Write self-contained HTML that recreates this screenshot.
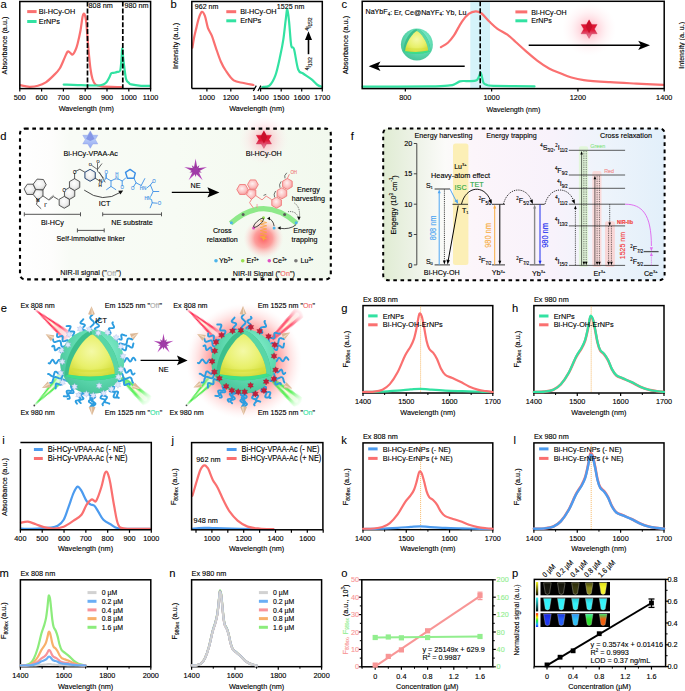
<!DOCTYPE html>
<html><head><meta charset="utf-8"><style>
html,body{margin:0;padding:0;background:#fff;}
svg{display:block;font-family:"Liberation Sans", sans-serif;}
</style></head><body>
<svg width="685" height="691" viewBox="0 0 685 691">
<rect width="685" height="691" fill="#fff"/>
<path d="M20.50 85.20 C21.25 85.37 23.43 85.93 25.00 86.20 C26.57 86.47 27.75 86.87 29.90 86.80 C32.05 86.73 35.25 86.53 37.90 85.80 C40.55 85.07 43.17 84.13 45.80 82.40 C48.43 80.67 51.38 77.72 53.70 75.40 C56.02 73.08 57.87 71.47 59.70 68.50 C61.53 65.53 63.38 60.42 64.70 57.60 C66.02 54.78 66.72 52.43 67.60 51.60 C68.48 50.77 69.17 52.10 70.00 52.60 C70.83 53.10 71.68 55.03 72.60 54.60 C73.52 54.17 74.67 51.82 75.50 50.00 C76.33 48.18 76.77 46.95 77.60 43.70 C78.43 40.45 79.68 34.95 80.50 30.50 C81.32 26.05 81.97 19.82 82.50 17.00 C83.03 14.18 83.28 13.85 83.70 13.60 C84.12 13.35 84.57 13.93 85.00 15.50 C85.43 17.07 85.72 17.32 86.30 23.00 C86.88 28.68 87.80 41.93 88.50 49.60 C89.20 57.27 89.83 64.10 90.50 69.00 C91.17 73.90 91.68 76.43 92.50 79.00 C93.32 81.57 93.92 83.17 95.40 84.40 C96.88 85.63 97.10 85.93 101.40 86.40 C105.70 86.87 117.90 87.07 121.20 87.20" fill="none" stroke="#FA7070" stroke-width="2.2" stroke-linejoin="round" stroke-linecap="round"/>
<path d="M63.70 84.60 C66.02 84.68 71.98 84.95 77.60 85.10 C83.22 85.25 93.17 85.58 97.40 85.50 C101.63 85.42 101.48 85.15 103.00 84.60 C104.52 84.05 105.45 83.37 106.50 82.20 C107.55 81.03 108.50 79.08 109.30 77.60 C110.10 76.12 110.47 74.10 111.30 73.30 C112.13 72.50 113.30 73.03 114.30 72.80 C115.30 72.57 116.32 72.28 117.30 71.90 C118.28 71.52 119.52 72.48 120.20 70.50 C120.88 68.52 121.07 63.65 121.40 60.00 C121.73 56.35 121.90 48.93 122.20 48.60 C122.50 48.27 122.83 54.77 123.20 58.00 C123.57 61.23 123.90 64.43 124.40 68.00 C124.90 71.57 125.43 76.90 126.20 79.40 C126.97 81.90 128.17 82.17 129.00 83.00 C129.83 83.83 129.18 83.93 131.20 84.40 C133.22 84.87 137.97 85.55 141.10 85.80 C144.23 86.05 148.52 85.88 150.00 85.90" fill="none" stroke="#32E2A2" stroke-width="2.2" stroke-linejoin="round" stroke-linecap="round"/>
<line x1="87.50" y1="1.50" x2="87.50" y2="88.60" stroke="#000" stroke-width="1.7" stroke-dasharray="5 1.9"/>
<line x1="122.80" y1="1.50" x2="122.80" y2="88.60" stroke="#000" stroke-width="1.7" stroke-dasharray="5 1.9"/>
<text x="88.60" y="5.80" font-size="7.25" stroke="#000" stroke-width="0.12" transform="translate(88.60 5.80) scale(1 1.1) translate(-88.60 -5.80)" dominant-baseline="central">808 nm</text>
<text x="124.50" y="5.80" font-size="7.25" stroke="#000" stroke-width="0.12" transform="translate(124.50 5.80) scale(1 1.1) translate(-124.50 -5.80)" dominant-baseline="central">980 nm</text>
<rect x="19.80" y="1.50" width="130.80" height="87.10" fill="none" stroke="#000" stroke-width="1.5"/>
<line x1="19.80" y1="88.60" x2="19.80" y2="91.60" stroke="#000" stroke-width="1.2"/>
<line x1="41.60" y1="88.60" x2="41.60" y2="91.60" stroke="#000" stroke-width="1.2"/>
<line x1="63.40" y1="88.60" x2="63.40" y2="91.60" stroke="#000" stroke-width="1.2"/>
<line x1="85.20" y1="88.60" x2="85.20" y2="91.60" stroke="#000" stroke-width="1.2"/>
<line x1="107.00" y1="88.60" x2="107.00" y2="91.60" stroke="#000" stroke-width="1.2"/>
<line x1="128.80" y1="88.60" x2="128.80" y2="91.60" stroke="#000" stroke-width="1.2"/>
<line x1="150.60" y1="88.60" x2="150.60" y2="91.60" stroke="#000" stroke-width="1.2"/>
<text x="19.80" y="97.40" font-size="7.3" text-anchor="middle" stroke="#000" stroke-width="0.12" transform="translate(19.80 97.40) scale(1 1.1) translate(-19.80 -97.40)" dominant-baseline="central">500</text>
<text x="41.60" y="97.40" font-size="7.3" text-anchor="middle" stroke="#000" stroke-width="0.12" transform="translate(41.60 97.40) scale(1 1.1) translate(-41.60 -97.40)" dominant-baseline="central">600</text>
<text x="63.40" y="97.40" font-size="7.3" text-anchor="middle" stroke="#000" stroke-width="0.12" transform="translate(63.40 97.40) scale(1 1.1) translate(-63.40 -97.40)" dominant-baseline="central">700</text>
<text x="85.20" y="97.40" font-size="7.3" text-anchor="middle" stroke="#000" stroke-width="0.12" transform="translate(85.20 97.40) scale(1 1.1) translate(-85.20 -97.40)" dominant-baseline="central">800</text>
<text x="107.00" y="97.40" font-size="7.3" text-anchor="middle" stroke="#000" stroke-width="0.12" transform="translate(107.00 97.40) scale(1 1.1) translate(-107.00 -97.40)" dominant-baseline="central">900</text>
<text x="128.80" y="97.40" font-size="7.3" text-anchor="middle" stroke="#000" stroke-width="0.12" transform="translate(128.80 97.40) scale(1 1.1) translate(-128.80 -97.40)" dominant-baseline="central">1000</text>
<text x="150.60" y="97.40" font-size="7.3" text-anchor="middle" stroke="#000" stroke-width="0.12" transform="translate(150.60 97.40) scale(1 1.1) translate(-150.60 -97.40)" dominant-baseline="central">1100</text>
<text x="86.30" y="108.40" font-size="7.3" text-anchor="middle" stroke="#000" stroke-width="0.12" transform="translate(86.30 108.40) scale(1 1.1) translate(-86.30 -108.40)" dominant-baseline="central">Wavelength (nm)</text>
<text x="4.60" y="45.50" font-size="7.3" text-anchor="middle" stroke="#000" stroke-width="0.12" transform="rotate(-90 4.60 45.50) translate(4.60 45.50) scale(1 1.1) translate(-4.60 -45.50)" dominant-baseline="central">Absorbance (a.u.)</text>
<line x1="27.20" y1="11.60" x2="36.60" y2="11.60" stroke="#FA7070" stroke-width="3"/>
<text x="38.80" y="11.60" font-size="7.3" stroke="#000" stroke-width="0.12" transform="translate(38.80 11.60) scale(1 1.1) translate(-38.80 -11.60)" dominant-baseline="central">Bi-HCy-OH</text>
<line x1="27.20" y1="21.50" x2="36.60" y2="21.50" stroke="#32E2A2" stroke-width="3"/>
<text x="38.80" y="21.50" font-size="7.3" stroke="#000" stroke-width="0.12" transform="translate(38.80 21.50) scale(1 1.1) translate(-38.80 -21.50)" dominant-baseline="central">ErNPs</text>
<path d="M192.40 47.60 C192.67 46.00 193.42 40.97 194.00 38.00 C194.58 35.03 195.08 33.15 195.90 29.80 C196.72 26.45 197.90 20.88 198.90 17.90 C199.90 14.92 200.90 12.23 201.90 11.90 C202.90 11.57 203.90 13.25 204.90 15.90 C205.90 18.55 206.75 24.50 207.90 27.80 C209.05 31.10 210.48 32.40 211.80 35.70 C213.12 39.00 214.30 43.30 215.80 47.60 C217.30 51.90 219.15 57.68 220.80 61.50 C222.45 65.32 223.55 67.35 225.70 70.50 C227.85 73.65 230.72 78.32 233.70 80.40 C236.68 82.48 240.30 82.23 243.60 83.00 C246.90 83.77 251.85 84.67 253.50 85.00" fill="none" stroke="#FA7070" stroke-width="2.2" stroke-linejoin="round" stroke-linecap="round"/>
<path d="M262.40 87.00 C263.57 86.77 267.23 87.53 269.40 85.60 C271.57 83.67 273.58 80.40 275.40 75.40 C277.22 70.40 278.98 61.55 280.30 55.60 C281.62 49.65 282.40 45.65 283.30 39.70 C284.20 33.75 285.03 24.98 285.70 19.90 C286.37 14.82 286.73 8.88 287.30 9.20 C287.87 9.52 288.45 15.80 289.10 21.80 C289.75 27.80 290.38 40.67 291.20 45.20 C292.02 49.73 292.83 44.95 294.00 49.00 C295.17 53.05 296.68 65.42 298.20 69.50 C299.72 73.58 300.87 71.85 303.10 73.50 C305.33 75.15 309.18 77.48 311.60 79.40 C314.02 81.32 315.87 83.77 317.60 85.00 C319.33 86.23 321.27 86.50 322.00 86.80" fill="none" stroke="#32E2A2" stroke-width="2.2" stroke-linejoin="round" stroke-linecap="round"/>
<path d="M191.8 88.6 L191.8 1.5 L322.3 1.5 L322.3 88.6 L259.6 88.6 M255.0 88.6 L191.8 88.6" fill="none" stroke="#000" stroke-width="1.5"/>
<line x1="253.30" y1="91.00" x2="256.30" y2="85.60" stroke="#000" stroke-width="1.2"/>
<line x1="257.90" y1="91.00" x2="260.90" y2="85.60" stroke="#000" stroke-width="1.2"/>
<line x1="204.00" y1="88.60" x2="204.00" y2="88.60" stroke="#000" stroke-width="1.2"/>
<line x1="206.90" y1="88.60" x2="206.90" y2="91.60" stroke="#000" stroke-width="1.2"/>
<text x="206.90" y="97.40" font-size="7.3" text-anchor="middle" stroke="#000" stroke-width="0.12" transform="translate(206.90 97.40) scale(1 1.1) translate(-206.90 -97.40)" dominant-baseline="central">1000</text>
<line x1="230.80" y1="88.60" x2="230.80" y2="91.60" stroke="#000" stroke-width="1.2"/>
<text x="230.80" y="97.40" font-size="7.3" text-anchor="middle" stroke="#000" stroke-width="0.12" transform="translate(230.80 97.40) scale(1 1.1) translate(-230.80 -97.40)" dominant-baseline="central">1200</text>
<line x1="260.60" y1="88.60" x2="260.60" y2="91.60" stroke="#000" stroke-width="1.2"/>
<text x="260.60" y="97.40" font-size="7.3" text-anchor="middle" stroke="#000" stroke-width="0.12" transform="translate(260.60 97.40) scale(1 1.1) translate(-260.60 -97.40)" dominant-baseline="central">1400</text>
<line x1="281.20" y1="88.60" x2="281.20" y2="91.60" stroke="#000" stroke-width="1.2"/>
<text x="281.20" y="97.40" font-size="7.3" text-anchor="middle" stroke="#000" stroke-width="0.12" transform="translate(281.20 97.40) scale(1 1.1) translate(-281.20 -97.40)" dominant-baseline="central">1500</text>
<line x1="301.70" y1="88.60" x2="301.70" y2="91.60" stroke="#000" stroke-width="1.2"/>
<text x="301.70" y="97.40" font-size="7.3" text-anchor="middle" stroke="#000" stroke-width="0.12" transform="translate(301.70 97.40) scale(1 1.1) translate(-301.70 -97.40)" dominant-baseline="central">1600</text>
<line x1="322.30" y1="88.60" x2="322.30" y2="91.60" stroke="#000" stroke-width="1.2"/>
<text x="322.30" y="97.40" font-size="7.3" text-anchor="middle" stroke="#000" stroke-width="0.12" transform="translate(322.30 97.40) scale(1 1.1) translate(-322.30 -97.40)" dominant-baseline="central">1700</text>
<text x="256.80" y="108.00" font-size="7.3" text-anchor="middle" stroke="#000" stroke-width="0.12" transform="translate(256.80 108.00) scale(1 1.1) translate(-256.80 -108.00)" dominant-baseline="central">Wavelength (nm)</text>
<text x="175.20" y="46.00" font-size="7.3" text-anchor="middle" stroke="#000" stroke-width="0.12" transform="rotate(-90 175.20 46.00) translate(175.20 46.00) scale(1 1.1) translate(-175.20 -46.00)" dominant-baseline="central">Intensity (a.u.)</text>
<text x="194.80" y="6.30" font-size="7.1" stroke="#000" stroke-width="0.12" transform="translate(194.80 6.30) scale(1 1.1) translate(-194.80 -6.30)" dominant-baseline="central">962 nm</text>
<text x="276.80" y="6.30" font-size="7.1" stroke="#000" stroke-width="0.12" transform="translate(276.80 6.30) scale(1 1.1) translate(-276.80 -6.30)" dominant-baseline="central">1525 nm</text>
<line x1="226.30" y1="11.70" x2="236.20" y2="11.70" stroke="#FA7070" stroke-width="3"/>
<text x="240.20" y="11.70" font-size="7.3" stroke="#000" stroke-width="0.12" transform="translate(240.20 11.70) scale(1 1.1) translate(-240.20 -11.70)" dominant-baseline="central">Bi-HCy-OH</text>
<line x1="226.30" y1="20.80" x2="236.20" y2="20.80" stroke="#32E2A2" stroke-width="3"/>
<text x="240.20" y="20.80" font-size="7.3" stroke="#000" stroke-width="0.12" transform="translate(240.20 20.80) scale(1 1.1) translate(-240.20 -20.80)" dominant-baseline="central">ErNPs</text>
<line x1="308.50" y1="54.20" x2="308.50" y2="38.00" stroke="#000" stroke-width="1.6"/>
<path d="M308.5 31.2 L312 40 L305 40 Z" fill="#000"/>
<text x="308.30" y="24.00" font-size="6" text-anchor="middle" stroke="#000" stroke-width="0.12" transform="rotate(-90 308.30 24.00) translate(308.30 24.00) scale(1 1.1) translate(-308.30 -24.00)" dominant-baseline="central"><tspan font-size="4.5" dy="-1.5">4</tspan><tspan dy="1.5">I</tspan><tspan font-size="4.5" dy="1.8">15/2</tspan></text>
<text x="308.30" y="63.80" font-size="6" text-anchor="middle" stroke="#000" stroke-width="0.12" transform="rotate(-90 308.30 63.80) translate(308.30 63.80) scale(1 1.1) translate(-308.30 -63.80)" dominant-baseline="central"><tspan font-size="4.5" dy="-1.5">4</tspan><tspan dy="1.5">I</tspan><tspan font-size="4.5" dy="1.8">13/2</tspan></text>
<rect x="470.3" y="1.3" width="19.7" height="87.3" fill="#D5F3FA"/>
<circle cx="416.9" cy="44.5" r="16.0" fill="url(#shell)"/>
<path d="M416.65 29.00 C410.90 30.00 403.15 40.50 403.40 51.75 Q416.90 56.00 430.40 51.50 C430.65 40.50 422.90 30.00 416.65 29.00 Z" fill="#3cbf8c"/>
<path d="M416.65 29.00 C422.90 30.00 430.65 40.50 430.40 51.50 L428.15 50.50 C427.90 42.00 420.15 32.00 416.90 31.00 Z" fill="#58d6a6"/>
<path d="M403.40 51.75 Q416.90 56.00 430.40 51.50 L428.15 50.50 Q416.90 53.10 405.15 50.90 Z" fill="#3de08a"/>
<path d="M416.90 31.00 C413.65 32.00 405.65 42.00 405.15 50.90 Q416.90 53.10 428.15 50.50 C427.90 42.00 420.15 32.00 416.90 31.00 Z" fill="url(#core)"/>
<path d="M406.90 48.25 Q416.90 50.25 426.65 48.00" fill="none" stroke="#d6de3a" stroke-width="1.20" opacity="0.6"/>
<circle cx="589.1" cy="29.1" r="27" fill="url(#glowStar)"/>
<path d="M589.10 19.80 L586.42 24.45 L581.05 24.45 L583.73 29.10 L581.05 33.75 L586.42 33.75 L589.10 38.40 L591.78 33.75 L597.15 33.75 L594.47 29.10 L597.15 24.45 L591.78 24.45 Z" fill="url(#starR)" stroke="#c01030" stroke-width="0.3" stroke-linejoin="round"/>
<path d="M589.10 20.30 L592.60 26.60 L589.10 33.20 L585.60 26.60 Z" fill="#c8102a" stroke="none" stroke-width="0" stroke-linejoin="round"/>
<path d="M440.90 47.20 C442.07 46.45 445.75 44.62 447.90 42.70 C450.05 40.78 451.48 39.18 453.80 35.70 C456.12 32.22 459.32 25.43 461.80 21.80 C464.28 18.17 466.38 15.65 468.70 13.90 C471.02 12.15 473.55 11.37 475.70 11.30 C477.85 11.23 479.28 11.75 481.60 13.50 C483.92 15.25 486.95 19.25 489.60 21.80 C492.25 24.35 494.53 26.65 497.50 28.80 C500.47 30.95 504.42 32.55 507.40 34.70 C510.38 36.85 512.42 39.05 515.40 41.70 C518.38 44.35 521.67 47.45 525.30 50.60 C528.93 53.75 533.23 57.62 537.20 60.60 C541.17 63.58 545.13 66.35 549.10 68.50 C553.07 70.65 557.40 72.03 561.00 73.50 C564.60 74.97 566.90 76.20 570.70 77.30 C574.50 78.40 577.23 79.28 583.80 80.10 C590.37 80.92 601.33 81.62 610.10 82.20 C618.87 82.78 627.50 83.15 636.40 83.60 C645.30 84.05 658.98 84.68 663.50 84.90" fill="none" stroke="#FA7070" stroke-width="2.2" stroke-linejoin="round" stroke-linecap="round"/>
<path d="M362.50 86.60 C373.75 86.57 415.43 86.60 430.00 86.40 C444.57 86.20 445.73 85.80 449.90 85.40 C454.07 85.00 453.35 84.67 455.00 84.00 C456.65 83.33 458.30 81.90 459.80 81.40 C461.30 80.90 462.35 81.03 464.00 81.00 C465.65 80.97 467.58 81.33 469.70 81.20 C471.82 81.07 475.12 81.07 476.70 80.20 C478.28 79.33 478.55 77.28 479.20 76.00 C479.85 74.72 480.13 72.33 480.60 72.50 C481.07 72.67 481.50 75.25 482.00 77.00 C482.50 78.75 482.77 81.67 483.60 83.00 C484.43 84.33 485.35 84.53 487.00 85.00 C488.65 85.47 485.58 85.57 493.50 85.80 C501.42 86.03 527.67 86.30 534.50 86.40" fill="none" stroke="#32E2A2" stroke-width="2.2" stroke-linejoin="round" stroke-linecap="round"/>
<line x1="480.20" y1="1.30" x2="480.20" y2="88.60" stroke="#000" stroke-width="1.6" stroke-dasharray="4.9 2.1"/>
<rect x="362.20" y="1.30" width="302.00" height="87.30" fill="none" stroke="#000" stroke-width="1.5"/>
<line x1="405.34" y1="88.60" x2="405.34" y2="91.60" stroke="#000" stroke-width="1.2"/>
<text x="405.34" y="97.00" font-size="7.3" text-anchor="middle" stroke="#000" stroke-width="0.12" transform="translate(405.34 97.00) scale(1 1.1) translate(-405.34 -97.00)" dominant-baseline="central">800</text>
<line x1="491.63" y1="88.60" x2="491.63" y2="91.60" stroke="#000" stroke-width="1.2"/>
<text x="491.63" y="97.00" font-size="7.3" text-anchor="middle" stroke="#000" stroke-width="0.12" transform="translate(491.63 97.00) scale(1 1.1) translate(-491.63 -97.00)" dominant-baseline="central">1000</text>
<line x1="577.91" y1="88.60" x2="577.91" y2="91.60" stroke="#000" stroke-width="1.2"/>
<text x="577.91" y="97.00" font-size="7.3" text-anchor="middle" stroke="#000" stroke-width="0.12" transform="translate(577.91 97.00) scale(1 1.1) translate(-577.91 -97.00)" dominant-baseline="central">1200</text>
<line x1="664.20" y1="88.60" x2="664.20" y2="91.60" stroke="#000" stroke-width="1.2"/>
<text x="664.20" y="97.00" font-size="7.3" text-anchor="middle" stroke="#000" stroke-width="0.12" transform="translate(664.20 97.00) scale(1 1.1) translate(-664.20 -97.00)" dominant-baseline="central">1400</text>
<text x="513.40" y="109.00" font-size="7.1" text-anchor="middle" stroke="#000" stroke-width="0.12" transform="translate(513.40 109.00) scale(1 1.1) translate(-513.40 -109.00)" dominant-baseline="central">Wavelength (nm)</text>
<text x="345.60" y="45.00" font-size="7.35" text-anchor="middle" stroke="#000" stroke-width="0.12" transform="rotate(-90 345.60 45.00) translate(345.60 45.00) scale(1 1.1) translate(-345.60 -45.00)" dominant-baseline="central">Absorbance (a.u.)</text>
<text x="681.00" y="45.30" font-size="7.1" text-anchor="middle" stroke="#000" stroke-width="0.12" transform="rotate(-90 681.00 45.30) translate(681.00 45.30) scale(1 1.1) translate(-681.00 -45.30)" dominant-baseline="central">Intensity (a. u.)</text>
<text x="365.50" y="11.80" font-size="7.15" stroke="#000" stroke-width="0.12" transform="translate(365.50 11.80) scale(1 1.1) translate(-365.50 -11.80)" dominant-baseline="central">NaYbF<tspan font-size="4.4" dy="1.6">4</tspan><tspan dy="-1.6">: Er, Ce@NaYF</tspan><tspan font-size="4.4" dy="1.6">4</tspan><tspan dy="-1.6">: Yb, Lu</tspan></text>
<line x1="515.40" y1="11.90" x2="527.30" y2="11.90" stroke="#FA7070" stroke-width="3"/>
<text x="531.20" y="11.90" font-size="7.1" stroke="#000" stroke-width="0.12" transform="translate(531.20 11.90) scale(1 1.1) translate(-531.20 -11.90)" dominant-baseline="central">Bi-HCy-OH</text>
<line x1="515.40" y1="20.80" x2="527.30" y2="20.80" stroke="#32E2A2" stroke-width="3"/>
<text x="531.20" y="20.80" font-size="7.1" stroke="#000" stroke-width="0.12" transform="translate(531.20 20.80) scale(1 1.1) translate(-531.20 -20.80)" dominant-baseline="central">ErNPs</text>
<line x1="376.00" y1="66.30" x2="464.70" y2="66.30" stroke="#000" stroke-width="1.4"/>
<path d="M368.7 66.3 L380.5 61.5 L377.8 66.3 L380.5 71.1 Z" fill="#000"/>
<line x1="528.70" y1="45.30" x2="642.00" y2="45.30" stroke="#000" stroke-width="1.4"/>
<path d="M650.0 45.3 L638.2 40.7 L640.9 45.3 L638.2 49.9 Z" fill="#000"/>
<rect x="363.00" y="305.60" width="129.80" height="87.40" fill="none" stroke="#000" stroke-width="1.5"/>
<line x1="420.60" y1="306.60" x2="420.60" y2="392.00" stroke="#F4A640" stroke-width="0.8" stroke-dasharray="1 1"/>
<path d="M363.00 392.00 C365.88 391.94 374.54 391.86 380.31 391.62 C386.08 391.38 392.57 390.92 397.61 390.56 C402.66 390.20 406.84 389.73 410.59 389.44 C414.34 389.15 416.87 388.77 420.11 388.80 C423.36 388.83 425.88 389.31 430.06 389.60 C434.25 389.89 439.80 390.29 445.21 390.56 C450.62 390.83 456.74 391.00 462.51 391.20 C468.28 391.40 474.77 391.61 479.82 391.74 C484.87 391.88 490.64 391.96 492.80 392.00" fill="none" stroke="#32E2A2" stroke-width="2.2" stroke-linejoin="round" stroke-linecap="round"/>
<path d="M363.00 392.00 C364.80 391.93 370.57 392.00 373.82 391.61 C377.06 391.21 379.80 390.89 382.47 389.64 C385.14 388.40 387.30 387.02 389.83 384.14 C392.35 381.26 395.09 377.07 397.61 372.35 C400.14 367.63 402.81 360.17 404.97 355.84 C407.13 351.52 409.08 349.29 410.59 346.41 C412.11 343.53 413.05 341.70 414.05 338.55 C415.06 335.41 415.86 331.35 416.65 327.55 C417.44 323.75 418.24 318.12 418.81 315.76 C419.39 313.40 419.61 313.27 420.11 313.40 C420.62 313.53 421.19 314.32 421.84 316.54 C422.49 318.77 423.21 322.70 424.01 326.76 C424.80 330.82 425.74 337.24 426.60 340.91 C427.47 344.58 428.12 346.81 429.20 348.77 C430.28 350.73 431.79 351.00 433.09 352.70 C434.39 354.40 435.69 356.37 436.99 358.99 C438.28 361.61 439.51 365.80 440.88 368.42 C442.25 371.04 443.40 373.14 445.21 374.71 C447.01 376.28 449.17 376.67 451.70 377.85 C454.22 379.03 457.47 380.34 460.35 381.78 C463.23 383.22 466.12 385.19 469.00 386.50 C471.89 387.81 474.77 388.86 477.66 389.64 C480.54 390.43 483.79 390.82 486.31 391.21 C488.83 391.61 491.72 391.87 492.80 392.00" fill="none" stroke="#FA7070" stroke-width="2.2" stroke-linejoin="round" stroke-linecap="round"/>
<line x1="363.00" y1="393.00" x2="363.00" y2="396.00" stroke="#000" stroke-width="1.2"/>
<text x="363.00" y="401.00" font-size="7.3" text-anchor="middle" stroke="#000" stroke-width="0.12" transform="translate(363.00 401.00) scale(1 1.1) translate(-363.00 -401.00)" dominant-baseline="central">1400</text>
<line x1="406.27" y1="393.00" x2="406.27" y2="396.00" stroke="#000" stroke-width="1.2"/>
<text x="406.27" y="401.00" font-size="7.3" text-anchor="middle" stroke="#000" stroke-width="0.12" transform="translate(406.27 401.00) scale(1 1.1) translate(-406.27 -401.00)" dominant-baseline="central">1500</text>
<line x1="449.53" y1="393.00" x2="449.53" y2="396.00" stroke="#000" stroke-width="1.2"/>
<text x="449.53" y="401.00" font-size="7.3" text-anchor="middle" stroke="#000" stroke-width="0.12" transform="translate(449.53 401.00) scale(1 1.1) translate(-449.53 -401.00)" dominant-baseline="central">1600</text>
<line x1="492.80" y1="393.00" x2="492.80" y2="396.00" stroke="#000" stroke-width="1.2"/>
<text x="492.80" y="401.00" font-size="7.3" text-anchor="middle" stroke="#000" stroke-width="0.12" transform="translate(492.80 401.00) scale(1 1.1) translate(-492.80 -401.00)" dominant-baseline="central">1700</text>
<line x1="384.63" y1="393.00" x2="384.63" y2="395.00" stroke="#000" stroke-width="1.0"/>
<line x1="427.90" y1="393.00" x2="427.90" y2="395.00" stroke="#000" stroke-width="1.0"/>
<line x1="471.17" y1="393.00" x2="471.17" y2="395.00" stroke="#000" stroke-width="1.0"/>
<text x="427.90" y="412.40" font-size="7.3" text-anchor="middle" stroke="#000" stroke-width="0.12" transform="translate(427.90 412.40) scale(1 1.1) translate(-427.90 -412.40)" dominant-baseline="central">Wavelength (nm)</text>
<text x="363.00" y="299.30" font-size="7.3" stroke="#000" stroke-width="0.12" transform="translate(363.00 299.30) scale(1 1.1) translate(-363.00 -299.30)" dominant-baseline="central">Ex 808 nm</text>
<text x="341.30" y="312.00" font-size="11.2" stroke="#000" stroke-width="0.08">g</text>
<line x1="368.20" y1="315.90" x2="377.60" y2="315.90" stroke="#32E2A2" stroke-width="3"/>
<text x="382.80" y="315.90" font-size="7.3" stroke="#000" stroke-width="0.12" transform="translate(382.80 315.90) scale(1 1.1) translate(-382.80 -315.90)" dominant-baseline="central">ErNPs</text>
<line x1="368.20" y1="324.80" x2="377.60" y2="324.80" stroke="#FA7070" stroke-width="3"/>
<text x="382.80" y="324.80" font-size="7.3" stroke="#000" stroke-width="0.12" transform="translate(382.80 324.80) scale(1 1.1) translate(-382.80 -324.80)" dominant-baseline="central">Bi-HCy-OH-ErNPs</text>
<text x="345.50" y="349.20" font-size="7.3" text-anchor="middle" stroke="#000" stroke-width="0.12" transform="rotate(-90 345.50 349.20) translate(345.50 349.20) scale(1 1.1) translate(-345.50 -349.20)" dominant-baseline="central">F<tspan font-size="4.9" dy="2.2">808ex</tspan><tspan dy="-2.2"> (a.u.)</tspan></text>
<rect x="533.90" y="305.60" width="130.10" height="87.40" fill="none" stroke="#000" stroke-width="1.5"/>
<line x1="591.20" y1="306.60" x2="591.20" y2="392.00" stroke="#F4A640" stroke-width="0.8" stroke-dasharray="1 1"/>
<path d="M533.90 392.00 C535.71 391.94 541.49 392.00 544.74 391.62 C547.99 391.25 550.74 390.93 553.41 389.74 C556.09 388.55 558.26 387.23 560.79 384.47 C563.32 381.71 566.06 377.69 568.59 373.18 C571.12 368.66 573.80 361.50 575.97 357.36 C578.13 353.22 580.09 351.09 581.60 348.33 C583.12 345.56 584.06 343.81 585.07 340.80 C586.08 337.78 586.88 333.89 587.67 330.25 C588.47 326.61 589.26 321.22 589.84 318.96 C590.42 316.70 590.64 316.57 591.14 316.70 C591.65 316.83 592.23 317.58 592.88 319.71 C593.53 321.85 594.25 325.61 595.05 329.50 C595.84 333.39 596.78 339.54 597.65 343.06 C598.52 346.57 599.17 348.70 600.25 350.58 C601.34 352.47 602.85 352.72 604.15 354.35 C605.46 355.98 606.76 357.86 608.06 360.37 C609.36 362.88 610.59 366.90 611.96 369.41 C613.33 371.92 614.49 373.93 616.30 375.43 C618.10 376.94 620.27 377.32 622.80 378.45 C625.33 379.58 628.58 380.83 631.48 382.21 C634.37 383.59 637.26 385.47 640.15 386.73 C643.04 387.98 645.93 388.99 648.82 389.74 C651.71 390.49 654.97 390.87 657.50 391.25 C660.02 391.62 662.92 391.87 664.00 392.00" fill="none" stroke="#FA7070" stroke-width="2.6" stroke-linejoin="round" stroke-linecap="round"/>
<path d="M533.90 392.00 C535.71 391.94 541.49 392.00 544.74 391.62 C547.99 391.24 550.74 390.92 553.41 389.71 C556.09 388.50 558.26 387.17 560.79 384.37 C563.32 381.57 566.06 377.50 568.59 372.93 C571.12 368.35 573.80 361.10 575.97 356.90 C578.13 352.71 580.09 350.54 581.60 347.75 C583.12 344.95 584.06 343.17 585.07 340.12 C586.08 337.06 586.88 333.12 587.67 329.43 C588.47 325.75 589.26 320.28 589.84 317.99 C590.42 315.70 590.64 315.57 591.14 315.70 C591.65 315.83 592.23 316.59 592.88 318.75 C593.53 320.91 594.25 324.73 595.05 328.67 C595.84 332.61 596.78 338.84 597.65 342.40 C598.52 345.97 599.17 348.13 600.25 350.03 C601.34 351.94 602.85 352.20 604.15 353.85 C605.46 355.50 606.76 357.41 608.06 359.95 C609.36 362.50 610.59 366.57 611.96 369.11 C613.33 371.65 614.49 373.69 616.30 375.21 C618.10 376.74 620.27 377.12 622.80 378.27 C625.33 379.41 628.58 380.68 631.48 382.08 C634.37 383.48 637.26 385.39 640.15 386.66 C643.04 387.93 645.93 388.95 648.82 389.71 C651.71 390.47 654.97 390.86 657.50 391.24 C660.02 391.62 662.92 391.87 664.00 392.00" fill="none" stroke="#32E2A2" stroke-width="2.2" stroke-linejoin="round" stroke-linecap="round"/>
<line x1="533.90" y1="393.00" x2="533.90" y2="396.00" stroke="#000" stroke-width="1.2"/>
<text x="533.90" y="401.00" font-size="7.3" text-anchor="middle" stroke="#000" stroke-width="0.12" transform="translate(533.90 401.00) scale(1 1.1) translate(-533.90 -401.00)" dominant-baseline="central">1400</text>
<line x1="577.27" y1="393.00" x2="577.27" y2="396.00" stroke="#000" stroke-width="1.2"/>
<text x="577.27" y="401.00" font-size="7.3" text-anchor="middle" stroke="#000" stroke-width="0.12" transform="translate(577.27 401.00) scale(1 1.1) translate(-577.27 -401.00)" dominant-baseline="central">1500</text>
<line x1="620.63" y1="393.00" x2="620.63" y2="396.00" stroke="#000" stroke-width="1.2"/>
<text x="620.63" y="401.00" font-size="7.3" text-anchor="middle" stroke="#000" stroke-width="0.12" transform="translate(620.63 401.00) scale(1 1.1) translate(-620.63 -401.00)" dominant-baseline="central">1600</text>
<line x1="664.00" y1="393.00" x2="664.00" y2="396.00" stroke="#000" stroke-width="1.2"/>
<text x="664.00" y="401.00" font-size="7.3" text-anchor="middle" stroke="#000" stroke-width="0.12" transform="translate(664.00 401.00) scale(1 1.1) translate(-664.00 -401.00)" dominant-baseline="central">1700</text>
<line x1="555.58" y1="393.00" x2="555.58" y2="395.00" stroke="#000" stroke-width="1.0"/>
<line x1="598.95" y1="393.00" x2="598.95" y2="395.00" stroke="#000" stroke-width="1.0"/>
<line x1="642.32" y1="393.00" x2="642.32" y2="395.00" stroke="#000" stroke-width="1.0"/>
<text x="598.95" y="412.40" font-size="7.3" text-anchor="middle" stroke="#000" stroke-width="0.12" transform="translate(598.95 412.40) scale(1 1.1) translate(-598.95 -412.40)" dominant-baseline="central">Wavelength (nm)</text>
<text x="533.90" y="299.30" font-size="7.3" stroke="#000" stroke-width="0.12" transform="translate(533.90 299.30) scale(1 1.1) translate(-533.90 -299.30)" dominant-baseline="central">Ex 980 nm</text>
<text x="511.90" y="312.00" font-size="11.2" stroke="#000" stroke-width="0.08">h</text>
<line x1="539.10" y1="316.00" x2="548.50" y2="316.00" stroke="#32E2A2" stroke-width="3"/>
<text x="553.70" y="316.00" font-size="7.3" stroke="#000" stroke-width="0.12" transform="translate(553.70 316.00) scale(1 1.1) translate(-553.70 -316.00)" dominant-baseline="central">ErNPs</text>
<line x1="539.10" y1="324.80" x2="548.50" y2="324.80" stroke="#FA7070" stroke-width="3"/>
<text x="553.70" y="324.80" font-size="7.3" stroke="#000" stroke-width="0.12" transform="translate(553.70 324.80) scale(1 1.1) translate(-553.70 -324.80)" dominant-baseline="central">Bi-HCy-OH-ErNPs</text>
<text x="516.40" y="349.20" font-size="7.3" text-anchor="middle" stroke="#000" stroke-width="0.12" transform="rotate(-90 516.40 349.20) translate(516.40 349.20) scale(1 1.1) translate(-516.40 -349.20)" dominant-baseline="central">F<tspan font-size="4.9" dy="2.2">980ex</tspan><tspan dy="-2.2"> (a.u.)</tspan></text>
<rect x="363.00" y="442.90" width="129.80" height="86.80" fill="none" stroke="#000" stroke-width="1.5"/>
<line x1="420.60" y1="443.90" x2="420.60" y2="528.70" stroke="#F4A640" stroke-width="0.8" stroke-dasharray="1 1"/>
<path d="M363.00 529.00 C365.88 528.95 374.54 528.88 380.31 528.69 C386.08 528.49 392.57 528.12 397.61 527.83 C402.66 527.54 406.84 527.16 410.59 526.92 C414.34 526.68 416.87 526.38 420.11 526.40 C423.36 526.42 425.88 526.81 430.06 527.05 C434.25 527.29 439.80 527.61 445.21 527.83 C450.62 528.05 456.74 528.19 462.51 528.35 C468.28 528.51 474.77 528.68 479.82 528.79 C484.87 528.90 490.64 528.97 492.80 529.00" fill="none" stroke="#4C9BEF" stroke-width="2.2" stroke-linejoin="round" stroke-linecap="round"/>
<path d="M363.00 528.80 C364.80 528.75 370.57 528.80 373.82 528.51 C377.06 528.22 379.80 527.99 382.47 527.07 C385.14 526.16 387.30 525.16 389.83 523.05 C392.35 520.94 395.09 517.88 397.61 514.42 C400.14 510.97 402.81 505.51 404.97 502.35 C407.13 499.19 409.08 497.56 410.59 495.45 C412.11 493.34 413.05 492.00 414.05 489.70 C415.06 487.40 415.86 484.43 416.65 481.65 C417.44 478.87 418.24 474.75 418.81 473.02 C419.39 471.30 419.61 471.20 420.11 471.30 C420.62 471.40 421.19 471.97 421.84 473.60 C422.49 475.23 423.21 478.10 424.01 481.07 C424.80 484.05 425.74 488.74 426.60 491.42 C427.47 494.11 428.12 495.74 429.20 497.17 C430.28 498.61 431.79 498.80 433.09 500.05 C434.39 501.30 435.69 502.73 436.99 504.65 C438.28 506.57 439.51 509.63 440.88 511.55 C442.25 513.47 443.40 515.00 445.21 516.15 C447.01 517.30 449.17 517.59 451.70 518.45 C454.22 519.31 457.47 520.27 460.35 521.32 C463.23 522.38 466.12 523.82 469.00 524.77 C471.89 525.73 474.77 526.50 477.66 527.07 C480.54 527.65 483.79 527.94 486.31 528.22 C488.83 528.51 491.72 528.70 492.80 528.80" fill="none" stroke="#FA7070" stroke-width="2.2" stroke-linejoin="round" stroke-linecap="round"/>
<line x1="363.00" y1="529.70" x2="363.00" y2="532.70" stroke="#000" stroke-width="1.2"/>
<text x="363.00" y="538.20" font-size="7.3" text-anchor="middle" stroke="#000" stroke-width="0.12" transform="translate(363.00 538.20) scale(1 1.1) translate(-363.00 -538.20)" dominant-baseline="central">1400</text>
<line x1="406.27" y1="529.70" x2="406.27" y2="532.70" stroke="#000" stroke-width="1.2"/>
<text x="406.27" y="538.20" font-size="7.3" text-anchor="middle" stroke="#000" stroke-width="0.12" transform="translate(406.27 538.20) scale(1 1.1) translate(-406.27 -538.20)" dominant-baseline="central">1500</text>
<line x1="449.53" y1="529.70" x2="449.53" y2="532.70" stroke="#000" stroke-width="1.2"/>
<text x="449.53" y="538.20" font-size="7.3" text-anchor="middle" stroke="#000" stroke-width="0.12" transform="translate(449.53 538.20) scale(1 1.1) translate(-449.53 -538.20)" dominant-baseline="central">1600</text>
<line x1="492.80" y1="529.70" x2="492.80" y2="532.70" stroke="#000" stroke-width="1.2"/>
<text x="492.80" y="538.20" font-size="7.3" text-anchor="middle" stroke="#000" stroke-width="0.12" transform="translate(492.80 538.20) scale(1 1.1) translate(-492.80 -538.20)" dominant-baseline="central">1700</text>
<line x1="384.63" y1="529.70" x2="384.63" y2="531.70" stroke="#000" stroke-width="1.0"/>
<line x1="427.90" y1="529.70" x2="427.90" y2="531.70" stroke="#000" stroke-width="1.0"/>
<line x1="471.17" y1="529.70" x2="471.17" y2="531.70" stroke="#000" stroke-width="1.0"/>
<text x="427.90" y="548.60" font-size="7.3" text-anchor="middle" stroke="#000" stroke-width="0.12" transform="translate(427.90 548.60) scale(1 1.1) translate(-427.90 -548.60)" dominant-baseline="central">Wavelength (nm)</text>
<text x="363.00" y="436.60" font-size="7.3" stroke="#000" stroke-width="0.12" transform="translate(363.00 436.60) scale(1 1.1) translate(-363.00 -436.60)" dominant-baseline="central">Ex 808 nm</text>
<text x="341.20" y="444.00" font-size="11.2" stroke="#000" stroke-width="0.08">k</text>
<line x1="368.20" y1="448.90" x2="377.60" y2="448.90" stroke="#4C9BEF" stroke-width="3"/>
<text x="382.80" y="448.90" font-size="7.3" stroke="#000" stroke-width="0.12" transform="translate(382.80 448.90) scale(1 1.1) translate(-382.80 -448.90)" dominant-baseline="central">Bi-HCy-ErNPs (- NE)</text>
<line x1="368.20" y1="458.40" x2="377.60" y2="458.40" stroke="#FA7070" stroke-width="3"/>
<text x="382.80" y="458.40" font-size="7.3" stroke="#000" stroke-width="0.12" transform="translate(382.80 458.40) scale(1 1.1) translate(-382.80 -458.40)" dominant-baseline="central">Bi-HCy-ErNPs (+ NE)</text>
<text x="345.40" y="486.80" font-size="7.3" text-anchor="middle" stroke="#000" stroke-width="0.12" transform="rotate(-90 345.40 486.80) translate(345.40 486.80) scale(1 1.1) translate(-345.40 -486.80)" dominant-baseline="central">F<tspan font-size="4.9" dy="2.2">808ex</tspan><tspan dy="-2.2"> (a.u.)</tspan></text>
<rect x="533.90" y="442.90" width="130.10" height="86.80" fill="none" stroke="#000" stroke-width="1.5"/>
<line x1="591.20" y1="443.90" x2="591.20" y2="528.70" stroke="#F4A640" stroke-width="0.8" stroke-dasharray="1 1"/>
<path d="M533.90 528.80 C535.71 528.74 541.49 528.80 544.74 528.42 C547.99 528.04 550.74 527.73 553.41 526.53 C556.09 525.34 558.26 524.02 560.79 521.25 C563.32 518.48 566.06 514.45 568.59 509.92 C571.12 505.39 573.80 498.22 575.97 494.07 C578.13 489.92 580.09 487.78 581.60 485.01 C583.12 482.24 584.06 480.48 585.07 477.46 C586.08 474.44 586.88 470.54 587.67 466.89 C588.47 463.24 589.26 457.83 589.84 455.56 C590.42 453.30 590.64 453.17 591.14 453.30 C591.65 453.43 592.23 454.18 592.88 456.32 C593.53 458.46 594.25 462.23 595.05 466.13 C595.84 470.04 596.78 476.20 597.65 479.72 C598.52 483.25 599.17 485.39 600.25 487.27 C601.34 489.16 602.85 489.41 604.15 491.05 C605.46 492.69 606.76 494.57 608.06 497.09 C609.36 499.61 610.59 503.63 611.96 506.15 C613.33 508.67 614.49 510.68 616.30 512.19 C618.10 513.70 620.27 514.08 622.80 515.21 C625.33 516.34 628.58 517.60 631.48 518.98 C634.37 520.37 637.26 522.26 640.15 523.51 C643.04 524.77 645.93 525.78 648.82 526.53 C651.71 527.29 654.97 527.67 657.50 528.04 C660.02 528.42 662.92 528.67 664.00 528.80" fill="none" stroke="#FA7070" stroke-width="2.6" stroke-linejoin="round" stroke-linecap="round"/>
<path d="M533.90 528.80 C535.71 528.74 541.49 528.80 544.74 528.43 C547.99 528.06 550.74 527.75 553.41 526.57 C556.09 525.40 558.26 524.10 560.79 521.38 C563.32 518.66 566.06 514.70 568.59 510.25 C571.12 505.80 573.80 498.75 575.97 494.67 C578.13 490.59 580.09 488.48 581.60 485.76 C583.12 483.04 584.06 481.31 585.07 478.34 C586.08 475.38 586.88 471.54 587.67 467.96 C588.47 464.37 589.26 459.05 589.84 456.83 C590.42 454.60 590.64 454.48 591.14 454.60 C591.65 454.72 592.23 455.47 592.88 457.57 C593.53 459.67 594.25 463.38 595.05 467.21 C595.84 471.05 596.78 477.11 597.65 480.57 C598.52 484.03 599.17 486.13 600.25 487.99 C601.34 489.84 602.85 490.09 604.15 491.70 C605.46 493.31 606.76 495.16 608.06 497.64 C609.36 500.11 610.59 504.07 611.96 506.54 C613.33 509.01 614.49 510.99 616.30 512.48 C618.10 513.96 620.27 514.33 622.80 515.44 C625.33 516.56 628.58 517.79 631.48 519.15 C634.37 520.51 637.26 522.37 640.15 523.61 C643.04 524.84 645.93 525.83 648.82 526.57 C651.71 527.32 654.97 527.69 657.50 528.06 C660.02 528.43 662.92 528.68 664.00 528.80" fill="none" stroke="#4C9BEF" stroke-width="2.4" stroke-linejoin="round" stroke-linecap="round"/>
<line x1="533.90" y1="529.70" x2="533.90" y2="532.70" stroke="#000" stroke-width="1.2"/>
<text x="533.90" y="538.20" font-size="7.3" text-anchor="middle" stroke="#000" stroke-width="0.12" transform="translate(533.90 538.20) scale(1 1.1) translate(-533.90 -538.20)" dominant-baseline="central">1400</text>
<line x1="577.27" y1="529.70" x2="577.27" y2="532.70" stroke="#000" stroke-width="1.2"/>
<text x="577.27" y="538.20" font-size="7.3" text-anchor="middle" stroke="#000" stroke-width="0.12" transform="translate(577.27 538.20) scale(1 1.1) translate(-577.27 -538.20)" dominant-baseline="central">1500</text>
<line x1="620.63" y1="529.70" x2="620.63" y2="532.70" stroke="#000" stroke-width="1.2"/>
<text x="620.63" y="538.20" font-size="7.3" text-anchor="middle" stroke="#000" stroke-width="0.12" transform="translate(620.63 538.20) scale(1 1.1) translate(-620.63 -538.20)" dominant-baseline="central">1600</text>
<line x1="664.00" y1="529.70" x2="664.00" y2="532.70" stroke="#000" stroke-width="1.2"/>
<text x="664.00" y="538.20" font-size="7.3" text-anchor="middle" stroke="#000" stroke-width="0.12" transform="translate(664.00 538.20) scale(1 1.1) translate(-664.00 -538.20)" dominant-baseline="central">1700</text>
<line x1="555.58" y1="529.70" x2="555.58" y2="531.70" stroke="#000" stroke-width="1.0"/>
<line x1="598.95" y1="529.70" x2="598.95" y2="531.70" stroke="#000" stroke-width="1.0"/>
<line x1="642.32" y1="529.70" x2="642.32" y2="531.70" stroke="#000" stroke-width="1.0"/>
<text x="598.95" y="548.60" font-size="7.3" text-anchor="middle" stroke="#000" stroke-width="0.12" transform="translate(598.95 548.60) scale(1 1.1) translate(-598.95 -548.60)" dominant-baseline="central">Wavelength (nm)</text>
<text x="533.90" y="436.60" font-size="7.3" stroke="#000" stroke-width="0.12" transform="translate(533.90 436.60) scale(1 1.1) translate(-533.90 -436.60)" dominant-baseline="central">Ex 980 nm</text>
<text x="513.40" y="444.00" font-size="11.2" stroke="#000" stroke-width="0.08">l</text>
<line x1="539.10" y1="448.90" x2="548.50" y2="448.90" stroke="#4C9BEF" stroke-width="3"/>
<text x="553.70" y="448.90" font-size="7.3" stroke="#000" stroke-width="0.12" transform="translate(553.70 448.90) scale(1 1.1) translate(-553.70 -448.90)" dominant-baseline="central">Bi-HCy-ErNPs (- NE)</text>
<line x1="539.10" y1="458.40" x2="548.50" y2="458.40" stroke="#FA7070" stroke-width="3"/>
<text x="553.70" y="458.40" font-size="7.3" stroke="#000" stroke-width="0.12" transform="translate(553.70 458.40) scale(1 1.1) translate(-553.70 -458.40)" dominant-baseline="central">Bi-HCy-ErNPs (+ NE)</text>
<text x="516.40" y="486.80" font-size="7.3" text-anchor="middle" stroke="#000" stroke-width="0.12" transform="rotate(-90 516.40 486.80) translate(516.40 486.80) scale(1 1.1) translate(-516.40 -486.80)" dominant-baseline="central">F<tspan font-size="4.9" dy="2.2">980ex</tspan><tspan dy="-2.2"> (a.u.)</tspan></text>
<g transform="translate(0 1.3)">
<path d="M21.00 527.40 C23.82 527.40 33.10 527.57 37.90 527.40 C42.70 527.23 46.50 526.90 49.80 526.40 C53.10 525.90 55.38 525.73 57.70 524.40 C60.02 523.07 61.88 521.55 63.70 518.40 C65.52 515.25 66.95 509.97 68.60 505.50 C70.25 501.03 72.10 494.97 73.60 491.60 C75.10 488.23 76.28 485.63 77.60 485.30 C78.92 484.97 80.02 487.22 81.50 489.60 C82.98 491.98 85.00 497.35 86.50 499.60 C88.00 501.85 89.18 502.28 90.50 503.10 C91.82 503.92 93.08 503.27 94.40 504.50 C95.72 505.73 96.90 508.18 98.40 510.50 C99.90 512.82 101.25 516.25 103.40 518.40 C105.55 520.55 108.67 521.93 111.30 523.40 C113.93 524.87 112.75 526.50 119.20 527.20 C125.65 527.90 144.87 527.53 150.00 527.60" fill="none" stroke="#4C9BEF" stroke-width="2.2" stroke-linejoin="round" stroke-linecap="round"/>
<path d="M21.00 521.40 C22.15 521.23 25.42 520.13 27.90 520.40 C30.38 520.67 33.25 522.10 35.90 523.00 C38.55 523.90 40.83 525.10 43.80 525.80 C46.77 526.50 50.38 527.27 53.70 527.20 C57.02 527.13 60.38 526.70 63.70 525.40 C67.02 524.10 70.63 521.38 73.60 519.40 C76.57 517.42 79.35 516.15 81.50 513.50 C83.65 510.85 84.83 506.05 86.50 503.50 C88.17 500.95 90.25 498.88 91.50 498.20 C92.75 497.52 93.18 499.23 94.00 499.40 C94.82 499.57 95.17 501.48 96.40 499.20 C97.63 496.92 100.05 490.07 101.40 485.70 C102.75 481.33 103.68 475.58 104.50 473.00 C105.32 470.42 105.67 470.12 106.30 470.20 C106.93 470.28 107.63 471.58 108.30 473.50 C108.97 475.42 109.30 476.37 110.30 481.70 C111.30 487.03 112.97 498.55 114.30 505.50 C115.63 512.45 116.48 519.78 118.30 523.40 C120.12 527.02 119.92 526.50 125.20 527.20 C130.48 527.90 145.87 527.53 150.00 527.60" fill="none" stroke="#FA7070" stroke-width="2.2" stroke-linejoin="round" stroke-linecap="round"/>
</g>
<path d="M20.4 449 L20.4 529.8 L151.3 529.8 L151.3 442.6 L20.4 442.6" fill="none" stroke="#000" stroke-width="1.5"/>
<line x1="20.40" y1="529.80" x2="20.40" y2="532.80" stroke="#000" stroke-width="1.2"/>
<text x="20.40" y="538.00" font-size="7.3" text-anchor="middle" stroke="#000" stroke-width="0.12" transform="translate(20.40 538.00) scale(1 1.1) translate(-20.40 -538.00)" dominant-baseline="central">400</text>
<line x1="42.22" y1="529.80" x2="42.22" y2="532.80" stroke="#000" stroke-width="1.2"/>
<text x="42.22" y="538.00" font-size="7.3" text-anchor="middle" stroke="#000" stroke-width="0.12" transform="translate(42.22 538.00) scale(1 1.1) translate(-42.22 -538.00)" dominant-baseline="central">500</text>
<line x1="64.03" y1="529.80" x2="64.03" y2="532.80" stroke="#000" stroke-width="1.2"/>
<text x="64.03" y="538.00" font-size="7.3" text-anchor="middle" stroke="#000" stroke-width="0.12" transform="translate(64.03 538.00) scale(1 1.1) translate(-64.03 -538.00)" dominant-baseline="central">600</text>
<line x1="85.85" y1="529.80" x2="85.85" y2="532.80" stroke="#000" stroke-width="1.2"/>
<text x="85.85" y="538.00" font-size="7.3" text-anchor="middle" stroke="#000" stroke-width="0.12" transform="translate(85.85 538.00) scale(1 1.1) translate(-85.85 -538.00)" dominant-baseline="central">700</text>
<line x1="107.67" y1="529.80" x2="107.67" y2="532.80" stroke="#000" stroke-width="1.2"/>
<text x="107.67" y="538.00" font-size="7.3" text-anchor="middle" stroke="#000" stroke-width="0.12" transform="translate(107.67 538.00) scale(1 1.1) translate(-107.67 -538.00)" dominant-baseline="central">800</text>
<line x1="129.48" y1="529.80" x2="129.48" y2="532.80" stroke="#000" stroke-width="1.2"/>
<text x="129.48" y="538.00" font-size="7.3" text-anchor="middle" stroke="#000" stroke-width="0.12" transform="translate(129.48 538.00) scale(1 1.1) translate(-129.48 -538.00)" dominant-baseline="central">900</text>
<line x1="151.30" y1="529.80" x2="151.30" y2="532.80" stroke="#000" stroke-width="1.2"/>
<text x="151.30" y="538.00" font-size="7.3" text-anchor="middle" stroke="#000" stroke-width="0.12" transform="translate(151.30 538.00) scale(1 1.1) translate(-151.30 -538.00)" dominant-baseline="central">1000</text>
<text x="85.50" y="548.60" font-size="7.3" text-anchor="middle" stroke="#000" stroke-width="0.12" transform="translate(85.50 548.60) scale(1 1.1) translate(-85.50 -548.60)" dominant-baseline="central">Wavelength (nm)</text>
<text x="4.60" y="487.00" font-size="7.3" text-anchor="middle" stroke="#000" stroke-width="0.12" transform="rotate(-90 4.60 487.00) translate(4.60 487.00) scale(1 1.1) translate(-4.60 -487.00)" dominant-baseline="central">Absorbance (a.u.)</text>
<text x="2.30" y="444.00" font-size="11.2" stroke="#000" stroke-width="0.08">i</text>
<line x1="33.90" y1="449.50" x2="42.80" y2="449.50" stroke="#4C9BEF" stroke-width="3"/>
<text x="47.80" y="449.50" font-size="7.4" stroke="#000" stroke-width="0.12" transform="translate(47.80 449.50) scale(1 1.1) translate(-47.80 -449.50)" dominant-baseline="central">Bi-HCy-VPAA-Ac (- NE)</text>
<line x1="33.90" y1="458.50" x2="42.80" y2="458.50" stroke="#FA7070" stroke-width="3"/>
<text x="47.80" y="458.50" font-size="7.4" stroke="#000" stroke-width="0.12" transform="translate(47.80 458.50) scale(1 1.1) translate(-47.80 -458.50)" dominant-baseline="central">Bi-HCy-VPAA-Ac (+ NE)</text>
<g transform="translate(0 1.2)">
<path d="M192.40 527.60 C193.50 527.47 196.73 526.97 199.00 526.80 C201.27 526.63 203.33 526.57 206.00 526.60 C208.67 526.63 209.33 526.83 215.00 527.00 C220.67 527.17 230.27 527.40 240.00 527.60 C249.73 527.80 267.83 528.10 273.40 528.20" fill="none" stroke="#4C9BEF" stroke-width="2.2" stroke-linejoin="round" stroke-linecap="round"/>
<path d="M192.40 494.60 C192.98 492.62 194.65 486.83 195.90 482.70 C197.15 478.57 198.80 472.72 199.90 469.80 C201.00 466.88 201.67 466.13 202.50 465.20 C203.33 464.27 204.15 464.07 204.90 464.20 C205.65 464.33 206.35 465.23 207.00 466.00 C207.65 466.77 207.83 466.68 208.80 468.80 C209.77 470.92 211.30 475.72 212.80 478.70 C214.30 481.68 215.98 483.22 217.80 486.70 C219.62 490.18 221.72 495.63 223.70 499.60 C225.68 503.57 227.38 507.20 229.70 510.50 C232.02 513.80 234.62 516.92 237.60 519.40 C240.58 521.88 243.95 524.07 247.60 525.40 C251.25 526.73 255.20 526.97 259.50 527.40 C263.80 527.83 271.08 527.90 273.40 528.00" fill="none" stroke="#FA7070" stroke-width="2.2" stroke-linejoin="round" stroke-linecap="round"/>
</g>
<rect x="191.60" y="442.60" width="131.30" height="87.20" fill="none" stroke="#000" stroke-width="1.5"/>
<line x1="196.00" y1="529.80" x2="196.00" y2="532.80" stroke="#000" stroke-width="1.2"/>
<line x1="211.90" y1="529.80" x2="211.90" y2="532.80" stroke="#000" stroke-width="1.2"/>
<text x="211.90" y="538.00" font-size="7.3" text-anchor="middle" stroke="#000" stroke-width="0.12" transform="translate(211.90 538.00) scale(1 1.1) translate(-211.90 -538.00)" dominant-baseline="central">1000</text>
<line x1="227.80" y1="529.80" x2="227.80" y2="532.80" stroke="#000" stroke-width="1.2"/>
<line x1="243.70" y1="529.80" x2="243.70" y2="532.80" stroke="#000" stroke-width="1.2"/>
<text x="243.70" y="538.00" font-size="7.3" text-anchor="middle" stroke="#000" stroke-width="0.12" transform="translate(243.70 538.00) scale(1 1.1) translate(-243.70 -538.00)" dominant-baseline="central">1200</text>
<line x1="259.60" y1="529.80" x2="259.60" y2="532.80" stroke="#000" stroke-width="1.2"/>
<line x1="275.50" y1="529.80" x2="275.50" y2="532.80" stroke="#000" stroke-width="1.2"/>
<text x="275.50" y="538.00" font-size="7.3" text-anchor="middle" stroke="#000" stroke-width="0.12" transform="translate(275.50 538.00) scale(1 1.1) translate(-275.50 -538.00)" dominant-baseline="central">1400</text>
<line x1="291.40" y1="529.80" x2="291.40" y2="532.80" stroke="#000" stroke-width="1.2"/>
<line x1="307.30" y1="529.80" x2="307.30" y2="532.80" stroke="#000" stroke-width="1.2"/>
<text x="307.30" y="538.00" font-size="7.3" text-anchor="middle" stroke="#000" stroke-width="0.12" transform="translate(307.30 538.00) scale(1 1.1) translate(-307.30 -538.00)" dominant-baseline="central">1600</text>
<line x1="323.20" y1="529.80" x2="323.20" y2="532.80" stroke="#000" stroke-width="1.2"/>
<text x="256.60" y="548.60" font-size="7.3" text-anchor="middle" stroke="#000" stroke-width="0.12" transform="translate(256.60 548.60) scale(1 1.1) translate(-256.60 -548.60)" dominant-baseline="central">Wavelength (nm)</text>
<text x="173.80" y="486.70" font-size="7.3" text-anchor="middle" stroke="#000" stroke-width="0.12" transform="rotate(-90 173.80 486.70) translate(173.80 486.70) scale(1 1.1) translate(-173.80 -486.70)" dominant-baseline="central">F<tspan font-size="4.9" dy="2.2">808ex</tspan><tspan dy="-2.2"> (a.u.)</tspan></text>
<text x="171.40" y="444.00" font-size="11.2" stroke="#000" stroke-width="0.08">j</text>
<text x="196.30" y="458.90" font-size="7.3" stroke="#000" stroke-width="0.12" transform="translate(196.30 458.90) scale(1 1.1) translate(-196.30 -458.90)" dominant-baseline="central">962 nm</text>
<text x="193.60" y="520.40" font-size="7.3" stroke="#000" stroke-width="0.12" transform="translate(193.60 520.40) scale(1 1.1) translate(-193.60 -520.40)" dominant-baseline="central">948 nm</text>
<line x1="226.70" y1="449.50" x2="236.60" y2="449.50" stroke="#4C9BEF" stroke-width="3"/>
<text x="241.60" y="449.50" font-size="7.4" stroke="#000" stroke-width="0.12" transform="translate(241.60 449.50) scale(1 1.1) translate(-241.60 -449.50)" dominant-baseline="central">Bi-HCy-VPAA-Ac (- NE)</text>
<line x1="226.70" y1="458.50" x2="236.60" y2="458.50" stroke="#FA7070" stroke-width="3"/>
<text x="241.60" y="458.50" font-size="7.4" stroke="#000" stroke-width="0.12" transform="translate(241.60 458.50) scale(1 1.1) translate(-241.60 -458.50)" dominant-baseline="central">Bi-HCy-VPAA-Ac (+ NE)</text>
<rect x="20.40" y="579.80" width="130.40" height="86.90" fill="none" stroke="#000" stroke-width="1.5"/>
<path d="M20.40 665.50 C21.31 665.50 24.20 665.50 25.83 665.49 C27.46 665.48 28.84 665.48 30.18 665.46 C31.52 665.43 32.61 665.40 33.87 665.35 C35.14 665.30 36.52 665.22 37.79 665.12 C39.05 665.03 40.39 664.89 41.48 664.81 C42.57 664.73 43.55 664.68 44.31 664.63 C45.07 664.58 45.54 664.54 46.05 664.48 C46.55 664.42 46.95 664.34 47.35 664.27 C47.75 664.20 48.15 664.09 48.44 664.04 C48.73 664.00 48.83 664.00 49.09 664.00 C49.34 664.00 49.63 664.02 49.96 664.06 C50.28 664.10 50.65 664.18 51.04 664.25 C51.44 664.33 51.91 664.45 52.35 664.52 C52.78 664.60 53.11 664.64 53.65 664.67 C54.20 664.71 54.96 664.72 55.61 664.75 C56.26 664.78 56.91 664.82 57.56 664.87 C58.22 664.92 58.83 665.00 59.52 665.05 C60.21 665.10 60.79 665.14 61.69 665.17 C62.60 665.20 63.69 665.21 64.95 665.23 C66.22 665.25 67.85 665.28 69.30 665.30 C70.75 665.33 72.20 665.37 73.65 665.39 C75.10 665.42 76.54 665.44 77.99 665.46 C79.44 665.47 81.07 665.48 82.34 665.49 C83.61 665.49 85.06 665.50 85.60 665.50" fill="none" stroke="#D2D2D2" stroke-width="2.2" stroke-linejoin="round" stroke-linecap="round"/>
<path d="M20.40 665.50 C21.31 665.44 24.20 665.50 25.83 665.15 C27.46 664.80 28.84 664.51 30.18 663.40 C31.52 662.29 32.61 661.07 33.87 658.50 C35.14 655.93 36.52 652.20 37.79 648.00 C39.05 643.80 40.39 637.15 41.48 633.30 C42.57 629.45 43.55 627.47 44.31 624.90 C45.07 622.33 45.54 620.70 46.05 617.90 C46.55 615.10 46.95 611.48 47.35 608.10 C47.75 604.72 48.15 599.70 48.44 597.60 C48.73 595.50 48.83 595.38 49.09 595.50 C49.34 595.62 49.63 596.32 49.96 598.30 C50.28 600.28 50.65 603.78 51.04 607.40 C51.44 611.02 51.91 616.73 52.35 620.00 C52.78 623.27 53.11 625.25 53.65 627.00 C54.20 628.75 54.96 628.98 55.61 630.50 C56.26 632.02 56.91 633.77 57.56 636.10 C58.22 638.43 58.83 642.17 59.52 644.50 C60.21 646.83 60.79 648.70 61.69 650.10 C62.60 651.50 63.69 651.85 64.95 652.90 C66.22 653.95 67.85 655.12 69.30 656.40 C70.75 657.68 72.20 659.43 73.65 660.60 C75.10 661.77 76.54 662.70 77.99 663.40 C79.44 664.10 81.07 664.45 82.34 664.80 C83.61 665.15 85.06 665.38 85.60 665.50" fill="none" stroke="#8CEC7C" stroke-width="2.2" stroke-linejoin="round" stroke-linecap="round"/>
<path d="M20.40 665.50 C21.31 665.47 24.20 665.50 25.83 665.33 C27.46 665.16 28.84 665.02 30.18 664.48 C31.52 663.94 32.61 663.35 33.87 662.10 C35.14 660.85 36.52 659.04 37.79 657.00 C39.05 654.96 40.39 651.73 41.48 649.86 C42.57 647.99 43.55 647.03 44.31 645.78 C45.07 644.53 45.54 643.74 46.05 642.38 C46.55 641.02 46.95 639.26 47.35 637.62 C47.75 635.98 48.15 633.54 48.44 632.52 C48.73 631.50 48.83 631.44 49.09 631.50 C49.34 631.56 49.63 631.90 49.96 632.86 C50.28 633.82 50.65 635.52 51.04 637.28 C51.44 639.04 51.91 641.81 52.35 643.40 C52.78 644.99 53.11 645.95 53.65 646.80 C54.20 647.65 54.96 647.76 55.61 648.50 C56.26 649.24 56.91 650.09 57.56 651.22 C58.22 652.35 58.83 654.17 59.52 655.30 C60.21 656.43 60.79 657.34 61.69 658.02 C62.60 658.70 63.69 658.87 64.95 659.38 C66.22 659.89 67.85 660.46 69.30 661.08 C70.75 661.70 72.20 662.55 73.65 663.12 C75.10 663.69 76.54 664.14 77.99 664.48 C79.44 664.82 81.07 664.99 82.34 665.16 C83.61 665.33 85.06 665.44 85.60 665.50" fill="none" stroke="#F8B06A" stroke-width="2.2" stroke-linejoin="round" stroke-linecap="round"/>
<path d="M20.40 665.50 C21.31 665.49 24.20 665.50 25.83 665.42 C27.46 665.35 28.84 665.28 30.18 665.03 C31.52 664.79 32.61 664.52 33.87 663.95 C35.14 663.38 36.52 662.56 37.79 661.62 C39.05 660.69 40.39 659.22 41.48 658.37 C42.57 657.52 43.55 657.08 44.31 656.51 C45.07 655.94 45.54 655.58 46.05 654.96 C46.55 654.34 46.95 653.54 47.35 652.79 C47.75 652.04 48.15 650.93 48.44 650.47 C48.73 650.00 48.83 649.97 49.09 650.00 C49.34 650.03 49.63 650.18 49.96 650.62 C50.28 651.06 50.65 651.83 51.04 652.63 C51.44 653.44 51.91 654.70 52.35 655.42 C52.78 656.15 53.11 656.59 53.65 656.98 C54.20 657.36 54.96 657.41 55.61 657.75 C56.26 658.09 56.91 658.47 57.56 658.99 C58.22 659.51 58.83 660.33 59.52 660.85 C60.21 661.37 60.79 661.78 61.69 662.09 C62.60 662.40 63.69 662.48 64.95 662.71 C66.22 662.94 67.85 663.20 69.30 663.49 C70.75 663.77 72.20 664.16 73.65 664.41 C75.10 664.67 76.54 664.88 77.99 665.03 C79.44 665.19 81.07 665.27 82.34 665.35 C83.61 665.42 85.06 665.47 85.60 665.50" fill="none" stroke="#F8949A" stroke-width="2.2" stroke-linejoin="round" stroke-linecap="round"/>
<path d="M20.40 665.50 C21.31 665.49 24.20 665.50 25.83 665.46 C27.46 665.41 28.84 665.37 30.18 665.23 C31.52 665.09 32.61 664.93 33.87 664.60 C35.14 664.27 36.52 663.79 37.79 663.25 C39.05 662.71 40.39 661.86 41.48 661.36 C42.57 660.87 43.55 660.61 44.31 660.28 C45.07 659.95 45.54 659.74 46.05 659.38 C46.55 659.02 46.95 658.56 47.35 658.12 C47.75 657.68 48.15 657.04 48.44 656.77 C48.73 656.50 48.83 656.49 49.09 656.50 C49.34 656.51 49.63 656.61 49.96 656.86 C50.28 657.12 50.65 657.56 51.04 658.03 C51.44 658.50 51.91 659.23 52.35 659.65 C52.78 660.07 53.11 660.32 53.65 660.55 C54.20 660.77 54.96 660.80 55.61 661.00 C56.26 661.20 56.91 661.42 57.56 661.72 C58.22 662.02 58.83 662.50 59.52 662.80 C60.21 663.10 60.79 663.34 61.69 663.52 C62.60 663.70 63.69 663.75 64.95 663.88 C66.22 664.01 67.85 664.17 69.30 664.33 C70.75 664.50 72.20 664.72 73.65 664.87 C75.10 665.02 76.54 665.14 77.99 665.23 C79.44 665.32 81.07 665.37 82.34 665.41 C83.61 665.45 85.06 665.49 85.60 665.50" fill="none" stroke="#6AAEF5" stroke-width="2.2" stroke-linejoin="round" stroke-linecap="round"/>
<line x1="20.40" y1="666.70" x2="20.40" y2="669.70" stroke="#000" stroke-width="1.2"/>
<text x="20.40" y="675.60" font-size="7.3" text-anchor="middle" stroke="#000" stroke-width="0.12" transform="translate(20.40 675.60) scale(1 1.1) translate(-20.40 -675.60)" dominant-baseline="central">1400</text>
<line x1="42.13" y1="666.70" x2="42.13" y2="668.70" stroke="#000" stroke-width="1.0"/>
<line x1="63.87" y1="666.70" x2="63.87" y2="669.70" stroke="#000" stroke-width="1.2"/>
<text x="63.87" y="675.60" font-size="7.3" text-anchor="middle" stroke="#000" stroke-width="0.12" transform="translate(63.87 675.60) scale(1 1.1) translate(-63.87 -675.60)" dominant-baseline="central">1600</text>
<line x1="85.60" y1="666.70" x2="85.60" y2="668.70" stroke="#000" stroke-width="1.0"/>
<line x1="107.33" y1="666.70" x2="107.33" y2="669.70" stroke="#000" stroke-width="1.2"/>
<text x="107.33" y="675.60" font-size="7.3" text-anchor="middle" stroke="#000" stroke-width="0.12" transform="translate(107.33 675.60) scale(1 1.1) translate(-107.33 -675.60)" dominant-baseline="central">1800</text>
<line x1="129.07" y1="666.70" x2="129.07" y2="668.70" stroke="#000" stroke-width="1.0"/>
<line x1="150.80" y1="666.70" x2="150.80" y2="669.70" stroke="#000" stroke-width="1.2"/>
<text x="150.80" y="675.60" font-size="7.3" text-anchor="middle" stroke="#000" stroke-width="0.12" transform="translate(150.80 675.60) scale(1 1.1) translate(-150.80 -675.60)" dominant-baseline="central">2000</text>
<text x="85.60" y="686.80" font-size="7.3" text-anchor="middle" stroke="#000" stroke-width="0.12" transform="translate(85.60 686.80) scale(1 1.1) translate(-85.60 -686.80)" dominant-baseline="central">Wavelength (nm)</text>
<text x="20.40" y="573.60" font-size="7.3" stroke="#000" stroke-width="0.12" transform="translate(20.40 573.60) scale(1 1.1) translate(-20.40 -573.60)" dominant-baseline="central">Ex 808 nm</text>
<text x="-0.60" y="577.00" font-size="11.2" stroke="#000" stroke-width="0.08">m</text>
<line x1="87.50" y1="592.60" x2="96.50" y2="592.60" stroke="#D2D2D2" stroke-width="3"/>
<text x="101.70" y="592.60" font-size="6.9" stroke="#000" stroke-width="0.12" transform="translate(101.70 592.60) scale(1 1.1) translate(-101.70 -592.60)" dominant-baseline="central">0 µM</text>
<line x1="87.50" y1="601.30" x2="96.50" y2="601.30" stroke="#6AAEF5" stroke-width="3"/>
<text x="101.70" y="601.30" font-size="6.9" stroke="#000" stroke-width="0.12" transform="translate(101.70 601.30) scale(1 1.1) translate(-101.70 -601.30)" dominant-baseline="central">0.2 µM</text>
<line x1="87.50" y1="609.90" x2="96.50" y2="609.90" stroke="#F8949A" stroke-width="3"/>
<text x="101.70" y="609.90" font-size="6.9" stroke="#000" stroke-width="0.12" transform="translate(101.70 609.90) scale(1 1.1) translate(-101.70 -609.90)" dominant-baseline="central">0.4 µM</text>
<line x1="87.50" y1="618.60" x2="96.50" y2="618.60" stroke="#F8B06A" stroke-width="3"/>
<text x="101.70" y="618.60" font-size="6.9" stroke="#000" stroke-width="0.12" transform="translate(101.70 618.60) scale(1 1.1) translate(-101.70 -618.60)" dominant-baseline="central">0.8 µM</text>
<line x1="87.50" y1="627.30" x2="96.50" y2="627.30" stroke="#8CEC7C" stroke-width="3"/>
<text x="101.70" y="627.30" font-size="6.9" stroke="#000" stroke-width="0.12" transform="translate(101.70 627.30) scale(1 1.1) translate(-101.70 -627.30)" dominant-baseline="central">1.6 µM</text>
<text x="3.20" y="620.60" font-size="7.3" text-anchor="middle" stroke="#000" stroke-width="0.12" transform="rotate(-90 3.20 620.60) translate(3.20 620.60) scale(1 1.1) translate(-3.20 -620.60)" dominant-baseline="central">F<tspan font-size="4.9" dy="2.2">808ex</tspan><tspan dy="-2.2"> (a.u.)</tspan></text>
<rect x="191.60" y="579.80" width="130.00" height="86.90" fill="none" stroke="#000" stroke-width="1.5"/>
<path d="M191.60 665.50 C192.50 665.44 195.39 665.50 197.02 665.12 C198.64 664.75 200.01 664.44 201.35 663.25 C202.69 662.06 203.77 660.75 205.03 658.00 C206.30 655.25 207.67 651.25 208.93 646.75 C210.20 642.25 211.53 635.12 212.62 631.00 C213.70 626.88 214.68 624.75 215.43 622.00 C216.19 619.25 216.66 617.50 217.17 614.50 C217.67 611.50 218.07 607.62 218.47 604.00 C218.86 600.38 219.26 595.00 219.55 592.75 C219.84 590.50 219.95 590.38 220.20 590.50 C220.45 590.62 220.74 591.38 221.07 593.50 C221.39 595.62 221.75 599.38 222.15 603.25 C222.55 607.12 223.02 613.25 223.45 616.75 C223.88 620.25 224.21 622.38 224.75 624.25 C225.29 626.12 226.05 626.38 226.70 628.00 C227.35 629.62 228.00 631.50 228.65 634.00 C229.30 636.50 229.91 640.50 230.60 643.00 C231.29 645.50 231.86 647.50 232.77 649.00 C233.67 650.50 234.75 650.88 236.02 652.00 C237.28 653.12 238.91 654.38 240.35 655.75 C241.79 657.12 243.24 659.00 244.68 660.25 C246.13 661.50 247.57 662.50 249.02 663.25 C250.46 664.00 252.09 664.38 253.35 664.75 C254.61 665.12 256.06 665.38 256.60 665.50" fill="none" stroke="#8CEC7C" stroke-width="2.2" stroke-linejoin="round" stroke-linecap="round"/>
<path d="M191.60 665.50 C192.50 665.44 195.39 665.50 197.02 665.13 C198.64 664.76 200.01 664.45 201.35 663.27 C202.69 662.10 203.77 660.80 205.03 658.08 C206.30 655.36 207.67 651.40 208.93 646.95 C210.20 642.50 211.53 635.45 212.62 631.37 C213.70 627.29 214.68 625.18 215.43 622.46 C216.19 619.74 216.66 618.01 217.17 615.04 C217.67 612.08 218.07 608.24 218.47 604.66 C218.86 601.07 219.26 595.75 219.55 593.53 C219.84 591.30 219.95 591.18 220.20 591.30 C220.45 591.42 220.74 592.17 221.07 594.27 C221.39 596.37 221.75 600.08 222.15 603.91 C222.55 607.75 223.02 613.81 223.45 617.27 C223.88 620.73 224.21 622.84 224.75 624.69 C225.29 626.55 226.05 626.79 226.70 628.40 C227.35 630.01 228.00 631.86 228.65 634.34 C229.30 636.81 229.91 640.77 230.60 643.24 C231.29 645.71 231.86 647.69 232.77 649.18 C233.67 650.66 234.75 651.03 236.02 652.14 C237.28 653.26 238.91 654.49 240.35 655.85 C241.79 657.21 243.24 659.07 244.68 660.31 C246.13 661.54 247.57 662.53 249.02 663.27 C250.46 664.02 252.09 664.39 253.35 664.76 C254.61 665.13 256.06 665.38 256.60 665.50" fill="none" stroke="#F8B06A" stroke-width="2.2" stroke-linejoin="round" stroke-linecap="round"/>
<path d="M191.60 665.50 C192.50 665.44 195.39 665.50 197.02 665.13 C198.64 664.76 200.01 664.45 201.35 663.29 C202.69 662.12 203.77 660.83 205.03 658.12 C206.30 655.41 207.67 651.48 208.93 647.05 C210.20 642.62 211.53 635.61 212.62 631.55 C213.70 627.49 214.68 625.40 215.43 622.70 C216.19 619.99 216.66 618.27 217.17 615.32 C217.67 612.36 218.07 608.55 218.47 604.98 C218.86 601.42 219.26 596.13 219.55 593.91 C219.84 591.70 219.95 591.58 220.20 591.70 C220.45 591.82 220.74 592.56 221.07 594.65 C221.39 596.74 221.75 600.43 222.15 604.25 C222.55 608.06 223.02 614.09 223.45 617.53 C223.88 620.97 224.21 623.06 224.75 624.91 C225.29 626.75 226.05 627.00 226.70 628.60 C227.35 630.20 228.00 632.04 228.65 634.50 C229.30 636.96 229.91 640.90 230.60 643.36 C231.29 645.82 231.86 647.79 232.77 649.26 C233.67 650.74 234.75 651.11 236.02 652.22 C237.28 653.32 238.91 654.55 240.35 655.91 C241.79 657.26 243.24 659.10 244.68 660.33 C246.13 661.56 247.57 662.55 249.02 663.29 C250.46 664.02 252.09 664.39 253.35 664.76 C254.61 665.13 256.06 665.38 256.60 665.50" fill="none" stroke="#F8949A" stroke-width="2.2" stroke-linejoin="round" stroke-linecap="round"/>
<path d="M191.60 665.50 C192.50 665.44 195.39 665.50 197.02 665.13 C198.64 664.76 200.01 664.45 201.35 663.28 C202.69 662.11 203.77 660.81 205.03 658.10 C206.30 655.39 207.67 651.44 208.93 647.00 C210.20 642.56 211.53 635.53 212.62 631.46 C213.70 627.39 214.68 625.29 215.43 622.58 C216.19 619.87 216.66 618.14 217.17 615.18 C217.67 612.22 218.07 608.40 218.47 604.82 C218.86 601.24 219.26 595.94 219.55 593.72 C219.84 591.50 219.95 591.38 220.20 591.50 C220.45 591.62 220.74 592.36 221.07 594.46 C221.39 596.56 221.75 600.26 222.15 604.08 C222.55 607.90 223.02 613.95 223.45 617.40 C223.88 620.85 224.21 622.95 224.75 624.80 C225.29 626.65 226.05 626.90 226.70 628.50 C227.35 630.10 228.00 631.95 228.65 634.42 C229.30 636.89 229.91 640.83 230.60 643.30 C231.29 645.77 231.86 647.74 232.77 649.22 C233.67 650.70 234.75 651.07 236.02 652.18 C237.28 653.29 238.91 654.52 240.35 655.88 C241.79 657.24 243.24 659.09 244.68 660.32 C246.13 661.55 247.57 662.54 249.02 663.28 C250.46 664.02 252.09 664.39 253.35 664.76 C254.61 665.13 256.06 665.38 256.60 665.50" fill="none" stroke="#6AAEF5" stroke-width="2.2" stroke-linejoin="round" stroke-linecap="round"/>
<path d="M191.60 665.50 C192.50 665.44 195.39 665.50 197.02 665.13 C198.64 664.77 200.01 664.46 201.35 663.29 C202.69 662.13 203.77 660.85 205.03 658.15 C206.30 655.45 207.67 651.53 208.93 647.12 C210.20 642.72 211.53 635.73 212.62 631.69 C213.70 627.65 214.68 625.57 215.43 622.87 C216.19 620.17 216.66 618.46 217.17 615.52 C217.67 612.58 218.07 608.78 218.47 605.23 C218.86 601.68 219.26 596.41 219.55 594.21 C219.84 592.00 219.95 591.88 220.20 592.00 C220.45 592.12 220.74 592.86 221.07 594.94 C221.39 597.02 221.75 600.70 222.15 604.50 C222.55 608.29 223.02 614.30 223.45 617.73 C223.88 621.15 224.21 623.24 224.75 625.08 C225.29 626.91 226.05 627.16 226.70 628.75 C227.35 630.34 228.00 632.18 228.65 634.63 C229.30 637.08 229.91 641.00 230.60 643.45 C231.29 645.90 231.86 647.86 232.77 649.33 C233.67 650.80 234.75 651.17 236.02 652.27 C237.28 653.37 238.91 654.60 240.35 655.95 C241.79 657.29 243.24 659.13 244.68 660.36 C246.13 661.58 247.57 662.56 249.02 663.29 C250.46 664.03 252.09 664.40 253.35 664.76 C254.61 665.13 256.06 665.38 256.60 665.50" fill="none" stroke="#D2D2D2" stroke-width="2.2" stroke-linejoin="round" stroke-linecap="round"/>
<line x1="191.60" y1="666.70" x2="191.60" y2="669.70" stroke="#000" stroke-width="1.2"/>
<text x="191.60" y="675.60" font-size="7.3" text-anchor="middle" stroke="#000" stroke-width="0.12" transform="translate(191.60 675.60) scale(1 1.1) translate(-191.60 -675.60)" dominant-baseline="central">1400</text>
<line x1="213.27" y1="666.70" x2="213.27" y2="668.70" stroke="#000" stroke-width="1.0"/>
<line x1="234.93" y1="666.70" x2="234.93" y2="669.70" stroke="#000" stroke-width="1.2"/>
<text x="234.93" y="675.60" font-size="7.3" text-anchor="middle" stroke="#000" stroke-width="0.12" transform="translate(234.93 675.60) scale(1 1.1) translate(-234.93 -675.60)" dominant-baseline="central">1600</text>
<line x1="256.60" y1="666.70" x2="256.60" y2="668.70" stroke="#000" stroke-width="1.0"/>
<line x1="278.27" y1="666.70" x2="278.27" y2="669.70" stroke="#000" stroke-width="1.2"/>
<text x="278.27" y="675.60" font-size="7.3" text-anchor="middle" stroke="#000" stroke-width="0.12" transform="translate(278.27 675.60) scale(1 1.1) translate(-278.27 -675.60)" dominant-baseline="central">1800</text>
<line x1="299.93" y1="666.70" x2="299.93" y2="668.70" stroke="#000" stroke-width="1.0"/>
<line x1="321.60" y1="666.70" x2="321.60" y2="669.70" stroke="#000" stroke-width="1.2"/>
<text x="321.60" y="675.60" font-size="7.3" text-anchor="middle" stroke="#000" stroke-width="0.12" transform="translate(321.60 675.60) scale(1 1.1) translate(-321.60 -675.60)" dominant-baseline="central">2000</text>
<text x="256.60" y="686.80" font-size="7.3" text-anchor="middle" stroke="#000" stroke-width="0.12" transform="translate(256.60 686.80) scale(1 1.1) translate(-256.60 -686.80)" dominant-baseline="central">Wavelength (nm)</text>
<text x="191.60" y="573.60" font-size="7.3" stroke="#000" stroke-width="0.12" transform="translate(191.60 573.60) scale(1 1.1) translate(-191.60 -573.60)" dominant-baseline="central">Ex 980 nm</text>
<text x="169.30" y="577.00" font-size="11.2" stroke="#000" stroke-width="0.08">n</text>
<line x1="258.90" y1="592.60" x2="267.90" y2="592.60" stroke="#D2D2D2" stroke-width="3"/>
<text x="273.10" y="592.60" font-size="6.9" stroke="#000" stroke-width="0.12" transform="translate(273.10 592.60) scale(1 1.1) translate(-273.10 -592.60)" dominant-baseline="central">0 µM</text>
<line x1="258.90" y1="601.30" x2="267.90" y2="601.30" stroke="#6AAEF5" stroke-width="3"/>
<text x="273.10" y="601.30" font-size="6.9" stroke="#000" stroke-width="0.12" transform="translate(273.10 601.30) scale(1 1.1) translate(-273.10 -601.30)" dominant-baseline="central">0.2 µM</text>
<line x1="258.90" y1="609.90" x2="267.90" y2="609.90" stroke="#F8949A" stroke-width="3"/>
<text x="273.10" y="609.90" font-size="6.9" stroke="#000" stroke-width="0.12" transform="translate(273.10 609.90) scale(1 1.1) translate(-273.10 -609.90)" dominant-baseline="central">0.4 µM</text>
<line x1="258.90" y1="618.60" x2="267.90" y2="618.60" stroke="#F8B06A" stroke-width="3"/>
<text x="273.10" y="618.60" font-size="6.9" stroke="#000" stroke-width="0.12" transform="translate(273.10 618.60) scale(1 1.1) translate(-273.10 -618.60)" dominant-baseline="central">0.8 µM</text>
<line x1="258.90" y1="627.30" x2="267.90" y2="627.30" stroke="#8CEC7C" stroke-width="3"/>
<text x="273.10" y="627.30" font-size="6.9" stroke="#000" stroke-width="0.12" transform="translate(273.10 627.30) scale(1 1.1) translate(-273.10 -627.30)" dominant-baseline="central">1.6 µM</text>
<text x="174.00" y="621.10" font-size="7.3" text-anchor="middle" stroke="#000" stroke-width="0.12" transform="rotate(-90 174.00 621.10) translate(174.00 621.10) scale(1 1.1) translate(-174.00 -621.10)" dominant-baseline="central">F<tspan font-size="4.9" dy="2.2">980ex</tspan><tspan dy="-2.2"> (a.u.)</tspan></text>
<rect x="361.80" y="579.80" width="131.00" height="87.00" fill="none" stroke="#000" stroke-width="1.5"/>
<line x1="358.80" y1="666.80" x2="361.80" y2="666.80" stroke="#000" stroke-width="1.2"/>
<text x="359.00" y="666.80" font-size="7.3" text-anchor="end" fill="#F89696" stroke="#F89696" stroke-width="0.12" transform="translate(359.00 666.80) scale(1 1.1) translate(-359.00 -666.80)" dominant-baseline="central">0</text>
<line x1="492.80" y1="666.80" x2="495.80" y2="666.80" stroke="#000" stroke-width="1.2"/>
<text x="496.60" y="666.80" font-size="7.3" fill="#92EE8E" stroke="#92EE8E" stroke-width="0.12" transform="translate(496.60 666.80) scale(1 1.1) translate(-496.60 -666.80)" dominant-baseline="central">0</text>
<line x1="358.80" y1="649.40" x2="361.80" y2="649.40" stroke="#000" stroke-width="1.2"/>
<text x="359.00" y="649.40" font-size="7.3" text-anchor="end" fill="#F89696" stroke="#F89696" stroke-width="0.12" transform="translate(359.00 649.40) scale(1 1.1) translate(-359.00 -649.40)" dominant-baseline="central">10</text>
<line x1="492.80" y1="649.40" x2="495.80" y2="649.40" stroke="#000" stroke-width="1.2"/>
<text x="496.60" y="649.40" font-size="7.3" fill="#92EE8E" stroke="#92EE8E" stroke-width="0.12" transform="translate(496.60 649.40) scale(1 1.1) translate(-496.60 -649.40)" dominant-baseline="central">40</text>
<line x1="358.80" y1="632.00" x2="361.80" y2="632.00" stroke="#000" stroke-width="1.2"/>
<text x="359.00" y="632.00" font-size="7.3" text-anchor="end" fill="#F89696" stroke="#F89696" stroke-width="0.12" transform="translate(359.00 632.00) scale(1 1.1) translate(-359.00 -632.00)" dominant-baseline="central">20</text>
<line x1="492.80" y1="632.00" x2="495.80" y2="632.00" stroke="#000" stroke-width="1.2"/>
<text x="496.60" y="632.00" font-size="7.3" fill="#92EE8E" stroke="#92EE8E" stroke-width="0.12" transform="translate(496.60 632.00) scale(1 1.1) translate(-496.60 -632.00)" dominant-baseline="central">80</text>
<line x1="358.80" y1="614.60" x2="361.80" y2="614.60" stroke="#000" stroke-width="1.2"/>
<text x="359.00" y="614.60" font-size="7.3" text-anchor="end" fill="#F89696" stroke="#F89696" stroke-width="0.12" transform="translate(359.00 614.60) scale(1 1.1) translate(-359.00 -614.60)" dominant-baseline="central">30</text>
<line x1="492.80" y1="614.60" x2="495.80" y2="614.60" stroke="#000" stroke-width="1.2"/>
<text x="496.60" y="614.60" font-size="7.3" fill="#92EE8E" stroke="#92EE8E" stroke-width="0.12" transform="translate(496.60 614.60) scale(1 1.1) translate(-496.60 -614.60)" dominant-baseline="central">120</text>
<line x1="358.80" y1="597.20" x2="361.80" y2="597.20" stroke="#000" stroke-width="1.2"/>
<text x="359.00" y="597.20" font-size="7.3" text-anchor="end" fill="#F89696" stroke="#F89696" stroke-width="0.12" transform="translate(359.00 597.20) scale(1 1.1) translate(-359.00 -597.20)" dominant-baseline="central">40</text>
<line x1="492.80" y1="597.20" x2="495.80" y2="597.20" stroke="#000" stroke-width="1.2"/>
<text x="496.60" y="597.20" font-size="7.3" fill="#92EE8E" stroke="#92EE8E" stroke-width="0.12" transform="translate(496.60 597.20) scale(1 1.1) translate(-496.60 -597.20)" dominant-baseline="central">160</text>
<line x1="358.80" y1="579.80" x2="361.80" y2="579.80" stroke="#000" stroke-width="1.2"/>
<text x="359.00" y="579.80" font-size="7.3" text-anchor="end" fill="#F89696" stroke="#F89696" stroke-width="0.12" transform="translate(359.00 579.80) scale(1 1.1) translate(-359.00 -579.80)" dominant-baseline="central">50</text>
<line x1="492.80" y1="579.80" x2="495.80" y2="579.80" stroke="#000" stroke-width="1.2"/>
<text x="496.60" y="579.80" font-size="7.3" fill="#92EE8E" stroke="#92EE8E" stroke-width="0.12" transform="translate(496.60 579.80) scale(1 1.1) translate(-496.60 -579.80)" dominant-baseline="central">200</text>
<line x1="359.80" y1="658.10" x2="361.80" y2="658.10" stroke="#000" stroke-width="1.0"/>
<line x1="492.80" y1="658.10" x2="494.80" y2="658.10" stroke="#000" stroke-width="1.0"/>
<line x1="359.80" y1="640.70" x2="361.80" y2="640.70" stroke="#000" stroke-width="1.0"/>
<line x1="492.80" y1="640.70" x2="494.80" y2="640.70" stroke="#000" stroke-width="1.0"/>
<line x1="359.80" y1="623.30" x2="361.80" y2="623.30" stroke="#000" stroke-width="1.0"/>
<line x1="492.80" y1="623.30" x2="494.80" y2="623.30" stroke="#000" stroke-width="1.0"/>
<line x1="359.80" y1="605.90" x2="361.80" y2="605.90" stroke="#000" stroke-width="1.0"/>
<line x1="492.80" y1="605.90" x2="494.80" y2="605.90" stroke="#000" stroke-width="1.0"/>
<line x1="375.20" y1="666.80" x2="375.20" y2="669.80" stroke="#000" stroke-width="1.2"/>
<text x="375.20" y="676.40" font-size="7.3" text-anchor="middle" stroke="#000" stroke-width="0.12" transform="translate(375.20 676.40) scale(1 1.1) translate(-375.20 -676.40)" dominant-baseline="central">0</text>
<line x1="401.40" y1="666.80" x2="401.40" y2="669.80" stroke="#000" stroke-width="1.2"/>
<text x="401.40" y="676.40" font-size="7.3" text-anchor="middle" stroke="#000" stroke-width="0.12" transform="translate(401.40 676.40) scale(1 1.1) translate(-401.40 -676.40)" dominant-baseline="central">0.4</text>
<line x1="427.60" y1="666.80" x2="427.60" y2="669.80" stroke="#000" stroke-width="1.2"/>
<text x="427.60" y="676.40" font-size="7.3" text-anchor="middle" stroke="#000" stroke-width="0.12" transform="translate(427.60 676.40) scale(1 1.1) translate(-427.60 -676.40)" dominant-baseline="central">0.8</text>
<line x1="453.80" y1="666.80" x2="453.80" y2="669.80" stroke="#000" stroke-width="1.2"/>
<text x="453.80" y="676.40" font-size="7.3" text-anchor="middle" stroke="#000" stroke-width="0.12" transform="translate(453.80 676.40) scale(1 1.1) translate(-453.80 -676.40)" dominant-baseline="central">1.2</text>
<line x1="480.00" y1="666.80" x2="480.00" y2="669.80" stroke="#000" stroke-width="1.2"/>
<text x="480.00" y="676.40" font-size="7.3" text-anchor="middle" stroke="#000" stroke-width="0.12" transform="translate(480.00 676.40) scale(1 1.1) translate(-480.00 -676.40)" dominant-baseline="central">1.6</text>
<line x1="362.10" y1="666.80" x2="362.10" y2="668.80" stroke="#000" stroke-width="1.0"/>
<line x1="388.30" y1="666.80" x2="388.30" y2="668.80" stroke="#000" stroke-width="1.0"/>
<line x1="414.50" y1="666.80" x2="414.50" y2="668.80" stroke="#000" stroke-width="1.0"/>
<line x1="440.70" y1="666.80" x2="440.70" y2="668.80" stroke="#000" stroke-width="1.0"/>
<line x1="466.90" y1="666.80" x2="466.90" y2="668.80" stroke="#000" stroke-width="1.0"/>
<line x1="375.20" y1="666.30" x2="480.00" y2="596.10" stroke="#F89696" stroke-width="2.0"/>
<line x1="375.20" y1="637.40" x2="480.00" y2="636.60" stroke="#92EE8E" stroke-width="2.0"/>
<rect x="372.60" y="662.50" width="5.2" height="5.2" fill="#F89696"/>
<rect x="385.70" y="653.80" width="5.2" height="5.2" fill="#F89696"/>
<rect x="398.80" y="647.30" width="5.2" height="5.2" fill="#F89696"/>
<rect x="425.00" y="628.20" width="5.2" height="5.2" fill="#F89696"/>
<rect x="477.40" y="593.00" width="5.2" height="5.2" fill="#F89696"/>
<line x1="480.00" y1="592.20" x2="480.00" y2="599.60" stroke="#F89696" stroke-width="1.2"/>
<line x1="477.50" y1="592.20" x2="482.50" y2="592.20" stroke="#F89696" stroke-width="1.2"/>
<line x1="477.50" y1="599.60" x2="482.50" y2="599.60" stroke="#F89696" stroke-width="1.2"/>
<rect x="372.60" y="634.90" width="5.2" height="5.2" fill="#92EE8E"/>
<rect x="385.70" y="634.40" width="5.2" height="5.2" fill="#92EE8E"/>
<rect x="398.80" y="635.20" width="5.2" height="5.2" fill="#92EE8E"/>
<rect x="425.00" y="634.90" width="5.2" height="5.2" fill="#92EE8E"/>
<rect x="477.40" y="633.90" width="5.2" height="5.2" fill="#92EE8E"/>
<text x="422.40" y="648.90" font-size="7.3" stroke="#000" stroke-width="0.12" transform="translate(422.40 648.90) scale(1 1.1) translate(-422.40 -648.90)" dominant-baseline="central">y = 25149x + 629.9</text>
<text x="422.40" y="656.90" font-size="7.3" stroke="#000" stroke-width="0.12" transform="translate(422.40 656.90) scale(1 1.1) translate(-422.40 -656.90)" dominant-baseline="central">R<tspan font-size="4.5" dy="-2">2</tspan><tspan dy="2"> = 0.9987</tspan></text>
<text x="427.30" y="686.60" font-size="7.3" text-anchor="middle" stroke="#000" stroke-width="0.12" transform="translate(427.30 686.60) scale(1 1.1) translate(-427.30 -686.60)" dominant-baseline="central">Concentration (µM)</text>
<text x="341.30" y="577.00" font-size="11.2" stroke="#000" stroke-width="0.08">o</text>
<text x="344.70" y="619.50" font-size="7.3" text-anchor="middle" stroke="#000" stroke-width="0.12" transform="rotate(-90 344.70 619.50) translate(344.70 619.50) scale(1 1.1) translate(-344.70 -619.50)" dominant-baseline="central"><tspan fill="#F89696" stroke="#F89696">F<tspan font-size="4.3" dy="1.8">808ex</tspan><tspan dy="-1.8">, </tspan></tspan><tspan fill="#92EE8E" stroke="#92EE8E">F<tspan font-size="4.3" dy="1.8">980ex</tspan></tspan><tspan dy="-1.8"> (a.u., 10</tspan><tspan font-size="4.5" dy="-2">3</tspan><tspan dy="2">)</tspan></text>
<rect x="534.30" y="579.40" width="131.30" height="87.20" fill="none" stroke="#000" stroke-width="1.5"/>
<line x1="665.60" y1="666.60" x2="668.60" y2="666.60" stroke="#000" stroke-width="1.2"/>
<text x="667.40" y="666.60" font-size="7.3" stroke="#000" stroke-width="0.12" transform="translate(667.40 666.60) scale(1 1.1) translate(-667.40 -666.60)" dominant-baseline="central">0.0</text>
<line x1="665.60" y1="644.80" x2="668.60" y2="644.80" stroke="#000" stroke-width="1.2"/>
<text x="667.40" y="644.80" font-size="7.3" stroke="#000" stroke-width="0.12" transform="translate(667.40 644.80) scale(1 1.1) translate(-667.40 -644.80)" dominant-baseline="central">0.2</text>
<line x1="665.60" y1="623.00" x2="668.60" y2="623.00" stroke="#000" stroke-width="1.2"/>
<text x="667.40" y="623.00" font-size="7.3" stroke="#000" stroke-width="0.12" transform="translate(667.40 623.00) scale(1 1.1) translate(-667.40 -623.00)" dominant-baseline="central">0.4</text>
<line x1="665.60" y1="601.20" x2="668.60" y2="601.20" stroke="#000" stroke-width="1.2"/>
<text x="667.40" y="601.20" font-size="7.3" stroke="#000" stroke-width="0.12" transform="translate(667.40 601.20) scale(1 1.1) translate(-667.40 -601.20)" dominant-baseline="central">0.6</text>
<line x1="665.60" y1="579.40" x2="668.60" y2="579.40" stroke="#000" stroke-width="1.2"/>
<text x="667.40" y="579.40" font-size="7.3" stroke="#000" stroke-width="0.12" transform="translate(667.40 579.40) scale(1 1.1) translate(-667.40 -579.40)" dominant-baseline="central">0.8</text>
<line x1="665.60" y1="655.70" x2="667.60" y2="655.70" stroke="#000" stroke-width="1.0"/>
<line x1="665.60" y1="633.90" x2="667.60" y2="633.90" stroke="#000" stroke-width="1.0"/>
<line x1="665.60" y1="612.10" x2="667.60" y2="612.10" stroke="#000" stroke-width="1.0"/>
<line x1="665.60" y1="590.30" x2="667.60" y2="590.30" stroke="#000" stroke-width="1.0"/>
<line x1="547.00" y1="666.60" x2="547.00" y2="669.60" stroke="#000" stroke-width="1.2"/>
<text x="547.00" y="676.40" font-size="7.3" text-anchor="middle" stroke="#000" stroke-width="0.12" transform="translate(547.00 676.40) scale(1 1.1) translate(-547.00 -676.40)" dominant-baseline="central">0</text>
<line x1="573.12" y1="666.60" x2="573.12" y2="669.60" stroke="#000" stroke-width="1.2"/>
<text x="573.12" y="676.40" font-size="7.3" text-anchor="middle" stroke="#000" stroke-width="0.12" transform="translate(573.12 676.40) scale(1 1.1) translate(-573.12 -676.40)" dominant-baseline="central">0.4</text>
<line x1="599.24" y1="666.60" x2="599.24" y2="669.60" stroke="#000" stroke-width="1.2"/>
<text x="599.24" y="676.40" font-size="7.3" text-anchor="middle" stroke="#000" stroke-width="0.12" transform="translate(599.24 676.40) scale(1 1.1) translate(-599.24 -676.40)" dominant-baseline="central">0.8</text>
<line x1="625.36" y1="666.60" x2="625.36" y2="669.60" stroke="#000" stroke-width="1.2"/>
<text x="625.36" y="676.40" font-size="7.3" text-anchor="middle" stroke="#000" stroke-width="0.12" transform="translate(625.36 676.40) scale(1 1.1) translate(-625.36 -676.40)" dominant-baseline="central">1.2</text>
<line x1="651.48" y1="666.60" x2="651.48" y2="669.60" stroke="#000" stroke-width="1.2"/>
<text x="651.48" y="676.40" font-size="7.3" text-anchor="middle" stroke="#000" stroke-width="0.12" transform="translate(651.48 676.40) scale(1 1.1) translate(-651.48 -676.40)" dominant-baseline="central">1.6</text>
<line x1="533.94" y1="666.60" x2="533.94" y2="668.60" stroke="#000" stroke-width="1.0"/>
<line x1="560.06" y1="666.60" x2="560.06" y2="668.60" stroke="#000" stroke-width="1.0"/>
<line x1="586.18" y1="666.60" x2="586.18" y2="668.60" stroke="#000" stroke-width="1.0"/>
<line x1="612.30" y1="666.60" x2="612.30" y2="668.60" stroke="#000" stroke-width="1.0"/>
<line x1="638.42" y1="666.60" x2="638.42" y2="668.60" stroke="#000" stroke-width="1.0"/>
<line x1="547.00" y1="665.40" x2="651.48" y2="603.00" stroke="#000" stroke-width="2.0"/>
<rect x="544.60" y="662.50" width="4.8" height="4.8" fill="#000"/>
<rect x="557.66" y="654.80" width="4.8" height="4.8" fill="#000"/>
<rect x="570.72" y="648.40" width="4.8" height="4.8" fill="#000"/>
<rect x="596.84" y="631.30" width="4.8" height="4.8" fill="#000"/>
<rect x="649.08" y="600.60" width="4.8" height="4.8" fill="#000"/>
<line x1="651.48" y1="599.00" x2="651.48" y2="607.40" stroke="#000" stroke-width="1.3"/>
<line x1="648.48" y1="599.00" x2="654.48" y2="599.00" stroke="#000" stroke-width="1.3"/>
<line x1="648.48" y1="607.40" x2="654.48" y2="607.40" stroke="#000" stroke-width="1.3"/>
<text x="590.50" y="644.40" font-size="7.3" stroke="#000" stroke-width="0.12" transform="translate(590.50 644.40) scale(1 1.1) translate(-590.50 -644.40)" dominant-baseline="central">y = 0.3574x + 0.01416</text>
<text x="590.50" y="652.30" font-size="7.3" stroke="#000" stroke-width="0.12" transform="translate(590.50 652.30) scale(1 1.1) translate(-590.50 -652.30)" dominant-baseline="central">R<tspan font-size="4.5" dy="-2">2</tspan><tspan dy="2"> = 0.9993</tspan></text>
<text x="590.50" y="660.00" font-size="7.3" stroke="#000" stroke-width="0.12" transform="translate(590.50 660.00) scale(1 1.1) translate(-590.50 -660.00)" dominant-baseline="central">LOD = 0.37 ng/mL</text>
<text x="599.60" y="686.60" font-size="7.3" text-anchor="middle" stroke="#000" stroke-width="0.12" transform="translate(599.60 686.60) scale(1 1.1) translate(-599.60 -686.60)" dominant-baseline="central">Concentration (µM)</text>
<text x="516.60" y="620.00" font-size="6.75" text-anchor="middle" stroke="#000" stroke-width="0.12" transform="rotate(-90 516.60 620.00) translate(516.60 620.00) scale(1 1.1) translate(-516.60 -620.00)" dominant-baseline="central">Normalized signal (a.u.)</text>
<text x="512.00" y="577.00" font-size="11.2" stroke="#000" stroke-width="0.08">p</text>
<rect x="538.2" y="582" width="71.8" height="45" fill="#fff"/>
<rect x="540.5" y="582" width="69.5" height="13.3" fill="#000"/>
<rect x="540.5" y="597.6" width="69.5" height="13.8" fill="#000"/>
<rect x="540.5" y="613.2" width="69.5" height="13.8" fill="#000"/>
<defs><linearGradient id="cb1" x1="0" y1="0" x2="0" y2="1"><stop offset="0" stop-color="#f4f420"/><stop offset="1" stop-color="#101000"/></linearGradient><linearGradient id="cb2" x1="0" y1="0" x2="0" y2="1"><stop offset="0" stop-color="#30f4f8"/><stop offset="1" stop-color="#001010"/></linearGradient><linearGradient id="cb3" x1="0" y1="0" x2="0" y2="1"><stop offset="0" stop-color="#ff2000"/><stop offset="0.3" stop-color="#f0f000"/><stop offset="0.55" stop-color="#20f040"/><stop offset="0.8" stop-color="#20b0ff"/><stop offset="1" stop-color="#2030ff"/></linearGradient></defs>
<rect x="535.9" y="582" width="2.3" height="13.3" fill="url(#cb1)"/>
<rect x="535.9" y="597.6" width="2.3" height="13.8" fill="url(#cb2)"/>
<rect x="535.9" y="613.2" width="2.3" height="13.8" fill="url(#cb3)"/>
<linearGradient id="tg1" x1="0" y1="0" x2="0" y2="1"><stop offset="0" stop-color="#101006"/><stop offset="0.45" stop-color="#181810"/><stop offset="1" stop-color="#181810"/></linearGradient>
<path d="M543.6 582.8 L551.2 582.8 L549.5 593.4 Q547.4 595.4 545.3 593.4 Z" fill="url(#tg1)" stroke="#cfcfc0" stroke-width="0.35"/>
<linearGradient id="tg2" x1="0" y1="0" x2="0" y2="1"><stop offset="0" stop-color="#30eef6"/><stop offset="0.45" stop-color="#34f2fa"/><stop offset="1" stop-color="#34f2fa"/></linearGradient>
<path d="M543.6 598.4 L551.2 598.4 L549.5 609.0 Q547.4 611.0 545.3 609.0 Z" fill="url(#tg2)" stroke="#cfcfc0" stroke-width="0.35"/>
<linearGradient id="tg3" x1="0" y1="0" x2="0" y2="1"><stop offset="0" stop-color="#1a28d8"/><stop offset="0.45" stop-color="#2038f0"/><stop offset="1" stop-color="#2038f0"/></linearGradient>
<path d="M543.6 614.0 L551.2 614.0 L549.5 624.6 Q547.4 626.6 545.3 624.6 Z" fill="url(#tg3)" stroke="#cfcfc0" stroke-width="0.35"/>
<linearGradient id="tg4" x1="0" y1="0" x2="0" y2="1"><stop offset="0" stop-color="#121206"/><stop offset="0.45" stop-color="#1a1a10"/><stop offset="1" stop-color="#1a1a10"/></linearGradient>
<path d="M557.5 582.8 L565.1 582.8 L563.4 593.4 Q561.3 595.4 559.2 593.4 Z" fill="url(#tg4)" stroke="#cfcfc0" stroke-width="0.35"/>
<linearGradient id="tg5" x1="0" y1="0" x2="0" y2="1"><stop offset="0" stop-color="#30eef6"/><stop offset="0.45" stop-color="#34f2fa"/><stop offset="1" stop-color="#34f2fa"/></linearGradient>
<path d="M557.5 598.4 L565.1 598.4 L563.4 609.0 Q561.3 611.0 559.2 609.0 Z" fill="url(#tg5)" stroke="#cfcfc0" stroke-width="0.35"/>
<linearGradient id="tg6" x1="0" y1="0" x2="0" y2="1"><stop offset="0" stop-color="#1838e0"/><stop offset="0.45" stop-color="#2860f8"/><stop offset="1" stop-color="#2860f8"/></linearGradient>
<path d="M557.5 614.0 L565.1 614.0 L563.4 624.6 Q561.3 626.6 559.2 624.6 Z" fill="url(#tg6)" stroke="#cfcfc0" stroke-width="0.35"/>
<linearGradient id="tg7" x1="0" y1="0" x2="0" y2="1"><stop offset="0" stop-color="#2a2a08"/><stop offset="0.45" stop-color="#3a3a12"/><stop offset="1" stop-color="#3a3a12"/></linearGradient>
<path d="M571.6 582.8 L579.2 582.8 L577.5 593.4 Q575.4 595.4 573.3 593.4 Z" fill="url(#tg7)" stroke="#cfcfc0" stroke-width="0.35"/>
<linearGradient id="tg8" x1="0" y1="0" x2="0" y2="1"><stop offset="0" stop-color="#28c8d8"/><stop offset="0.45" stop-color="#34f0f8"/><stop offset="1" stop-color="#34f0f8"/></linearGradient>
<path d="M571.6 598.4 L579.2 598.4 L577.5 609.0 Q575.4 611.0 573.3 609.0 Z" fill="url(#tg8)" stroke="#cfcfc0" stroke-width="0.35"/>
<linearGradient id="tg9" x1="0" y1="0" x2="0" y2="1"><stop offset="0" stop-color="#3090f0"/><stop offset="0.45" stop-color="#30c0f8"/><stop offset="1" stop-color="#30c0f8"/></linearGradient>
<path d="M571.6 614.0 L579.2 614.0 L577.5 624.6 Q575.4 626.6 573.3 624.6 Z" fill="url(#tg9)" stroke="#cfcfc0" stroke-width="0.35"/>
<linearGradient id="tg10" x1="0" y1="0" x2="0" y2="1"><stop offset="0" stop-color="#4a4a0c"/><stop offset="0.45" stop-color="#8a8a20"/><stop offset="1" stop-color="#8a8a20"/></linearGradient>
<path d="M585.4 582.8 L593.0 582.8 L591.3 593.4 Q589.2 595.4 587.1 593.4 Z" fill="url(#tg10)" stroke="#cfcfc0" stroke-width="0.35"/>
<linearGradient id="tg11" x1="0" y1="0" x2="0" y2="1"><stop offset="0" stop-color="#28c8d8"/><stop offset="0.45" stop-color="#34f0f8"/><stop offset="1" stop-color="#34f0f8"/></linearGradient>
<path d="M585.4 598.4 L593.0 598.4 L591.3 609.0 Q589.2 611.0 587.1 609.0 Z" fill="url(#tg11)" stroke="#cfcfc0" stroke-width="0.35"/>
<linearGradient id="tg12" x1="0" y1="0" x2="0" y2="1"><stop offset="0" stop-color="#40f0a0"/><stop offset="0.45" stop-color="#30e030"/><stop offset="1" stop-color="#30e030"/></linearGradient>
<path d="M585.4 614.0 L593.0 614.0 L591.3 624.6 Q589.2 626.6 587.1 624.6 Z" fill="url(#tg12)" stroke="#cfcfc0" stroke-width="0.35"/>
<linearGradient id="tg13" x1="0" y1="0" x2="0" y2="1"><stop offset="0" stop-color="#e0e010"/><stop offset="0.45" stop-color="#f4f430"/><stop offset="1" stop-color="#f4f430"/></linearGradient>
<path d="M599.3 582.8 L606.9 582.8 L605.2 593.4 Q603.1 595.4 601.0 593.4 Z" fill="url(#tg13)" stroke="#cfcfc0" stroke-width="0.35"/>
<linearGradient id="tg14" x1="0" y1="0" x2="0" y2="1"><stop offset="0" stop-color="#30eef6"/><stop offset="0.45" stop-color="#38f4fa"/><stop offset="1" stop-color="#38f4fa"/></linearGradient>
<path d="M599.3 598.4 L606.9 598.4 L605.2 609.0 Q603.1 611.0 601.0 609.0 Z" fill="url(#tg14)" stroke="#cfcfc0" stroke-width="0.35"/>
<linearGradient id="tg15" x1="0" y1="0" x2="0" y2="1"><stop offset="0" stop-color="#30e060"/><stop offset="0.45" stop-color="#f06010"/><stop offset="1" stop-color="#f06010"/></linearGradient>
<path d="M599.3 614.0 L606.9 614.0 L605.2 624.6 Q603.1 626.6 601.0 624.6 Z" fill="url(#tg15)" stroke="#cfcfc0" stroke-width="0.35"/>
<text x="545.20" y="577.80" font-size="6.8" stroke="#000" stroke-width="0.12" transform="rotate(-45 545.20 577.80) translate(545.20 577.80) scale(1 1.1) translate(-545.20 -577.80)">0 µM</text>
<text x="559.10" y="577.80" font-size="6.8" stroke="#000" stroke-width="0.12" transform="rotate(-45 559.10 577.80) translate(559.10 577.80) scale(1 1.1) translate(-559.10 -577.80)">0.2 µM</text>
<text x="573.20" y="577.80" font-size="6.8" stroke="#000" stroke-width="0.12" transform="rotate(-45 573.20 577.80) translate(573.20 577.80) scale(1 1.1) translate(-573.20 -577.80)">0.4 µM</text>
<text x="587.00" y="577.80" font-size="6.8" stroke="#000" stroke-width="0.12" transform="rotate(-45 587.00 577.80) translate(587.00 577.80) scale(1 1.1) translate(-587.00 -577.80)">0.8 µM</text>
<text x="600.90" y="577.80" font-size="6.8" stroke="#000" stroke-width="0.12" transform="rotate(-45 600.90 577.80) translate(600.90 577.80) scale(1 1.1) translate(-600.90 -577.80)">1.6 µM</text>
<text x="0.40" y="7.90" font-size="11.2" stroke="#000" stroke-width="0.08">a</text>
<text x="170.40" y="7.90" font-size="11.2" stroke="#000" stroke-width="0.08">b</text>
<text x="341.40" y="7.90" font-size="11.2" stroke="#000" stroke-width="0.08">c</text>
<defs><linearGradient id="fbg" x1="383" y1="0" x2="665" y2="0" gradientUnits="userSpaceOnUse"><stop offset="0" stop-color="#E0ECD3"/><stop offset="0.12" stop-color="#EEF3E8"/><stop offset="0.22" stop-color="#FBFBF9"/><stop offset="0.32" stop-color="#FCF5FA"/><stop offset="0.6" stop-color="#F8F2FB"/><stop offset="0.78" stop-color="#EEF4FB"/><stop offset="1" stop-color="#E2EFFA"/></linearGradient></defs>
<rect x="383.2" y="128.4" width="281.40000000000003" height="151.79999999999998" rx="4" fill="url(#fbg)"/>
<rect x="453" y="143.5" width="15.4" height="121.6" rx="2.5" fill="#FCEFB6"/>
<rect x="578.9" y="146.2" width="9.2" height="120.8" rx="2" fill="#E2F6DA"/>
<rect x="592.3" y="170.9" width="9.2" height="96.1" rx="2" fill="#FADBDB"/>
<rect x="605.0" y="221.2" width="9.9" height="45.8" rx="2" fill="#F9D6D6"/>
<rect x="383.2" y="128.4" width="281.40000000000003" height="151.79999999999998" rx="5" fill="none" stroke="#000" stroke-width="2" stroke-dasharray="3.6 3.6"/>
<line x1="416.80" y1="143.50" x2="416.80" y2="264.90" stroke="#333" stroke-width="0.9"/>
<line x1="413.80" y1="143.50" x2="416.80" y2="143.50" stroke="#333" stroke-width="0.9"/>
<text x="412.20" y="143.50" font-size="7.2" text-anchor="end" stroke="#000" stroke-width="0.12" transform="translate(412.20 143.50) scale(1 1.1) translate(-412.20 -143.50)" dominant-baseline="central">20</text>
<line x1="413.80" y1="173.80" x2="416.80" y2="173.80" stroke="#333" stroke-width="0.9"/>
<text x="412.20" y="173.80" font-size="7.2" text-anchor="end" stroke="#000" stroke-width="0.12" transform="translate(412.20 173.80) scale(1 1.1) translate(-412.20 -173.80)" dominant-baseline="central">15</text>
<line x1="413.80" y1="204.20" x2="416.80" y2="204.20" stroke="#333" stroke-width="0.9"/>
<text x="412.20" y="204.20" font-size="7.2" text-anchor="end" stroke="#000" stroke-width="0.12" transform="translate(412.20 204.20) scale(1 1.1) translate(-412.20 -204.20)" dominant-baseline="central">10</text>
<line x1="413.80" y1="234.50" x2="416.80" y2="234.50" stroke="#333" stroke-width="0.9"/>
<text x="412.20" y="234.50" font-size="7.2" text-anchor="end" stroke="#000" stroke-width="0.12" transform="translate(412.20 234.50) scale(1 1.1) translate(-412.20 -234.50)" dominant-baseline="central">5</text>
<line x1="413.80" y1="264.90" x2="416.80" y2="264.90" stroke="#333" stroke-width="0.9"/>
<text x="412.20" y="264.90" font-size="7.2" text-anchor="end" stroke="#000" stroke-width="0.12" transform="translate(412.20 264.90) scale(1 1.1) translate(-412.20 -264.90)" dominant-baseline="central">0</text>
<text x="393.40" y="204.90" font-size="7.2" text-anchor="middle" stroke="#000" stroke-width="0.12" transform="rotate(-90 393.40 204.90) translate(393.40 204.90) scale(1 1.1) translate(-393.40 -204.90)" dominant-baseline="central">Engergy (10<tspan font-size="4.3" dy="-2">3</tspan><tspan dy="2"> cm</tspan><tspan font-size="4.3" dy="-2">-1</tspan><tspan dy="2">)</tspan></text>
<text x="443.50" y="135.60" font-size="7.2" text-anchor="middle" stroke="#000" stroke-width="0.12" transform="translate(443.50 135.60) scale(1 1.1) translate(-443.50 -135.60)" dominant-baseline="central">Energy harvesting</text>
<text x="511.50" y="135.60" font-size="7.2" text-anchor="middle" stroke="#000" stroke-width="0.12" transform="translate(511.50 135.60) scale(1 1.1) translate(-511.50 -135.60)" dominant-baseline="central">Energy trapping</text>
<text x="626.00" y="135.60" font-size="7.2" text-anchor="middle" stroke="#000" stroke-width="0.12" transform="translate(626.00 135.60) scale(1 1.1) translate(-626.00 -135.60)" dominant-baseline="central">Cross relaxation</text>
<text x="350.70" y="139.70" font-size="11.2" stroke="#000" stroke-width="0.08">f</text>
<line x1="434.60" y1="189.00" x2="450.00" y2="189.00" stroke="#222" stroke-width="0.9"/>
<line x1="434.60" y1="264.90" x2="450.00" y2="264.90" stroke="#222" stroke-width="0.9"/>
<line x1="452.50" y1="204.30" x2="468.00" y2="204.30" stroke="#222" stroke-width="0.9"/>
<line x1="492.00" y1="204.30" x2="505.00" y2="204.30" stroke="#222" stroke-width="0.9"/>
<line x1="492.00" y1="264.90" x2="505.00" y2="264.90" stroke="#222" stroke-width="0.9"/>
<line x1="529.70" y1="204.30" x2="544.60" y2="204.30" stroke="#222" stroke-width="0.9"/>
<line x1="529.70" y1="264.90" x2="544.60" y2="264.90" stroke="#222" stroke-width="0.9"/>
<line x1="568.80" y1="150.30" x2="625.10" y2="150.30" stroke="#333" stroke-width="0.8"/>
<line x1="568.80" y1="175.00" x2="625.10" y2="175.00" stroke="#333" stroke-width="0.8"/>
<line x1="568.80" y1="188.30" x2="625.10" y2="188.30" stroke="#333" stroke-width="0.8"/>
<line x1="568.80" y1="204.20" x2="625.10" y2="204.20" stroke="#333" stroke-width="0.8"/>
<line x1="568.80" y1="225.90" x2="625.10" y2="225.90" stroke="#333" stroke-width="0.8"/>
<line x1="568.80" y1="265.40" x2="625.10" y2="265.40" stroke="#333" stroke-width="0.8"/>
<line x1="643.60" y1="251.60" x2="658.60" y2="251.60" stroke="#555" stroke-width="1.3"/>
<line x1="643.60" y1="265.40" x2="658.60" y2="265.40" stroke="#222" stroke-width="0.9"/>
<line x1="439.20" y1="264.90" x2="439.20" y2="192.40" stroke="#4EA6F2" stroke-width="1.0"/>
<path d="M439.2 189.2 L440.7 193.2 L437.7 193.2 Z" fill="#4EA6F2"/>
<line x1="444.40" y1="189.50" x2="444.40" y2="261.40" stroke="#000" stroke-width="0.8" stroke-dasharray="1 0.9"/>
<path d="M444.4 264.6 L445.9 260.6 L442.9 260.6 Z" fill="#000"/>
<line x1="450.00" y1="189.00" x2="456.20" y2="201.20" stroke="#4EA6F2" stroke-width="1.0"/>
<path d="M458.2 204 L457.6 199.2 L454.4 200.9 Z" fill="#4EA6F2"/>
<line x1="458.20" y1="205.50" x2="448.20" y2="260.50" stroke="#000" stroke-width="1.0"/>
<path d="M447.6 264.6 L446.4 259.6 L449.8 260.2 Z" fill="#000"/>
<path d="M461.5 204 C466 186 484 184 490.5 200.5" fill="none" stroke="#000" stroke-width="0.9"/>
<path d="M491.8 204 L488.4 200.5 L491.6 199.2 Z" fill="#000"/>
<line x1="494.70" y1="264.90" x2="494.70" y2="207.70" stroke="#F7AE45" stroke-width="1.0"/>
<path d="M494.7 204.5 L496.2 208.5 L493.2 208.5 Z" fill="#F7AE45"/>
<line x1="499.80" y1="204.50" x2="499.80" y2="261.60" stroke="#000" stroke-width="1.0"/>
<path d="M499.8 264.8 L501.3 260.8 L498.3 260.8 Z" fill="#000"/>
<path d="M503.5 204 C508 186 526 186 531.5 200.5" fill="none" stroke="#000" stroke-width="0.8" stroke-dasharray="1.2 1"/>
<path d="M533 204 L529.5 200.8 L532.6 199.3 Z" fill="#000"/>
<line x1="534.60" y1="264.90" x2="534.60" y2="207.70" stroke="#888" stroke-width="1.4"/>
<path d="M534.6 204.5 L536.1 208.5 L533.1 208.5 Z" fill="#888"/>
<line x1="540.00" y1="204.50" x2="540.00" y2="261.60" stroke="#1E2EF0" stroke-width="1.0"/>
<path d="M540.0 264.8 L541.5 260.8 L538.5 260.8 Z" fill="#1E2EF0"/>
<path d="M545 204 C550 186 568 186 573.5 200.5" fill="none" stroke="#000" stroke-width="0.8" stroke-dasharray="1.2 1"/>
<path d="M575 204 L571.5 200.8 L574.6 199.3 Z" fill="#000"/>
<line x1="575.40" y1="265.20" x2="575.40" y2="208.22" stroke="#000" stroke-width="0.7" stroke-dasharray="1 0.9"/>
<path d="M575.4 205.5 L576.6999999999999 208.9 L574.1 208.9 Z" fill="#000"/>
<line x1="581.60" y1="265.20" x2="581.60" y2="153.72" stroke="#000" stroke-width="0.6"/>
<path d="M581.6 151 L582.9 154.4 L580.3000000000001 154.4 Z" fill="#000"/>
<line x1="583.90" y1="151.00" x2="583.90" y2="262.48" stroke="#000" stroke-width="0.6" stroke-dasharray="0.9 0.9"/>
<path d="M583.9 265.2 L585.1999999999999 261.8 L582.6 261.8 Z" fill="#000"/>
<line x1="586.20" y1="151.00" x2="586.20" y2="262.48" stroke="#000" stroke-width="0.6" stroke-dasharray="0.9 0.9"/>
<path d="M586.2 265.2 L587.5 261.8 L584.9000000000001 261.8 Z" fill="#000"/>
<line x1="594.90" y1="265.20" x2="594.90" y2="178.52" stroke="#000" stroke-width="0.6"/>
<path d="M594.9 175.8 L596.1999999999999 179.20000000000002 L593.6 179.20000000000002 Z" fill="#000"/>
<line x1="597.10" y1="175.80" x2="597.10" y2="262.48" stroke="#000" stroke-width="0.6" stroke-dasharray="0.9 0.9"/>
<path d="M597.1 265.2 L598.4 261.8 L595.8000000000001 261.8 Z" fill="#000"/>
<line x1="599.40" y1="175.80" x2="599.40" y2="262.48" stroke="#000" stroke-width="0.6" stroke-dasharray="0.9 0.9"/>
<path d="M599.4 265.2 L600.6999999999999 261.8 L598.1 261.8 Z" fill="#000"/>
<line x1="609.70" y1="204.40" x2="609.70" y2="223.28" stroke="#000" stroke-width="0.7" stroke-dasharray="1 0.9"/>
<path d="M609.7 226 L611.0 222.6 L608.4000000000001 222.6 Z" fill="#000"/>
<line x1="608.60" y1="226.00" x2="608.60" y2="262.48" stroke="#000" stroke-width="0.6" stroke-dasharray="0.9 0.9"/>
<path d="M608.6 265.2 L609.9 261.8 L607.3000000000001 261.8 Z" fill="#000"/>
<line x1="611.40" y1="226.00" x2="611.40" y2="262.48" stroke="#000" stroke-width="0.6" stroke-dasharray="0.9 0.9"/>
<path d="M611.4 265.2 L612.6999999999999 261.8 L610.1 261.8 Z" fill="#000"/>
<path d="M625.1 204.2 C642 204.2 651.4 214 651.4 246" fill="none" stroke="#E070F0" stroke-width="1.0"/>
<path d="M651.4 251.4 L653.0 247.20000000000002 L649.8 247.20000000000002 Z" fill="#E070F0"/>
<line x1="651.40" y1="265.20" x2="651.40" y2="255.10" stroke="#E070F0" stroke-width="0.9" stroke-dasharray="1 0.9"/>
<path d="M651.4 251.9 L652.9 255.9 L649.9 255.9 Z" fill="#E070F0"/>
<text x="432.80" y="185.60" font-size="7.0" text-anchor="end" stroke="#000" stroke-width="0.12" transform="translate(432.80 185.60) scale(1 1.1) translate(-432.80 -185.60)" dominant-baseline="central">S<tspan font-size="4" dy="1.6">1</tspan></text>
<text x="432.80" y="261.40" font-size="7.0" text-anchor="end" stroke="#000" stroke-width="0.12" transform="translate(432.80 261.40) scale(1 1.1) translate(-432.80 -261.40)" dominant-baseline="central">S<tspan font-size="4" dy="1.6">0</tspan></text>
<text x="462.00" y="210.00" font-size="7.0" stroke="#000" stroke-width="0.12" transform="translate(462.00 210.00) scale(1 1.1) translate(-462.00 -210.00)" dominant-baseline="central">T<tspan font-size="4" dy="1.6">1</tspan></text>
<text x="460.40" y="166.40" font-size="7.0" text-anchor="middle" stroke="#000" stroke-width="0.12" transform="translate(460.40 166.40) scale(1 1.1) translate(-460.40 -166.40)" dominant-baseline="central">Lu<tspan font-size="4" dy="-2">3+</tspan></text>
<text x="460.60" y="174.90" font-size="7.3" text-anchor="middle" stroke="#000" stroke-width="0.12" transform="translate(460.60 174.90) scale(1 1.1) translate(-460.60 -174.90)" dominant-baseline="central">Heavy-atom effect</text>
<text x="460.60" y="187.40" font-size="7.2" text-anchor="middle" fill="#2AA83E" stroke="#2AA83E" stroke-width="0.12" transform="translate(460.60 187.40) scale(1 1.1) translate(-460.60 -187.40)" dominant-baseline="central">ISC</text>
<text x="476.80" y="184.20" font-size="7.2" text-anchor="middle" fill="#2AA83E" stroke="#2AA83E" stroke-width="0.12" transform="translate(476.80 184.20) scale(1 1.1) translate(-476.80 -184.20)" dominant-baseline="central">TET</text>
<text x="433.40" y="227.90" font-size="7.4" text-anchor="middle" fill="#4EA6F2" stroke="#4EA6F2" stroke-width="0.12" transform="rotate(-90 433.40 227.90) translate(433.40 227.90) scale(1 1.1) translate(-433.40 -227.90)" dominant-baseline="central">808 nm</text>
<text x="488.30" y="235.50" font-size="7.4" text-anchor="middle" fill="#F7AE45" stroke="#F7AE45" stroke-width="0.12" transform="rotate(-90 488.30 235.50) translate(488.30 235.50) scale(1 1.1) translate(-488.30 -235.50)" dominant-baseline="central">980 nm</text>
<text x="545.60" y="235.50" font-size="7.4" text-anchor="middle" fill="#1E2EF0" stroke="#1E2EF0" stroke-width="0.12" transform="rotate(-90 545.60 235.50) translate(545.60 235.50) scale(1 1.1) translate(-545.60 -235.50)" dominant-baseline="central">980 nm</text>
<text x="622.30" y="245.60" font-size="7.0" text-anchor="middle" fill="#F23A3A" stroke="#F23A3A" stroke-width="0.12" transform="rotate(-90 622.30 245.60) translate(622.30 245.60) scale(1 1.1) translate(-622.30 -245.60)" dominant-baseline="central">1525 nm</text>
<text x="441.80" y="272.70" font-size="7.2" text-anchor="middle" stroke="#000" stroke-width="0.12" transform="translate(441.80 272.70) scale(1 1.1) translate(-441.80 -272.70)" dominant-baseline="central">Bi-HCy-OH</text>
<text x="498.50" y="272.70" font-size="7.2" text-anchor="middle" stroke="#000" stroke-width="0.12" transform="translate(498.50 272.70) scale(1 1.1) translate(-498.50 -272.70)" dominant-baseline="central">Yb<tspan font-size="4" dy="-2">3+</tspan></text>
<text x="538.60" y="273.20" font-size="7.2" text-anchor="middle" stroke="#000" stroke-width="0.12" transform="translate(538.60 273.20) scale(1 1.1) translate(-538.60 -273.20)" dominant-baseline="central">Yb<tspan font-size="4" dy="-2">3+</tspan></text>
<text x="599.40" y="273.20" font-size="7.2" text-anchor="middle" stroke="#000" stroke-width="0.12" transform="translate(599.40 273.20) scale(1 1.1) translate(-599.40 -273.20)" dominant-baseline="central">Er<tspan font-size="4" dy="-2">3+</tspan></text>
<text x="650.80" y="273.20" font-size="7.2" text-anchor="middle" stroke="#000" stroke-width="0.12" transform="translate(650.80 273.20) scale(1 1.1) translate(-650.80 -273.20)" dominant-baseline="central">Ce<tspan font-size="4" dy="-2">3+</tspan></text>
<text x="491.30" y="200.30" font-size="7.2" text-anchor="end" stroke="#000" stroke-width="0.12" transform="translate(491.30 200.30) scale(1 1.1) translate(-491.30 -200.30)" dominant-baseline="central"><tspan font-size="4.3" dy="-2.0">2</tspan><tspan dy="2.0">F</tspan><tspan font-size="4.2" dy="2.8">5/2</tspan></text>
<text x="491.30" y="260.30" font-size="7.2" text-anchor="end" stroke="#000" stroke-width="0.12" transform="translate(491.30 260.30) scale(1 1.1) translate(-491.30 -260.30)" dominant-baseline="central"><tspan font-size="4.3" dy="-2.0">2</tspan><tspan dy="2.0">F</tspan><tspan font-size="4.2" dy="2.8">7/2</tspan></text>
<text x="529.00" y="200.30" font-size="7.2" text-anchor="end" stroke="#000" stroke-width="0.12" transform="translate(529.00 200.30) scale(1 1.1) translate(-529.00 -200.30)" dominant-baseline="central"><tspan font-size="4.3" dy="-2.0">2</tspan><tspan dy="2.0">F</tspan><tspan font-size="4.2" dy="2.8">5/2</tspan></text>
<text x="529.00" y="260.30" font-size="7.2" text-anchor="end" stroke="#000" stroke-width="0.12" transform="translate(529.00 260.30) scale(1 1.1) translate(-529.00 -260.30)" dominant-baseline="central"><tspan font-size="4.3" dy="-2.0">2</tspan><tspan dy="2.0">F</tspan><tspan font-size="4.2" dy="2.8">7/2</tspan></text>
<text x="567.60" y="146.80" font-size="7.2" text-anchor="end" stroke="#000" stroke-width="0.12" transform="translate(567.60 146.80) scale(1 1.1) translate(-567.60 -146.80)" dominant-baseline="central"><tspan font-size="4.3" dy="-2.0">4</tspan><tspan dy="2.0">S</tspan><tspan font-size="4.2" dy="2.8">3/2</tspan><tspan dy="-2.8">,</tspan><tspan font-size="4.3" dy="-2.0">2</tspan><tspan dy="2.0">I</tspan><tspan font-size="4.2" dy="2.8">11/2</tspan></text>
<text x="567.60" y="169.70" font-size="7.2" text-anchor="end" stroke="#000" stroke-width="0.12" transform="translate(567.60 169.70) scale(1 1.1) translate(-567.60 -169.70)" dominant-baseline="central"><tspan font-size="4.3" dy="-2.0">4</tspan><tspan dy="2.0">F</tspan><tspan font-size="4.2" dy="2.8">9/2</tspan></text>
<text x="567.60" y="183.00" font-size="7.2" text-anchor="end" stroke="#000" stroke-width="0.12" transform="translate(567.60 183.00) scale(1 1.1) translate(-567.60 -183.00)" dominant-baseline="central"><tspan font-size="4.3" dy="-2.0">4</tspan><tspan dy="2.0">I</tspan><tspan font-size="4.2" dy="2.8">9/2</tspan></text>
<text x="567.60" y="199.50" font-size="7.2" text-anchor="end" stroke="#000" stroke-width="0.12" transform="translate(567.60 199.50) scale(1 1.1) translate(-567.60 -199.50)" dominant-baseline="central"><tspan font-size="4.3" dy="-2.0">4</tspan><tspan dy="2.0">I</tspan><tspan font-size="4.2" dy="2.8">11/2</tspan></text>
<text x="567.60" y="221.00" font-size="7.2" text-anchor="end" stroke="#000" stroke-width="0.12" transform="translate(567.60 221.00) scale(1 1.1) translate(-567.60 -221.00)" dominant-baseline="central"><tspan font-size="4.3" dy="-2.0">4</tspan><tspan dy="2.0">I</tspan><tspan font-size="4.2" dy="2.8">13/2</tspan></text>
<text x="567.60" y="261.10" font-size="7.2" text-anchor="end" stroke="#000" stroke-width="0.12" transform="translate(567.60 261.10) scale(1 1.1) translate(-567.60 -261.10)" dominant-baseline="central"><tspan font-size="4.3" dy="-2.0">4</tspan><tspan dy="2.0">I</tspan><tspan font-size="4.2" dy="2.8">15/2</tspan></text>
<text x="643.00" y="247.70" font-size="7.2" text-anchor="end" stroke="#000" stroke-width="0.12" transform="translate(643.00 247.70) scale(1 1.1) translate(-643.00 -247.70)" dominant-baseline="central"><tspan font-size="4.3" dy="-2.0">2</tspan><tspan dy="2.0">F</tspan><tspan font-size="4.2" dy="2.8">7/2</tspan></text>
<text x="643.00" y="261.10" font-size="7.2" text-anchor="end" stroke="#000" stroke-width="0.12" transform="translate(643.00 261.10) scale(1 1.1) translate(-643.00 -261.10)" dominant-baseline="central"><tspan font-size="4.3" dy="-2.0">2</tspan><tspan dy="2.0">F</tspan><tspan font-size="4.2" dy="2.8">5/2</tspan></text>
<text x="590.20" y="146.00" font-size="5.4" fill="#8EE68A" stroke="#8EE68A" stroke-width="0.12" transform="translate(590.20 146.00) scale(1 1.1) translate(-590.20 -146.00)" dominant-baseline="central">Green</text>
<text x="604.20" y="170.50" font-size="5.4" fill="#F39090" stroke="#F39090" stroke-width="0.12" transform="translate(604.20 170.50) scale(1 1.1) translate(-604.20 -170.50)" dominant-baseline="central">Red</text>
<text x="616.90" y="221.80" font-size="5.0" fill="#F23A3A" stroke="#F23A3A" stroke-width="0.12" font-weight="bold" transform="translate(616.90 221.80) scale(1 1.1) translate(-616.90 -221.80)" dominant-baseline="central">NIR-IIb</text>
<defs>
<radialGradient id="ringG" cx="0.45" cy="0.4" r="0.65"><stop offset="0" stop-color="#ffffff"/><stop offset="0.6" stop-color="#ececec"/><stop offset="1" stop-color="#bdbdbd"/></radialGradient>
<radialGradient id="ringR" cx="0.45" cy="0.4" r="0.65"><stop offset="0" stop-color="#fff0f0"/><stop offset="0.55" stop-color="#fcc4c4"/><stop offset="1" stop-color="#f59a9a"/></radialGradient>
<radialGradient id="glowR" cx="0.5" cy="0.5" r="0.5"><stop offset="0" stop-color="#ff5a5a" stop-opacity="0.95"/><stop offset="0.45" stop-color="#ff8080" stop-opacity="0.75"/><stop offset="0.8" stop-color="#ffb8b8" stop-opacity="0.3"/><stop offset="1" stop-color="#ffd8d8" stop-opacity="0"/></radialGradient>
<radialGradient id="glowStar" cx="0.5" cy="0.5" r="0.5"><stop offset="0" stop-color="#ff7088" stop-opacity="0.7"/><stop offset="0.3" stop-color="#ffa0b0" stop-opacity="0.45"/><stop offset="0.65" stop-color="#ffd0d8" stop-opacity="0.25"/><stop offset="1" stop-color="#ffe8ec" stop-opacity="0"/></radialGradient>
<linearGradient id="starB" x1="0" y1="0" x2="0" y2="1"><stop offset="0" stop-color="#8ea6f0"/><stop offset="0.5" stop-color="#b4c8f8"/><stop offset="1" stop-color="#90a4f0"/></linearGradient>
<linearGradient id="starR" x1="0" y1="0" x2="0" y2="1"><stop offset="0" stop-color="#e0102c"/><stop offset="0.55" stop-color="#e01838"/><stop offset="0.8" stop-color="#e06080"/><stop offset="1" stop-color="#e890a8"/></linearGradient>
<radialGradient id="starP" cx="0.5" cy="0.5" r="0.5"><stop offset="0" stop-color="#8a2e8a"/><stop offset="1" stop-color="#c050c8"/></radialGradient>
<linearGradient id="dbg" x1="20" y1="0" x2="331" y2="0" gradientUnits="userSpaceOnUse"><stop offset="0" stop-color="#ffffff"/><stop offset="0.1" stop-color="#fdfdfc"/><stop offset="0.16" stop-color="#f8fbf6"/><stop offset="0.5" stop-color="#f7fbf4"/><stop offset="1" stop-color="#f2f9ee"/></linearGradient>
</defs>
<rect x="20.0" y="128.6" width="310.8" height="150.79999999999998" rx="4" fill="url(#dbg)"/>
<text x="0.30" y="139.70" font-size="11.2" stroke="#000" stroke-width="0.08">d</text>
<path d="M90.30 130.90 L87.79 135.25 L82.77 135.25 L85.28 139.60 L82.77 143.95 L87.79 143.95 L90.30 148.30 L92.81 143.95 L97.83 143.95 L95.32 139.60 L97.83 135.25 L92.81 135.25 Z" fill="url(#starB)" stroke="#8a9ce6" stroke-width="0.4" stroke-linejoin="round"/>
<path d="M90.30 131.50 L94.60 139.00 L90.30 141.00 L86.00 139.00 Z" fill="#8496e6" stroke="none" stroke-width="0" stroke-linejoin="round"/>
<text x="90.70" y="153.80" font-size="7.2" text-anchor="middle" stroke="#000" stroke-width="0.12" transform="translate(90.70 153.80) scale(1 1.1) translate(-90.70 -153.80)" dominant-baseline="central">Bi-HCy-VPAA-Ac</text>
<path d="M24.10 188.90 L27.30 184.20 L33.20 184.20 L35.70 189.60 L33.20 194.50 L26.90 194.50 Z" fill="url(#ringG)" stroke="#4a4a4a" stroke-width="0.9" stroke-linejoin="round"/>
<path d="M33.20 184.20 L37.10 179.10 L43.40 179.50 L46.20 184.70 L43.00 190.00 L35.70 189.60 Z" fill="url(#ringG)" stroke="#4a4a4a" stroke-width="0.9" stroke-linejoin="round"/>
<path d="M35.70 189.60 L43.00 190.00 L43.00 195.90 L37.80 200.10 L33.20 194.50 Z" fill="url(#ringG)" stroke="#4a4a4a" stroke-width="0.9" stroke-linejoin="round"/>
<path d="M37.80 200.10 L36.40 204.30 L40.90 208.50" fill="none" stroke="#4a4a4a" stroke-width="0.9" stroke-linejoin="round" stroke-linecap="round"/>
<text x="37.80" y="199.80" font-size="5" text-anchor="middle" stroke="#000" stroke-width="0.12" transform="translate(37.80 199.80) scale(1 1.1) translate(-37.80 -199.80)" dominant-baseline="central">N</text>
<text x="44.20" y="205.40" font-size="5.2" stroke="#000" stroke-width="0.12" transform="translate(44.20 205.40) scale(1 1.1) translate(-44.20 -205.40)" dominant-baseline="central">I<tspan font-size="3.5" dy="-1.8">-</tspan></text>
<path d="M43.00 195.90 L49.00 200.10 L53.50 196.60 L58.10 199.40" fill="none" stroke="#4a4a4a" stroke-width="0.9" stroke-linejoin="round" stroke-linecap="round"/>
<path d="M49.60 198.60 L53.30 195.50" fill="none" stroke="#4a4a4a" stroke-width="0.7" stroke-linejoin="round" stroke-linecap="round"/>
<path d="M64.30 196.35 L59.15 199.33 L59.15 205.28 L64.30 208.25 L69.45 205.28 L69.45 199.33 Z" fill="url(#ringG)" stroke="#4a4a4a" stroke-width="0.9" stroke-linejoin="round"/>
<path d="M69.60 187.45 L64.45 190.43 L64.45 196.38 L69.60 199.35 L74.75 196.38 L74.75 190.43 Z" fill="url(#ringG)" stroke="#4a4a4a" stroke-width="0.9" stroke-linejoin="round"/>
<path d="M74.60 178.65 L69.45 181.62 L69.45 187.57 L74.60 190.55 L79.75 187.57 L79.75 181.62 Z" fill="url(#ringG)" stroke="#4a4a4a" stroke-width="0.9" stroke-linejoin="round"/>
<circle cx="64.3" cy="190.5" r="1.5" fill="#fff"/>
<text x="64.30" y="190.60" font-size="4.4" text-anchor="middle" stroke="#000" stroke-width="0.12" transform="translate(64.30 190.60) scale(1 1.1) translate(-64.30 -190.60)" dominant-baseline="central">O</text>
<path d="M74.60 178.70 L74.60 173.40" fill="none" stroke="#4a4a4a" stroke-width="0.9" stroke-linejoin="round" stroke-linecap="round"/>
<text x="74.60" y="172.30" font-size="4.4" text-anchor="middle" stroke="#000" stroke-width="0.12" transform="translate(74.60 172.30) scale(1 1.1) translate(-74.60 -172.30)" dominant-baseline="central">O</text>
<path d="M75.80 171.20 L79.80 169.30 L84.90 172.20" fill="none" stroke="#4a4a4a" stroke-width="0.9" stroke-linejoin="round" stroke-linecap="round"/>
<path d="M90.10 169.30 L84.90 172.30 L84.90 178.30 L90.10 181.30 L95.30 178.30 L95.30 172.30 Z" fill="url(#ringG)" stroke="#2b4a78" stroke-width="1.0" stroke-linejoin="round"/>
<path d="M95.30 178.30 L99.50 180.80" fill="none" stroke="#4a4a4a" stroke-width="0.9" stroke-linejoin="round" stroke-linecap="round"/>
<text x="100.60" y="181.20" font-size="4.6" text-anchor="middle" stroke="#000" stroke-width="0.12" transform="translate(100.60 181.20) scale(1 1.1) translate(-100.60 -181.20)" dominant-baseline="central">N</text>
<text x="100.30" y="185.60" font-size="4.6" text-anchor="middle" stroke="#000" stroke-width="0.12" transform="translate(100.30 185.60) scale(1 1.1) translate(-100.30 -185.60)" dominant-baseline="central">H</text>
<path d="M97.50 163.50 L97.50 171.00 L103.50 178.00" fill="none" stroke="#4a4a4a" stroke-width="0.8" stroke-linejoin="round" stroke-linecap="round"/>
<path d="M92.00 165.60 L97.50 169.50 L101.80 163.80" fill="none" stroke="#4a4a4a" stroke-width="0.8" stroke-linejoin="round" stroke-linecap="round"/>
<text x="90.40" y="164.00" font-size="4" text-anchor="middle" stroke="#000" stroke-width="0.12" transform="translate(90.40 164.00) scale(1 1.1) translate(-90.40 -164.00)" dominant-baseline="central">O</text>
<text x="98.00" y="161.60" font-size="4" text-anchor="middle" stroke="#000" stroke-width="0.12" transform="translate(98.00 161.60) scale(1 1.1) translate(-98.00 -161.60)" dominant-baseline="central">O</text>
<path d="M99.60 172.50 L105.00 182.00" fill="none" stroke="#4a4a4a" stroke-width="0.9" stroke-linejoin="round" stroke-linecap="round" stroke-dasharray="0.9 0.8"/>
<path d="M84.2 190.1 Q103 204 120.6 192.2" fill="none" stroke="#333" stroke-width="0.9"/>
<path d="M123.2 190.4 L118.2 190.8 L120.4 194.6 Z" fill="#111"/>
<text x="104.50" y="203.40" font-size="7.2" text-anchor="middle" stroke="#000" stroke-width="0.12" transform="translate(104.50 203.40) scale(1 1.1) translate(-104.50 -203.40)" dominant-baseline="central">ICT</text>
<path d="M101.80 182.60 L106.40 178.20 L111.00 180.90 L115.40 178.80" fill="none" stroke="#3a8ee6" stroke-width="0.9" stroke-linejoin="round" stroke-linecap="round"/>
<path d="M106.40 178.20 L106.40 174.20" fill="none" stroke="#3a8ee6" stroke-width="0.9" stroke-linejoin="round" stroke-linecap="round"/>
<path d="M105.40 178.60 L105.40 174.60" fill="none" stroke="#3a8ee6" stroke-width="0.6" stroke-linejoin="round" stroke-linecap="round"/>
<text x="106.20" y="172.40" font-size="4.4" text-anchor="middle" fill="#3a8ee6" stroke="#3a8ee6" stroke-width="0.12" transform="translate(106.20 172.40) scale(1 1.1) translate(-106.20 -172.40)" dominant-baseline="central">O</text>
<path d="M111.00 180.90 L111.00 186.40 L106.60 189.60" fill="none" stroke="#3a8ee6" stroke-width="0.9" stroke-linejoin="round" stroke-linecap="round"/>
<path d="M111.00 186.40 L115.80 189.60" fill="none" stroke="#3a8ee6" stroke-width="0.9" stroke-linejoin="round" stroke-linecap="round"/>
<text x="116.90" y="178.30" font-size="4.4" text-anchor="middle" fill="#3a8ee6" stroke="#3a8ee6" stroke-width="0.12" transform="translate(116.90 178.30) scale(1 1.1) translate(-116.90 -178.30)" dominant-baseline="central">N</text>
<text x="116.90" y="174.40" font-size="4.4" text-anchor="middle" fill="#3a8ee6" stroke="#3a8ee6" stroke-width="0.12" transform="translate(116.90 174.40) scale(1 1.1) translate(-116.90 -174.40)" dominant-baseline="central">H</text>
<path d="M118.40 179.00 L122.20 181.00 L125.50 178.20" fill="none" stroke="#3a8ee6" stroke-width="0.9" stroke-linejoin="round" stroke-linecap="round"/>
<path d="M122.20 181.00 L122.20 185.80" fill="none" stroke="#3a8ee6" stroke-width="0.9" stroke-linejoin="round" stroke-linecap="round"/>
<text x="122.20" y="187.60" font-size="4.4" text-anchor="middle" fill="#3a8ee6" stroke="#3a8ee6" stroke-width="0.12" transform="translate(122.20 187.60) scale(1 1.1) translate(-122.20 -187.60)" dominant-baseline="central">O</text>
<path d="M125.50 172.30 L130.10 169.40 L135.30 173.00 L134.00 178.20 L127.40 178.20 Z" fill="none" stroke="#3a8ee6" stroke-width="1.4" stroke-linejoin="round"/>
<path d="M134.00 178.20 L136.00 182.80 L141.20 185.50" fill="none" stroke="#3a8ee6" stroke-width="0.9" stroke-linejoin="round" stroke-linecap="round"/>
<path d="M136.00 182.80 L133.60 186.60" fill="none" stroke="#3a8ee6" stroke-width="0.9" stroke-linejoin="round" stroke-linecap="round"/>
<text x="132.70" y="188.60" font-size="4.4" text-anchor="middle" fill="#3a8ee6" stroke="#3a8ee6" stroke-width="0.12" transform="translate(132.70 188.60) scale(1 1.1) translate(-132.70 -188.60)" dominant-baseline="central">O</text>
<path d="M141.20 185.50 L144.80 178.60" fill="none" stroke="#3a8ee6" stroke-width="0.9" stroke-linejoin="round" stroke-linecap="round"/>
<text x="143.00" y="188.20" font-size="4.4" text-anchor="middle" fill="#3a8ee6" stroke="#3a8ee6" stroke-width="0.12" transform="translate(143.00 188.20) scale(1 1.1) translate(-143.00 -188.20)" dominant-baseline="central">HN</text>
<path d="M146.80 188.00 L150.40 185.00 L153.10 191.50 L158.80 191.50" fill="none" stroke="#3a8ee6" stroke-width="0.9" stroke-linejoin="round" stroke-linecap="round"/>
<path d="M150.40 185.00 L152.60 182.20" fill="none" stroke="#3a8ee6" stroke-width="0.9" stroke-linejoin="round" stroke-linecap="round"/>
<text x="154.00" y="181.20" font-size="4.4" text-anchor="middle" fill="#3a8ee6" stroke="#3a8ee6" stroke-width="0.12" transform="translate(154.00 181.20) scale(1 1.1) translate(-154.00 -181.20)" dominant-baseline="central">O</text>
<text x="147.60" y="198.40" font-size="4.4" text-anchor="middle" fill="#3a8ee6" stroke="#3a8ee6" stroke-width="0.12" transform="translate(147.60 198.40) scale(1 1.1) translate(-147.60 -198.40)" dominant-baseline="central">HN</text>
<path d="M153.10 191.50 L151.00 196.00" fill="none" stroke="#3a8ee6" stroke-width="0.9" stroke-linejoin="round" stroke-linecap="round"/>
<path d="M151.60 199.60 L152.20 202.80 L157.20 203.20" fill="none" stroke="#3a8ee6" stroke-width="0.9" stroke-linejoin="round" stroke-linecap="round"/>
<path d="M152.20 202.80 L150.20 207.80" fill="none" stroke="#3a8ee6" stroke-width="0.9" stroke-linejoin="round" stroke-linecap="round"/>
<text x="159.40" y="203.20" font-size="4.4" text-anchor="middle" fill="#3a8ee6" stroke="#3a8ee6" stroke-width="0.12" transform="translate(159.40 203.20) scale(1 1.1) translate(-159.40 -203.20)" dominant-baseline="central">O</text>
<line x1="24.30" y1="214.30" x2="80.50" y2="214.30" stroke="#555" stroke-width="1.0"/>
<line x1="24.30" y1="212.30" x2="24.30" y2="216.30" stroke="#555" stroke-width="1.0"/>
<line x1="80.50" y1="212.30" x2="80.50" y2="216.30" stroke="#555" stroke-width="1.0"/>
<line x1="102.70" y1="214.30" x2="161.50" y2="214.30" stroke="#555" stroke-width="1.0"/>
<line x1="102.70" y1="212.30" x2="102.70" y2="216.30" stroke="#555" stroke-width="1.0"/>
<line x1="161.50" y1="212.30" x2="161.50" y2="216.30" stroke="#555" stroke-width="1.0"/>
<line x1="77.40" y1="230.40" x2="104.20" y2="230.40" stroke="#555" stroke-width="1.0"/>
<line x1="77.40" y1="228.40" x2="77.40" y2="232.40" stroke="#555" stroke-width="1.0"/>
<line x1="104.20" y1="228.40" x2="104.20" y2="232.40" stroke="#555" stroke-width="1.0"/>
<text x="52.40" y="222.80" font-size="7.2" text-anchor="middle" stroke="#000" stroke-width="0.12" transform="translate(52.40 222.80) scale(1 1.1) translate(-52.40 -222.80)" dominant-baseline="central">Bi-HCy</text>
<text x="132.10" y="222.80" font-size="7.2" text-anchor="middle" stroke="#000" stroke-width="0.12" transform="translate(132.10 222.80) scale(1 1.1) translate(-132.10 -222.80)" dominant-baseline="central">NE substrate</text>
<text x="90.70" y="238.70" font-size="7.2" text-anchor="middle" stroke="#000" stroke-width="0.12" transform="translate(90.70 238.70) scale(1 1.1) translate(-90.70 -238.70)" dominant-baseline="central">Self-immolative linker</text>
<text x="90.70" y="272.60" font-size="7.2" text-anchor="middle" stroke="#000" stroke-width="0.12" transform="translate(90.70 272.60) scale(1 1.1) translate(-90.70 -272.60)" dominant-baseline="central">NIR-II signal ("<tspan fill="#aaa" stroke="#aaa">Off</tspan>")</text>
<path d="M195.60 158.60 L193.84 168.17 L184.19 166.89 L192.75 171.53 L188.55 180.31 L195.60 173.60 L202.65 180.31 L198.45 171.53 L207.01 166.89 L197.36 168.17 Z" fill="url(#starP)" stroke="none" stroke-width="0" stroke-linejoin="round"/>
<path d="M191.78 165.34 L193.22 169.83 L189.42 172.61 L194.13 172.62 L195.60 177.10 L197.07 172.62 L201.78 172.61 L197.98 169.83 L199.42 165.34 L195.60 168.10 Z" fill="#a03ca8" stroke="none" stroke-width="0" stroke-linejoin="round"/>
<text x="195.60" y="185.60" font-size="7.2" text-anchor="middle" stroke="#000" stroke-width="0.12" transform="translate(195.60 185.60) scale(1 1.1) translate(-195.60 -185.60)" dominant-baseline="central">NE</text>
<line x1="171.80" y1="192.40" x2="210.00" y2="192.40" stroke="#000" stroke-width="1.4"/>
<path d="M219.4 192.4 L207.4 187.3 L209.6 192.4 L207.4 197.5 Z" fill="#000"/>
<circle cx="263.9" cy="139.5" r="25" fill="url(#glowStar)"/>
<path d="M263.90 130.80 L261.36 135.20 L256.28 135.20 L258.82 139.60 L256.28 144.00 L261.36 144.00 L263.90 148.40 L266.44 144.00 L271.52 144.00 L268.98 139.60 L271.52 135.20 L266.44 135.20 Z" fill="url(#starR)" stroke="#c01030" stroke-width="0.3" stroke-linejoin="round"/>
<path d="M263.90 131.20 L267.20 137.20 L263.90 143.50 L260.60 137.20 Z" fill="#c8102a" stroke="none" stroke-width="0" stroke-linejoin="round"/>
<text x="263.80" y="153.60" font-size="7.2" text-anchor="middle" stroke="#000" stroke-width="0.12" transform="translate(263.80 153.60) scale(1 1.1) translate(-263.80 -153.60)" dominant-baseline="central">Bi-HCy-OH</text>
<circle cx="263.5" cy="238.5" r="20" fill="url(#glowR)"/>
<path d="M230.6 223.4 Q263.5 193.8 296.8 223.4" fill="none" stroke="#8EE98A" stroke-width="5.2"/>
<circle cx="243.1" cy="214.6" r="1.5" fill="#5c5c5c"/>
<circle cx="284.6" cy="214.6" r="1.5" fill="#5c5c5c"/>
<circle cx="231.4" cy="222.8" r="1.5" fill="#4cb4ea"/>
<circle cx="296.2" cy="222.8" r="1.5" fill="#4cb4ea"/>
<circle cx="263.5" cy="217.8" r="1.5" fill="#98e050"/>
<circle cx="253.6" cy="228.0" r="1.5" fill="#e050c0"/>
<circle cx="274.1" cy="228.0" r="1.5" fill="#4cb4ea"/>
<path d="M263.5 219.5 L260.3 221.0 L266.7 222.6 L260.3 224.2 L266.7 225.8 L260.3 227.4 L266.7 229.0 L260.3 230.6 L266.7 232.2 L260.3 233.8 L266.7 235.4 L260.3 237.0 L266.7 238.6 L263.5 239" fill="none" stroke="#F8A63C" stroke-width="0.8"/>
<path d="M263.5 241 L261.3 236.5 L265.7 236.5 Z" fill="#F8A63C"/>
<ellipse cx="258.6" cy="222.8" rx="6.4" ry="2.0" transform="rotate(-42 258.6 222.8)" fill="none" stroke="#222" stroke-width="0.8"/>
<path d="M274.1 226 Q273 219.5 268.2 218.4" fill="none" stroke="#222" stroke-width="0.8"/>
<path d="M267.0 218.6 L270 216.8 L270 220.2 Z" fill="#111"/>
<path d="M296.2 224.6 Q290 230 279.0 228.2" fill="none" stroke="#222" stroke-width="0.8"/>
<path d="M277.4 228.0 L280.6 226.2 L280.6 229.8 Z" fill="#111"/>
<path d="M288 211.7 Q296.4 210.5 298.6 218.4" fill="none" stroke="#222" stroke-width="0.7" stroke-dasharray="1 0.9"/>
<path d="M294.4 203.0 Q300.5 207 299.4 217.6" fill="none" stroke="#222" stroke-width="0.7" stroke-dasharray="1 0.9"/>
<path d="M299.0 220.4 L297.2 216.8 L300.6 216.8 Z" fill="#111"/>
<path d="M248.20 189.50 L245.35 184.56 L239.65 184.56 L236.80 189.50 L239.65 194.44 L245.35 194.44 Z" fill="url(#ringR)" stroke="#F07C7C" stroke-width="0.9" stroke-linejoin="round"/>
<path d="M258.30 184.60 L255.60 179.92 L250.20 179.92 L247.50 184.60 L250.20 189.28 L255.60 189.28 Z" fill="url(#ringR)" stroke="#F07C7C" stroke-width="0.9" stroke-linejoin="round"/>
<path d="M248.70 189.50 L255.80 190.00 L255.80 195.60 L251.50 199.40 L246.30 194.70 Z" fill="url(#ringR)" stroke="#F07C7C" stroke-width="0.9" stroke-linejoin="round"/>
<path d="M251.50 199.40 L249.60 202.70 L253.40 208.00" fill="none" stroke="#F07C7C" stroke-width="0.9" stroke-linejoin="round" stroke-linecap="round"/>
<text x="256.40" y="205.60" font-size="4.8" fill="#F07C7C" stroke="#F07C7C" stroke-width="0.12" transform="translate(256.40 205.60) scale(1 1.1) translate(-256.40 -205.60)" dominant-baseline="central">I</text>
<path d="M255.80 195.60 L262.00 199.90 L266.20 196.10 L271.40 199.40" fill="none" stroke="#F07C7C" stroke-width="0.9" stroke-linejoin="round" stroke-linecap="round"/>
<path d="M276.60 197.15 L271.79 199.92 L271.79 205.47 L276.60 208.25 L281.41 205.47 L281.41 199.92 Z" fill="url(#ringR)" stroke="#F07C7C" stroke-width="0.9" stroke-linejoin="round"/>
<path d="M281.90 187.75 L277.09 190.53 L277.09 196.08 L281.90 198.85 L286.71 196.08 L286.71 190.53 Z" fill="url(#ringR)" stroke="#F07C7C" stroke-width="0.9" stroke-linejoin="round"/>
<path d="M287.40 178.45 L282.59 181.22 L282.59 186.78 L287.40 189.55 L292.21 186.78 L292.21 181.22 Z" fill="url(#ringR)" stroke="#F07C7C" stroke-width="0.9" stroke-linejoin="round"/>
<path d="M287.40 178.40 L289.20 174.60" fill="none" stroke="#F07C7C" stroke-width="0.9" stroke-linejoin="round" stroke-linecap="round"/>
<text x="290.40" y="172.40" font-size="4.4" fill="#F07C7C" stroke="#F07C7C" stroke-width="0.12" transform="translate(290.40 172.40) scale(1 1.1) translate(-290.40 -172.40)" dominant-baseline="central">OH</text>
<path d="M286.8 172.8 Q283.6 175.6 285 178.4" fill="none" stroke="#333" stroke-width="0.7"/>
<path d="M281.2 181.4 Q278.6 184.6 280.0 187.8" fill="none" stroke="#333" stroke-width="0.7"/>
<path d="M275.6 191.0 Q273.2 194.2 274.6 197.4" fill="none" stroke="#333" stroke-width="0.7"/>
<path d="M263.5 195.4 L266.2 194.4" stroke="#333" stroke-width="0.7"/>
<text x="308.40" y="189.60" font-size="7.2" text-anchor="middle" stroke="#000" stroke-width="0.12" transform="translate(308.40 189.60) scale(1 1.1) translate(-308.40 -189.60)" dominant-baseline="central">Energy</text>
<text x="308.40" y="198.20" font-size="7.2" text-anchor="middle" stroke="#000" stroke-width="0.12" transform="translate(308.40 198.20) scale(1 1.1) translate(-308.40 -198.20)" dominant-baseline="central">harvesting</text>
<text x="304.60" y="230.60" font-size="7.2" text-anchor="middle" stroke="#000" stroke-width="0.12" transform="translate(304.60 230.60) scale(1 1.1) translate(-304.60 -230.60)" dominant-baseline="central">Energy</text>
<text x="304.60" y="239.40" font-size="7.2" text-anchor="middle" stroke="#000" stroke-width="0.12" transform="translate(304.60 239.40) scale(1 1.1) translate(-304.60 -239.40)" dominant-baseline="central">trapping</text>
<text x="222.30" y="230.60" font-size="7.2" text-anchor="middle" stroke="#000" stroke-width="0.12" transform="translate(222.30 230.60) scale(1 1.1) translate(-222.30 -230.60)" dominant-baseline="central">Cross</text>
<text x="222.30" y="239.40" font-size="7.2" text-anchor="middle" stroke="#000" stroke-width="0.12" transform="translate(222.30 239.40) scale(1 1.1) translate(-222.30 -239.40)" dominant-baseline="central">relaxation</text>
<circle cx="216.0" cy="260.8" r="1.8" fill="#4cb4ea"/>
<text x="219.00" y="260.80" font-size="7.2" stroke="#000" stroke-width="0.12" transform="translate(219.00 260.80) scale(1 1.1) translate(-219.00 -260.80)" dominant-baseline="central">Yb<tspan font-size="4.3" dy="-2">3+</tspan></text>
<circle cx="242.7" cy="260.8" r="1.8" fill="#98e050"/>
<text x="246.60" y="260.80" font-size="7.2" stroke="#000" stroke-width="0.12" transform="translate(246.60 260.80) scale(1 1.1) translate(-246.60 -260.80)" dominant-baseline="central">Er<tspan font-size="4.3" dy="-2">3+</tspan></text>
<circle cx="269.3" cy="260.8" r="1.8" fill="#e050c0"/>
<text x="272.70" y="260.80" font-size="7.2" stroke="#000" stroke-width="0.12" transform="translate(272.70 260.80) scale(1 1.1) translate(-272.70 -260.80)" dominant-baseline="central">Ce<tspan font-size="4.3" dy="-2">3+</tspan></text>
<circle cx="295.9" cy="260.8" r="1.8" fill="#777"/>
<text x="300.40" y="260.80" font-size="7.2" stroke="#000" stroke-width="0.12" transform="translate(300.40 260.80) scale(1 1.1) translate(-300.40 -260.80)" dominant-baseline="central">Lu<tspan font-size="4.3" dy="-2">3+</tspan></text>
<rect x="20.0" y="128.6" width="310.8" height="150.79999999999998" rx="5" fill="none" stroke="#000" stroke-width="2.1" stroke-dasharray="3.7 3.6"/>
<text x="263.80" y="273.00" font-size="7.2" text-anchor="middle" stroke="#000" stroke-width="0.12" transform="translate(263.80 273.00) scale(1 1.1) translate(-263.80 -273.00)" dominant-baseline="central">NIR-II Signal ("<tspan fill="#F26A6A" stroke="#F26A6A">On</tspan>")</text>
<defs>
<radialGradient id="shell" cx="0.6" cy="0.35" r="0.75"><stop offset="0" stop-color="#92f2d8"/><stop offset="0.5" stop-color="#62dcb2"/><stop offset="0.9" stop-color="#48c49a"/><stop offset="1" stop-color="#40b490"/></radialGradient>
<linearGradient id="cutface" x1="0" y1="0" x2="0" y2="1"><stop offset="0" stop-color="#3fc48f"/><stop offset="1" stop-color="#6de3b4"/></linearGradient>
<radialGradient id="core" cx="0.5" cy="0.4" r="0.65"><stop offset="0" stop-color="#f4f9a6"/><stop offset="0.6" stop-color="#e8f06a"/><stop offset="1" stop-color="#d2dc3a"/></radialGradient>
<radialGradient id="eglow" cx="0.5" cy="0.5" r="0.5"><stop offset="0.5" stop-color="#ff7070" stop-opacity="0.85"/><stop offset="0.7" stop-color="#ff9898" stop-opacity="0.55"/><stop offset="0.88" stop-color="#ffc8c8" stop-opacity="0.25"/><stop offset="1" stop-color="#ffe8e8" stop-opacity="0"/></radialGradient>
<linearGradient id="beamR" x1="0" y1="0" x2="1" y2="0"><stop offset="0" stop-color="#ff0030" stop-opacity="1"/><stop offset="0.7" stop-color="#ff2a50" stop-opacity="0.9"/><stop offset="1" stop-color="#ff90a8" stop-opacity="0.25"/></linearGradient><linearGradient id="beamRE" x1="0" y1="0" x2="1" y2="0"><stop offset="0" stop-color="#ff3050" stop-opacity="0.7"/><stop offset="0.6" stop-color="#ff3a5a" stop-opacity="0.85"/><stop offset="1" stop-color="#ffa0b0" stop-opacity="0.1"/></linearGradient>
<linearGradient id="beamG" x1="0" y1="0" x2="1" y2="0"><stop offset="0" stop-color="#20e020" stop-opacity="1"/><stop offset="0.7" stop-color="#40f040" stop-opacity="0.9"/><stop offset="1" stop-color="#a0ffa0" stop-opacity="0.25"/></linearGradient><linearGradient id="beamGE" x1="0" y1="0" x2="1" y2="0"><stop offset="0" stop-color="#30e030" stop-opacity="0.7"/><stop offset="0.6" stop-color="#40f040" stop-opacity="0.85"/><stop offset="1" stop-color="#b0ffb0" stop-opacity="0.1"/></linearGradient>
<linearGradient id="beamW" x1="0" y1="0" x2="1" y2="0"><stop offset="0" stop-color="#fff" stop-opacity="0.5"/><stop offset="0.5" stop-color="#fffbe0" stop-opacity="1"/><stop offset="1" stop-color="#fff" stop-opacity="0.6"/></linearGradient>
<linearGradient id="cone" x1="0" y1="0" x2="1" y2="0"><stop offset="0" stop-color="#c9a27a"/><stop offset="0.5" stop-color="#f3dcc2"/><stop offset="1" stop-color="#caa47e"/></linearGradient>
<filter id="blur1" x="-50%" y="-50%" width="200%" height="200%"><feGaussianBlur stdDeviation="1.2"/></filter>
<filter id="blur05" x="-50%" y="-50%" width="200%" height="200%"><feGaussianBlur stdDeviation="0.5"/></filter>
</defs>
<text x="0.70" y="311.90" font-size="11.2" stroke="#000" stroke-width="0.08">e</text>
<circle cx="244" cy="361.3" r="58" fill="url(#eglow)"/>
<g transform="translate(34.70 309.20) rotate(39.68)"><path d="M0 -0.00 L41.97 -5.40 Q46.83 0 41.97 5.40 L0 0.00 Z" fill="url(#beamR)" filter="url(#blur05)"/><path d="M4.20 0 L39.87 -2.27 Q43.59 0 39.87 2.27 Z" fill="url(#beamW)" filter="url(#blur05)"/></g>
<circle cx="34.70" cy="309.20" r="0.9" fill="#444"/>
<g transform="translate(34.30 405.50) rotate(-45.82)"><path d="M0 -0.00 L39.74 -5.00 Q44.24 0 39.74 5.00 L0 0.00 Z" fill="url(#beamG)" filter="url(#blur05)"/><path d="M3.97 0 L37.76 -2.10 Q41.24 0 37.76 2.10 Z" fill="url(#beamW)" filter="url(#blur05)"/></g>
<circle cx="34.30" cy="405.50" r="0.9" fill="#444"/>
<g transform="translate(121.50 377.50) rotate(42.05)"><path d="M0 -2.10 L34.34 -6.00 Q39.74 0 34.34 6.00 L0 2.10 Z" fill="url(#beamGE)" filter="url(#blur05)"/><path d="M3.43 0 L32.62 -2.52 Q36.14 0 32.62 2.52 Z" fill="url(#beamW)" filter="url(#blur05)"/></g>
<g transform="translate(186.80 309.30) rotate(40.56)"><path d="M0 -0.00 L41.06 -5.40 Q45.92 0 41.06 5.40 L0 0.00 Z" fill="url(#beamR)" filter="url(#blur05)"/><path d="M4.11 0 L39.01 -2.27 Q42.68 0 39.01 2.27 Z" fill="url(#beamW)" filter="url(#blur05)"/></g>
<circle cx="186.80" cy="309.30" r="0.9" fill="#444"/>
<g transform="translate(186.50 405.30) rotate(-45.85)"><path d="M0 -0.00 L38.05 -5.00 Q42.55 0 38.05 5.00 L0 0.00 Z" fill="url(#beamG)" filter="url(#blur05)"/><path d="M3.80 0 L36.14 -2.10 Q39.55 0 36.14 2.10 Z" fill="url(#beamW)" filter="url(#blur05)"/></g>
<circle cx="186.50" cy="405.30" r="0.9" fill="#444"/>
<g transform="translate(272.00 339.00) rotate(-43.92)"><path d="M0 -2.10 L37.48 -6.00 Q42.88 0 37.48 6.00 L0 2.10 Z" fill="url(#beamRE)" filter="url(#blur05)"/><path d="M3.75 0 L35.61 -2.52 Q39.28 0 35.61 2.52 Z" fill="url(#beamW)" filter="url(#blur05)"/></g>
<g transform="translate(272.50 380.00) rotate(40.79)"><path d="M0 -2.10 L33.68 -6.00 Q39.08 0 33.68 6.00 L0 2.10 Z" fill="url(#beamGE)" filter="url(#blur05)"/><path d="M3.37 0 L31.99 -2.52 Q35.48 0 31.99 2.52 Z" fill="url(#beamW)" filter="url(#blur05)"/></g>
<path d="M85.04 333.37 C85.22 333.19 85.88 332.61 86.13 332.28 C86.37 331.95 86.55 331.63 86.50 331.38 C86.45 331.12 86.18 330.91 85.83 330.73 C85.48 330.54 84.89 330.42 84.40 330.27 C83.91 330.12 83.29 330.01 82.90 329.83 C82.50 329.66 82.16 329.47 82.06 329.23 C81.95 328.98 82.05 328.69 82.25 328.37 C82.45 328.05 82.89 327.66 83.25 327.30 C83.61 326.94 84.12 326.54 84.40 326.20 C84.68 325.86 84.93 325.53 84.94 325.25 C84.95 324.98 84.77 324.75 84.46 324.56 C84.16 324.36 83.61 324.23 83.13 324.08 C82.65 323.93 82.00 323.82 81.58 323.65 C81.15 323.49 80.74 323.32 80.57 323.09 C80.41 322.86 80.42 322.58 80.57 322.27 C80.72 321.96 81.12 321.59 81.47 321.23 C81.82 320.88 82.34 320.48 82.65 320.13 C82.97 319.78 83.23 319.30 83.35 319.14" fill="none" stroke="#2c9de0" stroke-width="1.9" stroke-linecap="round"/>
<path d="M97.98 333.04 C97.97 332.90 98.10 332.49 97.93 332.18 C97.77 331.88 97.34 331.53 96.96 331.20 C96.59 330.86 96.03 330.50 95.68 330.17 C95.32 329.84 94.96 329.50 94.86 329.20 C94.75 328.91 94.82 328.63 95.04 328.38 C95.26 328.13 95.73 327.91 96.18 327.69 C96.62 327.47 97.26 327.28 97.70 327.06 C98.14 326.84 98.61 326.62 98.83 326.37 C99.04 326.11 99.09 325.84 98.98 325.54 C98.87 325.24 98.50 324.91 98.14 324.57 C97.79 324.24 97.23 323.88 96.85 323.54 C96.48 323.21 96.06 322.87 95.90 322.56 C95.74 322.25 95.72 321.97 95.88 321.71 C96.04 321.45 96.46 321.22 96.87 321.00 C97.29 320.77 97.93 320.58 98.39 320.36 C98.85 320.14 99.37 319.93 99.64 319.69 C99.91 319.44 100.05 319.18 99.99 318.89 C99.93 318.60 99.42 318.10 99.31 317.94" fill="none" stroke="#2c9de0" stroke-width="1.9" stroke-linecap="round"/>
<path d="M76.58 336.94 C76.31 336.96 75.47 337.04 74.96 337.06 C74.46 337.07 73.89 337.13 73.54 337.04 C73.19 336.95 72.95 336.79 72.86 336.52 C72.78 336.25 72.90 335.84 73.05 335.41 C73.20 334.98 73.54 334.43 73.75 333.96 C73.96 333.49 74.24 332.98 74.31 332.61 C74.37 332.23 74.35 331.92 74.16 331.73 C73.96 331.53 73.57 331.47 73.13 331.44 C72.70 331.41 72.06 331.51 71.55 331.53 C71.04 331.55 70.44 331.63 70.04 331.56 C69.65 331.50 69.34 331.39 69.21 331.15 C69.07 330.91 69.13 330.55 69.25 330.14 C69.37 329.74 69.68 329.20 69.90 328.73 C70.11 328.26 70.42 327.72 70.53 327.32 C70.64 326.92 70.68 326.57 70.54 326.34 C70.39 326.11 70.06 326.00 69.66 325.95 C69.26 325.89 68.65 325.98 68.14 326.00 C67.62 326.02 66.83 326.06 66.57 326.08" fill="none" stroke="#2c9de0" stroke-width="1.9" stroke-linecap="round"/>
<path d="M105.57 335.76 C105.55 335.59 105.36 334.98 105.48 334.73 C105.61 334.47 105.92 334.33 106.32 334.23 C106.71 334.13 107.32 334.15 107.85 334.13 C108.37 334.10 109.01 334.14 109.45 334.07 C109.88 333.99 110.28 333.89 110.46 333.67 C110.65 333.45 110.65 333.13 110.56 332.75 C110.47 332.37 110.16 331.86 109.92 331.40 C109.69 330.93 109.32 330.39 109.15 329.97 C108.98 329.54 108.84 329.13 108.91 328.85 C108.98 328.56 109.23 328.38 109.58 328.25 C109.93 328.13 110.51 328.13 111.02 328.10 C111.53 328.07 112.20 328.13 112.66 328.07 C113.13 328.01 113.58 327.94 113.82 327.75 C114.06 327.56 114.13 327.28 114.09 326.93 C114.04 326.57 113.77 326.09 113.55 325.63 C113.33 325.18 112.94 324.63 112.75 324.19 C112.55 323.75 112.35 323.30 112.37 322.99 C112.39 322.67 112.79 322.41 112.87 322.29" fill="none" stroke="#2c9de0" stroke-width="1.9" stroke-linecap="round"/>
<path d="M68.06 345.05 C68.06 344.81 68.02 344.17 68.05 343.66 C68.09 343.16 68.24 342.50 68.26 342.02 C68.27 341.53 68.30 341.03 68.17 340.74 C68.04 340.44 67.80 340.29 67.47 340.25 C67.13 340.22 66.64 340.38 66.16 340.53 C65.69 340.68 65.09 340.98 64.61 341.13 C64.14 341.27 63.64 341.44 63.31 341.41 C62.97 341.37 62.74 341.22 62.60 340.92 C62.47 340.63 62.50 340.13 62.52 339.65 C62.54 339.16 62.69 338.51 62.72 338.00 C62.75 337.50 62.81 336.95 62.72 336.62 C62.62 336.28 62.44 336.05 62.14 335.97 C61.84 335.89 61.38 336.01 60.92 336.14 C60.47 336.26 59.87 336.56 59.38 336.72 C58.90 336.88 58.37 337.09 58.00 337.10 C57.63 337.11 57.34 337.02 57.17 336.77 C57.01 336.53 56.99 336.08 56.99 335.62 C56.99 335.16 57.14 334.27 57.17 334.00" fill="none" stroke="#2c9de0" stroke-width="1.9" stroke-linecap="round"/>
<path d="M114.73 343.24 C114.95 343.31 115.72 343.63 116.07 343.65 C116.42 343.68 116.69 343.61 116.84 343.38 C116.98 343.16 116.96 342.75 116.93 342.31 C116.89 341.87 116.71 341.26 116.62 340.76 C116.54 340.26 116.39 339.70 116.42 339.33 C116.44 338.96 116.53 338.67 116.75 338.55 C116.98 338.42 117.36 338.48 117.77 338.58 C118.18 338.68 118.75 338.96 119.23 339.13 C119.70 339.30 120.25 339.56 120.63 339.62 C121.01 339.68 121.34 339.67 121.52 339.49 C121.70 339.32 121.73 338.96 121.72 338.55 C121.71 338.15 121.54 337.55 121.45 337.05 C121.37 336.55 121.20 335.96 121.19 335.55 C121.18 335.15 121.22 334.80 121.41 334.63 C121.59 334.46 121.93 334.46 122.31 334.52 C122.70 334.58 123.24 334.84 123.72 335.01 C124.20 335.19 124.76 335.47 125.17 335.56 C125.58 335.65 126.01 335.57 126.18 335.58" fill="none" stroke="#2c9de0" stroke-width="1.9" stroke-linecap="round"/>
<path d="M65.31 349.93 C65.17 349.96 64.78 349.92 64.45 350.11 C64.11 350.29 63.69 350.71 63.30 351.04 C62.92 351.37 62.49 351.83 62.13 352.06 C61.78 352.30 61.44 352.49 61.19 352.46 C60.93 352.42 60.75 352.19 60.61 351.85 C60.46 351.52 60.40 350.95 60.32 350.45 C60.23 349.96 60.20 349.32 60.09 348.89 C59.97 348.47 59.85 348.07 59.64 347.90 C59.44 347.74 59.16 347.76 58.85 347.90 C58.53 348.04 58.12 348.42 57.74 348.74 C57.36 349.05 56.92 349.53 56.55 349.80 C56.19 350.07 55.83 350.33 55.55 350.35 C55.28 350.37 55.07 350.22 54.90 349.93 C54.74 349.65 54.67 349.12 54.57 348.64 C54.48 348.16 54.45 347.50 54.35 347.05 C54.25 346.59 54.15 346.13 53.97 345.91 C53.78 345.69 53.53 345.63 53.23 345.72 C52.94 345.81 52.35 346.32 52.17 346.44" fill="none" stroke="#2c9de0" stroke-width="1.9" stroke-linecap="round"/>
<path d="M119.40 351.32 C119.45 351.05 119.57 350.15 119.69 349.67 C119.82 349.19 119.94 348.70 120.16 348.45 C120.37 348.19 120.65 348.09 120.99 348.14 C121.34 348.20 121.77 348.49 122.20 348.75 C122.63 349.02 123.13 349.47 123.56 349.74 C123.99 350.01 124.43 350.30 124.77 350.36 C125.11 350.42 125.40 350.34 125.62 350.09 C125.84 349.84 125.96 349.36 126.09 348.88 C126.22 348.41 126.27 347.74 126.38 347.24 C126.50 346.74 126.60 346.19 126.80 345.88 C126.99 345.58 127.24 345.40 127.56 345.40 C127.88 345.39 128.29 345.63 128.71 345.87 C129.13 346.11 129.63 346.55 130.06 346.84 C130.50 347.12 130.96 347.47 131.32 347.58 C131.68 347.69 132.00 347.68 132.24 347.49 C132.49 347.30 132.64 346.88 132.77 346.43 C132.91 345.98 132.97 345.32 133.08 344.81 C133.19 344.30 133.39 343.59 133.45 343.35" fill="none" stroke="#2c9de0" stroke-width="1.9" stroke-linecap="round"/>
<path d="M62.90 363.27 C62.77 363.32 62.37 363.65 62.11 363.57 C61.84 363.50 61.58 363.18 61.31 362.82 C61.05 362.46 60.78 361.88 60.52 361.44 C60.26 361.00 59.99 360.48 59.73 360.21 C59.46 359.93 59.20 359.76 58.93 359.81 C58.67 359.86 58.41 360.14 58.14 360.48 C57.88 360.81 57.61 361.39 57.35 361.83 C57.08 362.27 56.82 362.81 56.55 363.11 C56.29 363.40 56.03 363.61 55.76 363.60 C55.50 363.58 55.23 363.34 54.97 363.02 C54.70 362.71 54.44 362.14 54.17 361.70 C53.91 361.26 53.65 360.70 53.38 360.38 C53.12 360.07 52.85 359.82 52.59 359.80 C52.32 359.79 52.06 359.99 51.79 360.29 C51.53 360.58 51.27 361.12 51.00 361.56 C50.74 362.00 50.47 362.58 50.21 362.92 C49.94 363.26 49.68 363.54 49.42 363.59 C49.15 363.64 48.75 363.26 48.62 363.20" fill="none" stroke="#2c9de0" stroke-width="1.9" stroke-linecap="round"/>
<path d="M121.18 358.73 C121.33 358.93 121.75 359.52 122.04 359.94 C122.32 360.37 122.62 360.94 122.90 361.27 C123.18 361.60 123.46 361.88 123.72 361.93 C123.99 361.97 124.24 361.81 124.49 361.53 C124.74 361.26 124.98 360.73 125.22 360.28 C125.46 359.84 125.69 359.23 125.93 358.85 C126.18 358.48 126.42 358.13 126.68 358.02 C126.94 357.92 127.20 358.02 127.48 358.24 C127.75 358.46 128.04 358.94 128.33 359.35 C128.61 359.77 128.91 360.35 129.19 360.72 C129.47 361.08 129.75 361.44 130.02 361.54 C130.29 361.65 130.55 361.57 130.80 361.35 C131.05 361.12 131.29 360.64 131.53 360.21 C131.77 359.78 132.01 359.16 132.25 358.75 C132.49 358.34 132.73 357.93 132.99 357.77 C133.24 357.60 133.50 357.62 133.78 357.78 C134.05 357.95 134.33 358.38 134.62 358.77 C134.90 359.16 135.34 359.92 135.48 360.15" fill="none" stroke="#2c9de0" stroke-width="1.9" stroke-linecap="round"/>
<path d="M64.08 369.96 C63.89 369.86 63.25 369.38 62.91 369.32 C62.57 369.26 62.28 369.37 62.05 369.62 C61.81 369.88 61.65 370.38 61.48 370.86 C61.32 371.34 61.22 372.01 61.05 372.50 C60.89 372.98 60.74 373.50 60.51 373.77 C60.27 374.05 59.99 374.17 59.66 374.13 C59.32 374.09 58.91 373.81 58.50 373.53 C58.09 373.25 57.61 372.77 57.19 372.46 C56.77 372.16 56.33 371.80 55.98 371.69 C55.62 371.58 55.31 371.61 55.05 371.81 C54.79 372.01 54.62 372.45 54.44 372.90 C54.27 373.35 54.16 374.02 54.01 374.52 C53.85 375.02 53.71 375.59 53.50 375.92 C53.28 376.24 53.03 376.44 52.71 376.46 C52.39 376.48 52.00 376.26 51.60 376.01 C51.20 375.76 50.73 375.29 50.30 374.97 C49.88 374.66 49.42 374.25 49.05 374.09 C48.68 373.94 48.23 374.04 48.07 374.02" fill="none" stroke="#2c9de0" stroke-width="1.9" stroke-linecap="round"/>
<path d="M119.82 371.07 C119.99 370.99 120.45 370.84 120.81 370.57 C121.17 370.30 121.59 369.80 121.97 369.45 C122.35 369.10 122.75 368.66 123.09 368.47 C123.43 368.27 123.74 368.18 124.00 368.29 C124.25 368.40 124.45 368.74 124.63 369.13 C124.81 369.53 124.92 370.15 125.08 370.65 C125.23 371.15 125.35 371.75 125.54 372.11 C125.73 372.47 125.95 372.75 126.21 372.81 C126.48 372.87 126.81 372.71 127.16 372.48 C127.51 372.25 127.92 371.78 128.30 371.42 C128.68 371.07 129.09 370.59 129.44 370.36 C129.79 370.12 130.13 369.95 130.40 370.00 C130.67 370.05 130.88 370.31 131.08 370.67 C131.27 371.02 131.39 371.61 131.55 372.11 C131.70 372.60 131.82 373.24 132.00 373.64 C132.17 374.04 132.37 374.39 132.62 374.51 C132.87 374.63 133.18 374.55 133.52 374.36 C133.85 374.18 134.45 373.55 134.63 373.39" fill="none" stroke="#2c9de0" stroke-width="1.9" stroke-linecap="round"/>
<path d="M67.78 377.86 C67.78 378.13 67.86 379.04 67.81 379.49 C67.75 379.95 67.68 380.36 67.47 380.58 C67.26 380.80 66.93 380.85 66.54 380.80 C66.15 380.75 65.62 380.49 65.13 380.30 C64.64 380.10 64.06 379.78 63.61 379.64 C63.16 379.50 62.73 379.38 62.43 379.47 C62.13 379.56 61.94 379.81 61.83 380.17 C61.71 380.53 61.74 381.10 61.73 381.62 C61.73 382.14 61.82 382.81 61.78 383.29 C61.75 383.77 61.72 384.25 61.54 384.51 C61.36 384.78 61.08 384.90 60.72 384.89 C60.36 384.89 59.85 384.67 59.38 384.49 C58.90 384.31 58.31 383.97 57.84 383.81 C57.38 383.65 56.90 383.47 56.57 383.51 C56.24 383.55 56.01 383.73 55.86 384.05 C55.71 384.36 55.71 384.89 55.69 385.39 C55.68 385.89 55.77 386.56 55.75 387.07 C55.73 387.57 55.62 388.19 55.59 388.42" fill="none" stroke="#2c9de0" stroke-width="1.9" stroke-linecap="round"/>
<path d="M117.55 376.12 C117.67 376.20 118.10 376.29 118.24 376.58 C118.38 376.87 118.38 377.38 118.40 377.87 C118.41 378.35 118.31 379.01 118.32 379.51 C118.32 380.01 118.31 380.54 118.44 380.85 C118.57 381.16 118.78 381.34 119.08 381.37 C119.39 381.41 119.84 381.23 120.28 381.05 C120.73 380.88 121.29 380.52 121.75 380.32 C122.21 380.11 122.70 379.87 123.05 379.83 C123.40 379.80 123.68 379.88 123.85 380.12 C124.02 380.37 124.06 380.82 124.09 381.28 C124.12 381.75 124.02 382.40 124.02 382.91 C124.02 383.42 123.98 383.99 124.08 384.35 C124.17 384.71 124.34 384.96 124.61 385.04 C124.89 385.13 125.30 385.01 125.72 384.86 C126.15 384.71 126.70 384.36 127.17 384.15 C127.64 383.93 128.16 383.65 128.54 383.57 C128.92 383.50 129.24 383.51 129.44 383.70 C129.65 383.89 129.72 384.55 129.77 384.72" fill="none" stroke="#2c9de0" stroke-width="1.9" stroke-linecap="round"/>
<path d="M75.03 385.42 C74.76 385.39 73.94 385.29 73.42 385.25 C72.90 385.20 72.30 385.10 71.91 385.15 C71.51 385.21 71.20 385.32 71.05 385.57 C70.90 385.82 70.94 386.21 71.03 386.64 C71.11 387.07 71.39 387.65 71.56 388.14 C71.73 388.64 71.99 389.20 72.05 389.61 C72.11 390.02 72.11 390.38 71.93 390.60 C71.75 390.83 71.39 390.91 70.97 390.94 C70.55 390.97 69.93 390.86 69.41 390.81 C68.89 390.76 68.26 390.64 67.83 390.66 C67.40 390.69 67.02 390.76 66.83 390.97 C66.63 391.18 66.61 391.52 66.66 391.92 C66.71 392.33 66.96 392.88 67.13 393.38 C67.30 393.87 67.58 394.46 67.68 394.89 C67.77 395.33 67.83 395.74 67.70 395.99 C67.57 396.25 67.27 396.38 66.88 396.45 C66.50 396.51 65.92 396.41 65.40 396.37 C64.88 396.33 64.05 396.22 63.78 396.19" fill="none" stroke="#2c9de0" stroke-width="1.9" stroke-linecap="round"/>
<path d="M109.17 385.42 C109.15 385.59 108.97 386.23 109.07 386.48 C109.18 386.72 109.45 386.84 109.81 386.89 C110.17 386.93 110.73 386.82 111.23 386.76 C111.73 386.70 112.36 386.53 112.81 386.51 C113.26 386.49 113.69 386.48 113.92 386.62 C114.16 386.77 114.24 387.03 114.22 387.37 C114.20 387.72 113.97 388.22 113.80 388.69 C113.62 389.15 113.31 389.73 113.16 390.17 C113.02 390.61 112.88 391.05 112.94 391.33 C113.00 391.61 113.20 391.78 113.52 391.86 C113.84 391.94 114.36 391.86 114.85 391.80 C115.33 391.75 115.97 391.58 116.44 391.54 C116.92 391.50 117.40 391.45 117.68 391.56 C117.96 391.66 118.11 391.88 118.13 392.19 C118.16 392.50 117.97 392.97 117.81 393.42 C117.65 393.87 117.33 394.45 117.17 394.91 C117.01 395.36 116.82 395.84 116.83 396.16 C116.84 396.47 117.18 396.70 117.25 396.81" fill="none" stroke="#2c9de0" stroke-width="1.9" stroke-linecap="round"/>
<path d="M80.45 388.54 C80.56 388.73 80.81 389.27 81.09 389.68 C81.37 390.08 81.84 390.56 82.13 390.97 C82.42 391.38 82.75 391.80 82.84 392.13 C82.92 392.47 82.87 392.75 82.64 392.97 C82.42 393.20 81.96 393.33 81.49 393.47 C81.03 393.60 80.37 393.66 79.87 393.79 C79.38 393.91 78.83 394.01 78.52 394.21 C78.22 394.40 78.04 394.64 78.04 394.94 C78.04 395.25 78.27 395.63 78.53 396.03 C78.78 396.43 79.24 396.90 79.55 397.31 C79.86 397.73 80.23 398.17 80.37 398.52 C80.50 398.88 80.53 399.19 80.36 399.43 C80.19 399.67 79.79 399.83 79.36 399.98 C78.93 400.12 78.28 400.19 77.77 400.31 C77.27 400.43 76.67 400.52 76.32 400.69 C75.97 400.87 75.71 401.08 75.65 401.36 C75.60 401.64 75.77 402.01 75.98 402.39 C76.20 402.77 76.80 403.45 76.96 403.66" fill="none" stroke="#2c9de0" stroke-width="1.9" stroke-linecap="round"/>
<path d="M102.28 389.07 C102.53 389.14 103.40 389.30 103.77 389.48 C104.13 389.66 104.41 389.88 104.48 390.17 C104.55 390.46 104.40 390.84 104.19 391.23 C103.99 391.62 103.55 392.10 103.24 392.53 C102.93 392.96 102.51 393.43 102.33 393.81 C102.14 394.20 102.03 394.55 102.14 394.83 C102.24 395.11 102.56 395.31 102.95 395.49 C103.34 395.66 103.96 395.75 104.48 395.88 C105.00 396.01 105.63 396.10 106.04 396.27 C106.45 396.44 106.80 396.63 106.93 396.90 C107.06 397.17 106.98 397.51 106.82 397.89 C106.65 398.27 106.25 398.73 105.94 399.16 C105.63 399.59 105.18 400.07 104.96 400.47 C104.74 400.87 104.56 401.25 104.60 401.55 C104.65 401.85 104.89 402.08 105.24 402.27 C105.58 402.47 106.17 402.57 106.68 402.70 C107.19 402.83 107.85 402.91 108.29 403.07 C108.74 403.22 109.17 403.54 109.34 403.64" fill="none" stroke="#2c9de0" stroke-width="1.9" stroke-linecap="round"/>
<path d="M92.95 390.95 C92.90 391.09 92.87 391.50 92.61 391.77 C92.35 392.04 91.83 392.30 91.39 392.57 C90.95 392.83 90.35 393.09 89.97 393.36 C89.59 393.62 89.23 393.89 89.12 394.16 C89.01 394.44 89.09 394.72 89.30 395.01 C89.52 395.30 89.99 395.59 90.41 395.88 C90.82 396.18 91.41 396.48 91.79 396.77 C92.16 397.06 92.54 397.36 92.66 397.64 C92.78 397.92 92.72 398.20 92.51 398.47 C92.31 398.74 91.84 399.01 91.42 399.27 C90.99 399.54 90.37 399.79 89.97 400.06 C89.56 400.32 89.13 400.59 88.96 400.86 C88.79 401.13 88.79 401.41 88.95 401.70 C89.11 401.98 89.53 402.28 89.92 402.57 C90.32 402.86 90.91 403.16 91.31 403.46 C91.72 403.75 92.15 404.04 92.33 404.33 C92.51 404.61 92.53 404.89 92.38 405.17 C92.23 405.44 91.58 405.84 91.43 405.97" fill="none" stroke="#2c9de0" stroke-width="1.9" stroke-linecap="round"/>
<path d="M93.92 390.85 C93.68 391.01 92.93 391.47 92.52 391.78 C92.12 392.08 91.67 392.39 91.49 392.69 C91.30 392.99 91.26 393.28 91.40 393.56 C91.54 393.85 91.93 394.13 92.33 394.41 C92.72 394.68 93.34 394.95 93.77 395.23 C94.20 395.51 94.70 395.78 94.93 396.06 C95.17 396.35 95.27 396.63 95.18 396.93 C95.09 397.22 94.75 397.53 94.39 397.83 C94.03 398.13 93.45 398.45 93.02 398.75 C92.60 399.06 92.11 399.37 91.86 399.67 C91.62 399.97 91.50 400.26 91.58 400.55 C91.66 400.84 91.99 401.12 92.35 401.40 C92.71 401.68 93.31 401.95 93.75 402.22 C94.20 402.50 94.74 402.77 95.03 403.05 C95.31 403.33 95.50 403.62 95.47 403.91 C95.44 404.20 95.17 404.50 94.85 404.81 C94.52 405.11 93.96 405.42 93.53 405.73 C93.10 406.03 92.48 406.49 92.27 406.65" fill="none" stroke="#2c9de0" stroke-width="1.9" stroke-linecap="round"/>
<path d="M98.76 390.17 C98.72 390.33 98.46 390.85 98.56 391.12 C98.67 391.39 99.00 391.59 99.39 391.78 C99.79 391.96 100.41 392.08 100.92 392.24 C101.42 392.39 102.03 392.52 102.41 392.71 C102.78 392.90 103.08 393.11 103.16 393.39 C103.24 393.66 103.11 394.00 102.89 394.36 C102.68 394.72 102.23 395.15 101.89 395.55 C101.54 395.94 101.07 396.38 100.83 396.75 C100.60 397.11 100.42 397.46 100.47 397.75 C100.51 398.03 100.77 398.26 101.12 398.46 C101.47 398.66 102.06 398.78 102.56 398.94 C103.06 399.10 103.70 399.21 104.12 399.39 C104.53 399.57 104.90 399.76 105.04 400.02 C105.18 400.28 105.13 400.60 104.96 400.94 C104.79 401.29 104.38 401.71 104.04 402.10 C103.70 402.50 103.21 402.94 102.94 403.32 C102.66 403.69 102.41 404.06 102.40 404.37 C102.39 404.67 102.79 405.00 102.87 405.13" fill="none" stroke="#2c9de0" stroke-width="1.9" stroke-linecap="round"/>
<path d="M82.54 389.34 C82.69 389.51 83.12 390.03 83.47 390.39 C83.81 390.76 84.32 391.16 84.60 391.51 C84.89 391.86 85.16 392.20 85.20 392.47 C85.23 392.74 85.07 392.96 84.79 393.15 C84.51 393.33 83.98 393.44 83.50 393.57 C83.02 393.69 82.37 393.77 81.93 393.91 C81.49 394.05 81.04 394.18 80.84 394.39 C80.65 394.60 80.62 394.85 80.73 395.15 C80.85 395.45 81.22 395.81 81.54 396.17 C81.87 396.53 82.39 396.94 82.70 397.30 C83.02 397.65 83.35 398.01 83.44 398.30 C83.53 398.59 83.46 398.83 83.23 399.03 C83.00 399.23 82.52 399.35 82.06 399.49 C81.61 399.62 80.95 399.70 80.49 399.83 C80.02 399.95 79.52 400.07 79.26 400.27 C79.01 400.46 78.90 400.69 78.96 400.97 C79.02 401.25 79.33 401.60 79.63 401.95 C79.94 402.31 80.59 402.89 80.79 403.08" fill="none" stroke="#2c9de0" stroke-width="1.9" stroke-linecap="round"/>
<path d="M108.93 385.57 C109.16 385.59 109.99 385.56 110.32 385.69 C110.65 385.82 110.86 386.03 110.92 386.34 C110.98 386.66 110.83 387.11 110.67 387.57 C110.52 388.02 110.18 388.60 109.99 389.08 C109.80 389.56 109.56 390.08 109.53 390.45 C109.51 390.82 109.59 391.12 109.83 391.30 C110.08 391.49 110.53 391.54 110.99 391.58 C111.46 391.61 112.12 391.52 112.64 391.52 C113.16 391.52 113.75 391.48 114.12 391.58 C114.50 391.68 114.78 391.84 114.89 392.12 C114.99 392.40 114.90 392.82 114.77 393.26 C114.65 393.69 114.33 394.26 114.13 394.75 C113.93 395.24 113.65 395.78 113.58 396.17 C113.51 396.57 113.53 396.92 113.72 397.14 C113.91 397.36 114.30 397.45 114.74 397.51 C115.18 397.57 115.81 397.49 116.34 397.48 C116.87 397.48 117.49 397.41 117.91 397.49 C118.32 397.56 118.67 397.85 118.82 397.92" fill="none" stroke="#2c9de0" stroke-width="1.9" stroke-linecap="round"/>
<path d="M77.34 386.97 C77.18 387.03 76.79 387.28 76.37 387.33 C75.94 387.39 75.31 387.31 74.79 387.29 C74.27 387.28 73.65 387.20 73.23 387.27 C72.82 387.33 72.46 387.43 72.30 387.66 C72.14 387.89 72.16 388.25 72.25 388.65 C72.34 389.05 72.64 389.60 72.85 390.08 C73.05 390.56 73.37 391.11 73.49 391.53 C73.60 391.95 73.67 392.34 73.55 392.59 C73.42 392.85 73.11 392.98 72.72 393.06 C72.33 393.14 71.74 393.08 71.21 393.07 C70.69 393.06 70.05 392.97 69.60 393.00 C69.15 393.04 68.74 393.10 68.52 393.30 C68.31 393.50 68.26 393.81 68.32 394.18 C68.37 394.56 68.63 395.08 68.83 395.56 C69.03 396.03 69.37 396.60 69.52 397.04 C69.66 397.48 69.79 397.91 69.72 398.20 C69.64 398.49 69.40 398.67 69.05 398.78 C68.71 398.88 67.87 398.83 67.63 398.84" fill="none" stroke="#2c9de0" stroke-width="1.9" stroke-linecap="round"/>
<path d="M92.88 331.50 C92.71 331.34 92.18 330.88 91.85 330.57 C91.51 330.26 91.15 329.94 90.89 329.63 C90.63 329.32 90.40 329.01 90.30 328.70 C90.19 328.39 90.17 328.08 90.25 327.77 C90.33 327.46 90.53 327.14 90.77 326.83 C91.01 326.52 91.37 326.21 91.69 325.90 C92.02 325.59 92.42 325.28 92.74 324.97 C93.06 324.66 93.38 324.34 93.59 324.03 C93.80 323.72 93.95 323.41 93.99 323.10 C94.03 322.79 93.96 322.48 93.81 322.17 C93.67 321.86 93.40 321.54 93.12 321.23 C92.83 320.92 92.45 320.61 92.11 320.30 C91.78 319.99 91.39 319.68 91.10 319.37 C90.82 319.06 90.55 318.74 90.40 318.43 C90.25 318.12 90.18 317.81 90.21 317.50 C90.24 317.19 90.39 316.88 90.60 316.57 C90.80 316.26 91.12 315.94 91.44 315.63 C91.75 315.32 92.31 314.86 92.48 314.70" fill="none" stroke="#2c9de0" stroke-width="1.9" stroke-linecap="round"/>
<path d="M66.56 345.53 C66.37 345.60 65.78 345.79 65.38 345.94 C64.97 346.09 64.54 346.30 64.14 346.43 C63.75 346.56 63.36 346.69 63.03 346.72 C62.69 346.75 62.39 346.72 62.15 346.60 C61.90 346.48 61.71 346.26 61.56 345.98 C61.40 345.70 61.31 345.31 61.22 344.92 C61.13 344.53 61.09 344.05 61.02 343.62 C60.95 343.20 60.90 342.73 60.80 342.36 C60.70 341.98 60.59 341.63 60.41 341.38 C60.24 341.13 60.03 340.96 59.76 340.87 C59.50 340.78 59.17 340.79 58.83 340.84 C58.48 340.90 58.07 341.06 57.67 341.20 C57.27 341.34 56.84 341.55 56.44 341.69 C56.04 341.84 55.63 342.00 55.28 342.06 C54.93 342.12 54.60 342.13 54.33 342.05 C54.06 341.97 53.84 341.80 53.67 341.55 C53.49 341.31 53.38 340.96 53.27 340.59 C53.17 340.22 53.09 339.54 53.05 339.33" fill="none" stroke="#2c9de0" stroke-width="1.9" stroke-linecap="round"/>
<path d="M118.39 346.83 C118.43 346.61 118.53 345.91 118.63 345.49 C118.73 345.08 118.83 344.67 118.99 344.36 C119.15 344.05 119.34 343.80 119.59 343.64 C119.83 343.48 120.13 343.42 120.47 343.42 C120.81 343.42 121.21 343.52 121.61 343.63 C122.01 343.74 122.46 343.93 122.88 344.08 C123.30 344.22 123.74 344.40 124.13 344.49 C124.52 344.58 124.90 344.65 125.22 344.61 C125.53 344.58 125.81 344.47 126.03 344.27 C126.26 344.07 126.42 343.78 126.56 343.44 C126.70 343.10 126.79 342.65 126.88 342.23 C126.97 341.80 127.02 341.31 127.12 340.88 C127.21 340.46 127.29 340.02 127.43 339.67 C127.57 339.33 127.74 339.03 127.96 338.84 C128.19 338.64 128.46 338.53 128.78 338.49 C129.09 338.45 129.47 338.52 129.86 338.61 C130.25 338.70 130.69 338.88 131.11 339.02 C131.53 339.16 132.17 339.39 132.38 339.47" fill="none" stroke="#2c9de0" stroke-width="1.9" stroke-linecap="round"/>
<path d="M63.93 372.75 C63.81 372.87 63.44 373.16 63.24 373.47 C63.04 373.79 62.89 374.21 62.74 374.62 C62.59 375.04 62.48 375.53 62.34 375.96 C62.20 376.39 62.07 376.85 61.89 377.21 C61.71 377.56 61.52 377.88 61.27 378.10 C61.03 378.31 60.75 378.44 60.42 378.48 C60.10 378.53 59.73 378.46 59.34 378.36 C58.95 378.27 58.52 378.07 58.09 377.90 C57.67 377.73 57.22 377.50 56.81 377.35 C56.40 377.20 55.98 377.05 55.62 377.00 C55.25 376.96 54.91 376.97 54.62 377.08 C54.33 377.20 54.09 377.41 53.87 377.68 C53.66 377.96 53.50 378.35 53.34 378.74 C53.18 379.14 53.06 379.63 52.92 380.06 C52.78 380.50 52.66 380.97 52.50 381.36 C52.33 381.74 52.16 382.10 51.93 382.35 C51.71 382.61 51.45 382.79 51.14 382.87 C50.84 382.96 50.29 382.87 50.11 382.87" fill="none" stroke="#2c9de0" stroke-width="1.9" stroke-linecap="round"/>
<path d="M119.95 373.43 C120.13 373.40 120.70 373.22 121.01 373.23 C121.33 373.24 121.61 373.33 121.85 373.51 C122.09 373.69 122.28 373.98 122.45 374.31 C122.62 374.64 122.74 375.08 122.86 375.49 C122.99 375.91 123.09 376.40 123.22 376.81 C123.35 377.23 123.47 377.66 123.64 377.98 C123.81 378.31 124.00 378.59 124.25 378.76 C124.49 378.93 124.77 379.01 125.09 379.02 C125.41 379.02 125.79 378.92 126.17 378.80 C126.55 378.67 126.97 378.45 127.38 378.27 C127.79 378.09 128.22 377.86 128.61 377.72 C129.00 377.57 129.38 377.44 129.72 377.41 C130.05 377.39 130.36 377.43 130.61 377.57 C130.87 377.70 131.08 377.94 131.27 378.24 C131.45 378.54 131.59 378.94 131.72 379.35 C131.86 379.75 131.95 380.24 132.08 380.66 C132.20 381.09 132.31 381.54 132.47 381.89 C132.63 382.25 132.93 382.64 133.02 382.79" fill="none" stroke="#2c9de0" stroke-width="1.9" stroke-linecap="round"/>
<path d="M92.88 391.90 C93.02 392.04 93.50 392.45 93.68 392.72 C93.87 393.00 93.99 393.27 94.00 393.54 C94.01 393.82 93.91 394.09 93.74 394.37 C93.57 394.64 93.28 394.91 92.98 395.19 C92.68 395.46 92.29 395.74 91.96 396.01 C91.62 396.29 91.24 396.56 90.97 396.83 C90.70 397.11 90.46 397.38 90.33 397.66 C90.21 397.93 90.17 398.20 90.23 398.48 C90.29 398.75 90.47 399.03 90.70 399.30 C90.92 399.57 91.26 399.85 91.59 400.12 C91.91 400.40 92.31 400.67 92.63 400.94 C92.96 401.22 93.30 401.49 93.52 401.77 C93.74 402.04 93.92 402.31 93.97 402.59 C94.03 402.86 93.98 403.14 93.86 403.41 C93.73 403.69 93.48 403.96 93.21 404.23 C92.94 404.51 92.56 404.78 92.22 405.06 C91.89 405.33 91.49 405.60 91.20 405.88 C90.90 406.15 90.57 406.56 90.45 406.70" fill="none" stroke="#2c9de0" stroke-width="1.9" stroke-linecap="round"/>
<circle cx="92.1" cy="361.7" r="32.2" fill="url(#shell)"/>
<path d="M91.60 330.51 C80.02 332.52 64.43 353.65 64.93 376.29 Q92.10 384.84 119.27 375.79 C119.77 353.65 104.17 332.52 91.60 330.51 Z" fill="#3cbf8c"/>
<path d="M91.60 330.51 C104.17 332.52 119.77 353.65 119.27 375.79 L114.74 373.77 C114.24 356.67 98.64 336.54 92.10 334.53 Z" fill="#58d6a6"/>
<path d="M64.93 376.29 Q92.10 384.84 119.27 375.79 L114.74 373.77 Q92.10 379.01 68.45 374.58 Z" fill="#3de08a"/>
<path d="M92.10 334.53 C85.56 336.54 69.46 356.67 68.45 374.58 Q92.10 379.01 114.74 373.77 C114.24 356.67 98.64 336.54 92.10 334.53 Z" fill="url(#core)"/>
<path d="M71.97 369.25 Q92.10 373.27 111.72 368.74" fill="none" stroke="#d6de3a" stroke-width="2.42" opacity="0.6"/>
<path d="M89.28 326.16 L88.37 327.88 L86.42 327.81 L87.46 329.46 L86.42 331.11 L88.37 331.03 L89.28 332.76 L90.19 331.03 L92.14 331.11 L91.09 329.46 L92.14 327.81 L90.19 327.88 Z" fill="#dfe8fb" stroke="#a7b8e8" stroke-width="0.4" stroke-linejoin="round"/>
<path d="M107.65 329.16 L106.74 330.89 L104.79 330.81 L105.83 332.46 L104.79 334.11 L106.74 334.03 L107.65 335.76 L108.56 334.03 L110.51 334.11 L109.46 332.46 L110.51 330.81 L108.56 330.89 Z" fill="#dfe8fb" stroke="#a7b8e8" stroke-width="0.4" stroke-linejoin="round"/>
<path d="M69.17 331.08 L68.26 332.80 L66.31 332.73 L67.36 334.38 L66.31 336.03 L68.26 335.95 L69.17 337.68 L70.08 335.95 L72.03 336.03 L70.99 334.38 L72.03 332.73 L70.08 332.80 Z" fill="#dfe8fb" stroke="#a7b8e8" stroke-width="0.4" stroke-linejoin="round"/>
<path d="M120.76 343.16 L119.85 344.89 L117.90 344.81 L118.95 346.46 L117.90 348.11 L119.85 348.03 L120.76 349.76 L121.67 348.03 L123.62 348.11 L122.58 346.46 L123.62 344.81 L121.67 344.89 Z" fill="#dfe8fb" stroke="#a7b8e8" stroke-width="0.4" stroke-linejoin="round"/>
<path d="M61.32 347.20 L60.41 348.93 L58.46 348.85 L59.51 350.50 L58.46 352.15 L60.41 352.07 L61.32 353.80 L62.23 352.07 L64.18 352.15 L63.14 350.50 L64.18 348.85 L62.23 348.93 Z" fill="#dfe8fb" stroke="#a7b8e8" stroke-width="0.4" stroke-linejoin="round"/>
<path d="M60.80 369.79 L59.89 371.52 L57.94 371.44 L58.98 373.09 L57.94 374.74 L59.89 374.67 L60.80 376.39 L61.70 374.67 L63.66 374.74 L62.61 373.09 L63.66 371.44 L61.70 371.52 Z" fill="#dfe8fb" stroke="#a7b8e8" stroke-width="0.4" stroke-linejoin="round"/>
<path d="M74.61 383.38 L73.70 385.11 L71.75 385.03 L72.80 386.68 L71.75 388.33 L73.70 388.25 L74.61 389.98 L75.52 388.25 L77.47 388.33 L76.43 386.68 L77.47 385.03 L75.52 385.11 Z" fill="#dfe8fb" stroke="#a7b8e8" stroke-width="0.4" stroke-linejoin="round"/>
<path d="M86.41 390.69 L85.50 392.41 L83.55 392.34 L84.59 393.99 L83.55 395.64 L85.50 395.56 L86.41 397.29 L87.31 395.56 L89.27 395.64 L88.22 393.99 L89.27 392.34 L87.31 392.41 Z" fill="#dfe8fb" stroke="#a7b8e8" stroke-width="0.4" stroke-linejoin="round"/>
<path d="M103.60 389.98 L102.69 391.71 L100.74 391.63 L101.78 393.28 L100.74 394.93 L102.69 394.85 L103.60 396.58 L104.50 394.85 L106.45 394.93 L105.41 393.28 L106.45 391.63 L104.50 391.71 Z" fill="#dfe8fb" stroke="#a7b8e8" stroke-width="0.4" stroke-linejoin="round"/>
<path d="M117.92 381.65 L117.02 383.38 L115.07 383.30 L116.11 384.95 L115.07 386.60 L117.02 386.52 L117.92 388.25 L118.83 386.52 L120.78 386.60 L119.74 384.95 L120.78 383.30 L118.83 383.38 Z" fill="#dfe8fb" stroke="#a7b8e8" stroke-width="0.4" stroke-linejoin="round"/>
<path d="M120.94 366.13 L120.03 367.86 L118.08 367.78 L119.13 369.43 L118.08 371.08 L120.03 371.00 L120.94 372.73 L121.85 371.00 L123.80 371.08 L122.76 369.43 L123.80 367.78 L121.85 367.86 Z" fill="#dfe8fb" stroke="#a7b8e8" stroke-width="0.4" stroke-linejoin="round"/>
<path d="M122.95 352.96 L122.04 354.69 L120.09 354.61 L121.13 356.26 L120.09 357.91 L122.04 357.83 L122.95 359.56 L123.86 357.83 L125.81 357.91 L124.76 356.26 L125.81 354.61 L123.86 354.69 Z" fill="#dfe8fb" stroke="#a7b8e8" stroke-width="0.4" stroke-linejoin="round"/>
<path d="M62.27 358.40 L61.36 360.13 L59.41 360.05 L60.45 361.70 L59.41 363.35 L61.36 363.27 L62.27 365.00 L63.17 363.27 L65.12 363.35 L64.08 361.70 L65.12 360.05 L63.17 360.13 Z" fill="#dfe8fb" stroke="#a7b8e8" stroke-width="0.4" stroke-linejoin="round"/>
<path d="M80.17 325.64 L79.27 327.36 L77.32 327.29 L78.36 328.94 L77.32 330.59 L79.27 330.51 L80.17 332.24 L81.08 330.51 L83.03 330.59 L81.99 328.94 L83.03 327.29 L81.08 327.36 Z" fill="#dfe8fb" stroke="#a7b8e8" stroke-width="0.4" stroke-linejoin="round"/>
<path d="M116.18 334.32 L115.27 336.05 L113.32 335.97 L114.36 337.62 L113.32 339.27 L115.27 339.19 L116.18 340.92 L117.09 339.19 L119.04 339.27 L117.99 337.62 L119.04 335.97 L117.09 336.05 Z" fill="#dfe8fb" stroke="#a7b8e8" stroke-width="0.4" stroke-linejoin="round"/>
<path d="M67.94 341.48 L67.03 343.21 L65.08 343.13 L66.13 344.78 L65.08 346.43 L67.03 346.36 L67.94 348.08 L68.85 346.36 L70.80 346.43 L69.76 344.78 L70.80 343.13 L68.85 343.21 Z" fill="#dfe8fb" stroke="#a7b8e8" stroke-width="0.4" stroke-linejoin="round"/>
<path d="M62.55 379.09 L61.64 380.82 L59.69 380.74 L60.73 382.39 L59.69 384.04 L61.64 383.96 L62.55 385.69 L63.46 383.96 L65.41 384.04 L64.36 382.39 L65.41 380.74 L63.46 380.82 Z" fill="#dfe8fb" stroke="#a7b8e8" stroke-width="0.4" stroke-linejoin="round"/>
<path d="M78.63 391.74 L77.72 393.46 L75.77 393.39 L76.82 395.04 L75.77 396.69 L77.72 396.61 L78.63 398.34 L79.54 396.61 L81.49 396.69 L80.45 395.04 L81.49 393.39 L79.54 393.46 Z" fill="#dfe8fb" stroke="#a7b8e8" stroke-width="0.4" stroke-linejoin="round"/>
<path d="M93.28 392.16 L92.37 393.89 L90.42 393.81 L91.46 395.46 L90.42 397.11 L92.37 397.03 L93.28 398.76 L94.19 397.03 L96.14 397.11 L95.09 395.46 L96.14 393.81 L94.19 393.89 Z" fill="#dfe8fb" stroke="#a7b8e8" stroke-width="0.4" stroke-linejoin="round"/>
<path d="M111.32 385.85 L110.41 387.58 L108.46 387.50 L109.50 389.15 L108.46 390.80 L110.41 390.72 L111.32 392.45 L112.23 390.72 L114.18 390.80 L113.13 389.15 L114.18 387.50 L112.23 387.58 Z" fill="#dfe8fb" stroke="#a7b8e8" stroke-width="0.4" stroke-linejoin="round"/>
<path d="M118.34 373.55 L117.44 375.28 L115.48 375.20 L116.53 376.85 L115.48 378.50 L117.44 378.42 L118.34 380.15 L119.25 378.42 L121.20 378.50 L120.16 376.85 L121.20 375.20 L119.25 375.28 Z" fill="#dfe8fb" stroke="#a7b8e8" stroke-width="0.4" stroke-linejoin="round"/>
<path d="M98.19 329.74 L97.29 331.46 L95.33 331.39 L96.38 333.04 L95.33 334.69 L97.29 334.61 L98.19 336.34 L99.10 334.61 L101.05 334.69 L100.01 333.04 L101.05 331.39 L99.10 331.46 Z" fill="#dfe8fb" stroke="#a7b8e8" stroke-width="0.4" stroke-linejoin="round"/>
<path d="M99.10 382.50 L98.22 384.18 L96.33 384.10 L97.34 385.70 L96.33 387.30 L98.22 387.22 L99.10 388.90 L99.98 387.22 L101.87 387.30 L100.86 385.70 L101.87 384.10 L99.98 384.18 Z" fill="#dfe8fb" stroke="#a7b8e8" stroke-width="0.4" stroke-linejoin="round"/>
<path d="M91.50 306.20 L94.90 314.20 Q91.50 315.40 88.10 314.20 Z" fill="#dcb896"/>
<path d="M91.50 306.20 L93.20 314.20 L91.50 314.20 Z" fill="#f2dcc4"/>
<path d="M92.10 415.20 L88.70 407.20 Q92.10 406.00 95.50 407.20 Z" fill="#dcb896"/>
<path d="M92.10 415.20 L90.40 407.20 L92.10 407.20 Z" fill="#f2dcc4"/>
<path d="M45.64 334.20 L54.26 335.26 Q53.60 338.80 50.86 341.14 Z" fill="#dcb896"/>
<path d="M45.64 334.20 L53.41 336.73 L52.56 338.20 Z" fill="#f2dcc4"/>
<path d="M138.56 332.70 L133.34 339.64 Q130.60 337.30 129.94 333.76 Z" fill="#dcb896"/>
<path d="M138.56 332.70 L132.49 338.17 L131.64 336.70 Z" fill="#f2dcc4"/>
<path d="M41.97 387.89 L47.79 381.43 Q50.31 384.00 50.66 387.59 Z" fill="#dcb896"/>
<path d="M41.97 387.89 L48.51 382.97 L49.23 384.51 Z" fill="#f2dcc4"/>
<path d="M140.73 388.89 L132.04 388.59 Q132.39 385.00 134.91 382.43 Z" fill="#dcb896"/>
<path d="M140.73 388.89 L132.76 387.05 L133.47 385.51 Z" fill="#f2dcc4"/>
<path d="M236.49 332.87 C236.67 332.68 237.32 332.08 237.56 331.73 C237.80 331.37 237.97 331.04 237.92 330.76 C237.86 330.48 237.59 330.25 237.24 330.05 C236.88 329.84 236.28 329.70 235.79 329.53 C235.30 329.36 234.67 329.22 234.27 329.03 C233.87 328.83 233.53 328.62 233.41 328.36 C233.30 328.09 233.39 327.78 233.59 327.44 C233.78 327.09 234.22 326.69 234.58 326.31 C234.93 325.93 235.44 325.51 235.71 325.15 C235.99 324.78 236.23 324.43 236.24 324.14 C236.24 323.84 236.05 323.60 235.74 323.38 C235.44 323.16 234.88 323.01 234.39 322.84 C233.91 322.66 233.26 322.53 232.83 322.35 C232.39 322.16 231.98 321.97 231.81 321.72 C231.63 321.47 231.65 321.17 231.79 320.84 C231.94 320.52 232.33 320.12 232.67 319.74 C233.02 319.37 233.53 318.94 233.84 318.57 C234.15 318.20 234.41 317.70 234.52 317.52" fill="none" stroke="#2c9de0" stroke-width="1.9" stroke-linecap="round"/>
<path d="M249.50 332.54 C249.50 332.39 249.63 331.97 249.47 331.65 C249.30 331.34 248.88 330.98 248.50 330.64 C248.13 330.29 247.57 329.92 247.22 329.57 C246.87 329.23 246.51 328.89 246.40 328.58 C246.30 328.27 246.37 327.98 246.59 327.72 C246.81 327.46 247.29 327.23 247.73 327.00 C248.18 326.77 248.82 326.56 249.26 326.33 C249.71 326.10 250.18 325.87 250.39 325.61 C250.60 325.34 250.66 325.06 250.55 324.75 C250.44 324.44 250.07 324.09 249.72 323.75 C249.37 323.41 248.81 323.03 248.43 322.69 C248.06 322.34 247.64 321.99 247.48 321.67 C247.32 321.35 247.30 321.06 247.47 320.79 C247.63 320.51 248.05 320.28 248.47 320.04 C248.89 319.81 249.52 319.60 249.99 319.38 C250.45 319.15 250.97 318.93 251.24 318.67 C251.51 318.41 251.65 318.14 251.60 317.84 C251.54 317.54 251.03 317.02 250.92 316.86" fill="none" stroke="#2c9de0" stroke-width="1.9" stroke-linecap="round"/>
<path d="M227.97 336.48 C227.70 336.49 226.83 336.54 226.31 336.53 C225.79 336.53 225.22 336.56 224.85 336.45 C224.49 336.34 224.23 336.17 224.13 335.87 C224.04 335.58 224.15 335.15 224.28 334.71 C224.42 334.26 224.74 333.69 224.94 333.20 C225.13 332.72 225.40 332.18 225.46 331.79 C225.51 331.40 225.48 331.06 225.27 330.85 C225.06 330.64 224.65 330.56 224.20 330.50 C223.76 330.45 223.11 330.53 222.58 330.53 C222.05 330.53 221.44 330.59 221.04 330.51 C220.63 330.43 220.30 330.30 220.16 330.04 C220.01 329.78 220.06 329.40 220.16 328.97 C220.26 328.55 220.57 327.99 220.77 327.50 C220.97 327.01 221.27 326.45 221.36 326.03 C221.46 325.61 221.49 325.24 221.33 324.99 C221.17 324.74 220.83 324.62 220.42 324.54 C220.00 324.47 219.38 324.53 218.85 324.53 C218.32 324.53 217.51 324.55 217.24 324.55" fill="none" stroke="#2c9de0" stroke-width="1.9" stroke-linecap="round"/>
<path d="M257.17 335.29 C257.16 335.11 256.98 334.48 257.11 334.20 C257.24 333.93 257.57 333.77 257.97 333.66 C258.38 333.54 259.00 333.55 259.53 333.51 C260.06 333.46 260.71 333.49 261.16 333.40 C261.61 333.31 262.01 333.19 262.20 332.95 C262.40 332.72 262.41 332.38 262.33 331.98 C262.25 331.58 261.94 331.06 261.72 330.58 C261.49 330.10 261.13 329.54 260.97 329.10 C260.81 328.66 260.68 328.24 260.76 327.93 C260.85 327.63 261.10 327.43 261.46 327.29 C261.82 327.15 262.41 327.14 262.93 327.09 C263.45 327.04 264.12 327.08 264.60 327.01 C265.08 326.93 265.54 326.85 265.79 326.65 C266.04 326.44 266.12 326.14 266.08 325.77 C266.05 325.40 265.79 324.90 265.57 324.43 C265.36 323.95 264.98 323.39 264.80 322.93 C264.61 322.48 264.42 322.02 264.45 321.68 C264.48 321.35 264.89 321.06 264.98 320.94" fill="none" stroke="#2c9de0" stroke-width="1.9" stroke-linecap="round"/>
<path d="M219.40 344.62 C219.40 344.39 219.35 343.73 219.38 343.23 C219.41 342.72 219.55 342.06 219.57 341.57 C219.58 341.08 219.60 340.58 219.47 340.28 C219.33 339.98 219.09 339.82 218.75 339.78 C218.41 339.74 217.91 339.91 217.43 340.05 C216.95 340.19 216.35 340.49 215.87 340.63 C215.39 340.78 214.89 340.94 214.55 340.90 C214.21 340.87 213.96 340.70 213.83 340.41 C213.69 340.11 213.71 339.61 213.72 339.12 C213.74 338.63 213.88 337.97 213.91 337.46 C213.94 336.95 214.00 336.41 213.89 336.06 C213.79 335.72 213.60 335.49 213.30 335.41 C213.00 335.32 212.54 335.44 212.07 335.56 C211.61 335.68 211.01 335.98 210.52 336.13 C210.02 336.29 209.49 336.50 209.12 336.50 C208.75 336.51 208.45 336.41 208.28 336.16 C208.10 335.91 208.08 335.46 208.08 335.00 C208.07 334.53 208.22 333.64 208.25 333.36" fill="none" stroke="#2c9de0" stroke-width="1.9" stroke-linecap="round"/>
<path d="M266.38 342.82 C266.63 342.87 267.44 343.14 267.83 343.13 C268.22 343.13 268.53 343.03 268.71 342.77 C268.89 342.52 268.91 342.07 268.91 341.61 C268.91 341.14 268.76 340.49 268.71 339.97 C268.66 339.44 268.56 338.84 268.62 338.44 C268.67 338.04 268.80 337.73 269.06 337.57 C269.32 337.41 269.74 337.44 270.19 337.51 C270.64 337.57 271.24 337.82 271.75 337.97 C272.27 338.11 272.85 338.33 273.27 338.36 C273.68 338.39 274.05 338.36 274.26 338.15 C274.48 337.94 274.55 337.55 274.58 337.12 C274.60 336.68 274.47 336.05 274.42 335.52 C274.37 334.99 274.24 334.37 274.27 333.93 C274.30 333.50 274.37 333.12 274.59 332.91 C274.82 332.71 275.18 332.68 275.60 332.71 C276.03 332.75 276.61 332.97 277.12 333.12 C277.64 333.26 278.24 333.51 278.68 333.57 C279.13 333.63 279.61 333.51 279.80 333.49" fill="none" stroke="#2c9de0" stroke-width="1.9" stroke-linecap="round"/>
<path d="M216.62 349.56 C216.48 349.59 216.09 349.55 215.75 349.74 C215.42 349.92 215.00 350.34 214.61 350.67 C214.23 351.00 213.79 351.46 213.44 351.69 C213.08 351.93 212.75 352.12 212.49 352.08 C212.24 352.05 212.05 351.82 211.91 351.48 C211.76 351.15 211.70 350.57 211.61 350.08 C211.53 349.58 211.49 348.94 211.38 348.52 C211.27 348.09 211.14 347.69 210.94 347.53 C210.73 347.36 210.45 347.38 210.13 347.52 C209.82 347.66 209.41 348.04 209.03 348.36 C208.64 348.68 208.20 349.15 207.84 349.42 C207.47 349.69 207.11 349.95 206.83 349.97 C206.56 349.99 206.35 349.84 206.18 349.55 C206.02 349.27 205.94 348.74 205.85 348.26 C205.76 347.77 205.73 347.12 205.63 346.66 C205.53 346.21 205.43 345.75 205.24 345.53 C205.05 345.31 204.80 345.25 204.50 345.34 C204.20 345.42 203.62 345.94 203.44 346.06" fill="none" stroke="#2c9de0" stroke-width="1.9" stroke-linecap="round"/>
<path d="M271.09 350.95 C271.13 350.68 271.21 349.79 271.32 349.32 C271.43 348.85 271.53 348.36 271.73 348.12 C271.93 347.87 272.19 347.78 272.51 347.84 C272.83 347.90 273.25 348.20 273.65 348.47 C274.06 348.74 274.55 349.20 274.96 349.48 C275.36 349.76 275.79 350.06 276.11 350.13 C276.43 350.19 276.70 350.12 276.90 349.88 C277.10 349.64 277.21 349.16 277.32 348.70 C277.43 348.23 277.45 347.56 277.55 347.07 C277.65 346.58 277.73 346.04 277.91 345.74 C278.08 345.44 278.31 345.27 278.61 345.28 C278.91 345.28 279.31 345.52 279.70 345.77 C280.10 346.02 280.58 346.47 281.00 346.76 C281.42 347.06 281.86 347.41 282.20 347.53 C282.55 347.65 282.84 347.65 283.07 347.46 C283.29 347.28 283.42 346.87 283.54 346.43 C283.66 345.99 283.69 345.33 283.79 344.83 C283.88 344.32 284.05 343.63 284.10 343.39" fill="none" stroke="#2c9de0" stroke-width="1.9" stroke-linecap="round"/>
<path d="M214.20 362.97 C214.05 363.02 213.60 363.35 213.29 363.27 C212.99 363.20 212.69 362.88 212.39 362.52 C212.08 362.16 211.78 361.58 211.48 361.14 C211.18 360.70 210.87 360.18 210.57 359.91 C210.27 359.63 209.97 359.46 209.66 359.51 C209.36 359.56 209.06 359.84 208.76 360.18 C208.45 360.51 208.15 361.09 207.85 361.53 C207.55 361.97 207.24 362.51 206.94 362.81 C206.64 363.10 206.34 363.31 206.03 363.30 C205.73 363.28 205.43 363.04 205.13 362.72 C204.83 362.41 204.52 361.84 204.22 361.40 C203.92 360.96 203.62 360.40 203.31 360.08 C203.01 359.77 202.71 359.52 202.41 359.50 C202.10 359.49 201.80 359.69 201.50 359.99 C201.20 360.28 200.89 360.82 200.59 361.26 C200.29 361.70 199.99 362.28 199.68 362.62 C199.38 362.96 199.08 363.24 198.78 363.29 C198.47 363.34 198.02 362.96 197.87 362.90" fill="none" stroke="#2c9de0" stroke-width="1.9" stroke-linecap="round"/>
<path d="M272.88 358.42 C273.04 358.62 273.50 359.21 273.81 359.63 C274.12 360.05 274.43 360.62 274.74 360.95 C275.04 361.28 275.34 361.56 275.63 361.61 C275.92 361.65 276.20 361.49 276.47 361.21 C276.74 360.93 277.00 360.40 277.26 359.95 C277.52 359.51 277.78 358.90 278.05 358.52 C278.31 358.14 278.58 357.79 278.86 357.69 C279.14 357.58 279.43 357.68 279.73 357.90 C280.03 358.12 280.34 358.60 280.65 359.01 C280.96 359.42 281.27 360.01 281.58 360.37 C281.89 360.74 282.19 361.09 282.48 361.19 C282.77 361.30 283.06 361.22 283.33 360.99 C283.61 360.77 283.87 360.29 284.13 359.85 C284.39 359.42 284.65 358.80 284.91 358.39 C285.18 357.98 285.44 357.56 285.72 357.40 C286.00 357.24 286.29 357.25 286.58 357.41 C286.88 357.58 287.18 358.00 287.49 358.40 C287.80 358.79 288.27 359.55 288.42 359.77" fill="none" stroke="#2c9de0" stroke-width="1.9" stroke-linecap="round"/>
<path d="M215.39 369.73 C215.20 369.62 214.57 369.14 214.24 369.08 C213.90 369.02 213.62 369.12 213.39 369.38 C213.15 369.63 213.00 370.13 212.84 370.61 C212.68 371.09 212.58 371.76 212.42 372.24 C212.27 372.72 212.12 373.24 211.89 373.51 C211.66 373.78 211.39 373.91 211.06 373.86 C210.73 373.82 210.32 373.54 209.91 373.26 C209.51 372.98 209.04 372.49 208.62 372.19 C208.20 371.88 207.77 371.52 207.42 371.41 C207.07 371.30 206.76 371.32 206.51 371.52 C206.26 371.72 206.09 372.16 205.92 372.61 C205.75 373.06 205.65 373.72 205.50 374.22 C205.34 374.73 205.21 375.29 205.00 375.61 C204.79 375.94 204.54 376.14 204.23 376.15 C203.92 376.17 203.53 375.95 203.14 375.70 C202.74 375.45 202.27 374.98 201.85 374.66 C201.43 374.34 200.98 373.93 200.62 373.77 C200.25 373.61 199.81 373.71 199.65 373.70" fill="none" stroke="#2c9de0" stroke-width="1.9" stroke-linecap="round"/>
<path d="M271.51 370.82 C271.67 370.73 272.11 370.58 272.45 370.30 C272.79 370.03 273.19 369.53 273.55 369.17 C273.91 368.82 274.29 368.37 274.61 368.17 C274.93 367.97 275.22 367.87 275.46 367.98 C275.70 368.08 275.87 368.42 276.03 368.81 C276.19 369.20 276.29 369.82 276.43 370.31 C276.56 370.80 276.66 371.40 276.84 371.75 C277.01 372.11 277.20 372.38 277.45 372.44 C277.70 372.49 278.01 372.33 278.34 372.09 C278.67 371.85 279.06 371.38 279.42 371.02 C279.78 370.66 280.17 370.18 280.51 369.94 C280.84 369.70 281.15 369.52 281.40 369.56 C281.65 369.61 281.85 369.87 282.02 370.22 C282.19 370.57 282.30 371.16 282.44 371.65 C282.57 372.14 282.67 372.76 282.83 373.16 C282.99 373.55 283.16 373.90 283.39 374.02 C283.63 374.13 283.92 374.04 284.23 373.85 C284.55 373.66 285.12 373.03 285.29 372.87" fill="none" stroke="#2c9de0" stroke-width="1.9" stroke-linecap="round"/>
<path d="M219.11 377.67 C219.13 377.94 219.23 378.83 219.19 379.27 C219.16 379.71 219.10 380.12 218.90 380.33 C218.71 380.53 218.40 380.57 218.03 380.51 C217.66 380.45 217.14 380.18 216.67 379.97 C216.20 379.77 215.64 379.43 215.20 379.28 C214.77 379.13 214.35 379.00 214.07 379.08 C213.79 379.16 213.62 379.40 213.52 379.74 C213.42 380.09 213.46 380.65 213.47 381.16 C213.48 381.67 213.59 382.32 213.58 382.79 C213.56 383.26 213.54 383.73 213.38 383.98 C213.22 384.24 212.96 384.34 212.61 384.33 C212.27 384.31 211.78 384.08 211.32 383.89 C210.86 383.70 210.29 383.35 209.84 383.17 C209.39 383.00 208.93 382.82 208.62 382.85 C208.30 382.87 208.08 383.04 207.96 383.35 C207.83 383.65 207.84 384.16 207.84 384.66 C207.84 385.15 207.95 385.81 207.95 386.30 C207.95 386.79 207.86 387.39 207.84 387.61" fill="none" stroke="#2c9de0" stroke-width="1.9" stroke-linecap="round"/>
<path d="M269.22 375.93 C269.33 376.00 269.75 376.09 269.88 376.37 C270.01 376.65 270.00 377.15 270.00 377.63 C270.00 378.12 269.89 378.77 269.89 379.26 C269.88 379.75 269.86 380.27 269.98 380.57 C270.10 380.88 270.30 381.05 270.59 381.08 C270.89 381.11 271.32 380.92 271.76 380.74 C272.19 380.56 272.74 380.19 273.19 379.98 C273.64 379.77 274.12 379.51 274.46 379.48 C274.80 379.44 275.07 379.51 275.23 379.75 C275.39 379.98 275.42 380.43 275.44 380.88 C275.45 381.34 275.35 381.99 275.33 382.49 C275.32 383.00 275.27 383.56 275.36 383.91 C275.45 384.26 275.60 384.50 275.86 384.58 C276.13 384.66 276.53 384.53 276.94 384.37 C277.36 384.22 277.90 383.87 278.36 383.65 C278.82 383.42 279.32 383.13 279.69 383.05 C280.06 382.96 280.37 382.97 280.56 383.15 C280.76 383.34 280.81 383.98 280.86 384.15" fill="none" stroke="#2c9de0" stroke-width="1.9" stroke-linecap="round"/>
<path d="M226.41 385.28 C226.14 385.24 225.32 385.14 224.81 385.09 C224.29 385.04 223.70 384.94 223.30 384.99 C222.91 385.04 222.60 385.15 222.45 385.39 C222.31 385.63 222.35 386.02 222.44 386.45 C222.53 386.87 222.81 387.45 222.98 387.94 C223.16 388.43 223.42 388.99 223.49 389.39 C223.55 389.80 223.55 390.16 223.37 390.37 C223.20 390.59 222.84 390.67 222.42 390.70 C222.01 390.73 221.39 390.60 220.87 390.55 C220.35 390.50 219.73 390.38 219.31 390.40 C218.88 390.42 218.50 390.48 218.31 390.69 C218.12 390.89 218.10 391.23 218.16 391.63 C218.21 392.03 218.46 392.58 218.64 393.07 C218.81 393.56 219.09 394.14 219.19 394.57 C219.29 395.01 219.35 395.41 219.22 395.66 C219.09 395.92 218.80 396.04 218.42 396.10 C218.04 396.16 217.46 396.06 216.94 396.02 C216.43 395.97 215.60 395.86 215.33 395.82" fill="none" stroke="#2c9de0" stroke-width="1.9" stroke-linecap="round"/>
<path d="M260.79 385.28 C260.79 385.46 260.62 386.13 260.74 386.39 C260.86 386.65 261.15 386.79 261.52 386.86 C261.89 386.92 262.47 386.83 262.98 386.78 C263.50 386.74 264.14 386.60 264.60 386.59 C265.07 386.59 265.51 386.60 265.76 386.76 C266.01 386.92 266.11 387.20 266.10 387.57 C266.10 387.93 265.89 388.45 265.73 388.93 C265.56 389.42 265.26 390.01 265.13 390.47 C265.00 390.93 264.88 391.39 264.95 391.69 C265.03 391.99 265.24 392.17 265.58 392.27 C265.91 392.37 266.44 392.31 266.95 392.27 C267.45 392.24 268.10 392.09 268.59 392.06 C269.07 392.04 269.57 392.01 269.87 392.14 C270.17 392.26 270.33 392.49 270.36 392.82 C270.40 393.15 270.23 393.64 270.09 394.11 C269.94 394.58 269.64 395.18 269.49 395.65 C269.34 396.13 269.16 396.62 269.19 396.96 C269.22 397.29 269.58 397.55 269.66 397.67" fill="none" stroke="#2c9de0" stroke-width="1.9" stroke-linecap="round"/>
<path d="M231.89 388.42 C232.00 388.60 232.26 389.09 232.55 389.47 C232.85 389.84 233.33 390.28 233.63 390.66 C233.94 391.04 234.28 391.43 234.37 391.73 C234.47 392.03 234.43 392.28 234.22 392.47 C234.00 392.66 233.55 392.77 233.10 392.87 C232.65 392.97 232.00 393.00 231.52 393.09 C231.03 393.18 230.50 393.25 230.20 393.41 C229.91 393.57 229.74 393.78 229.75 394.05 C229.76 394.32 230.01 394.68 230.28 395.04 C230.54 395.40 231.02 395.84 231.34 396.23 C231.65 396.61 232.04 397.02 232.19 397.34 C232.34 397.66 232.37 397.94 232.22 398.15 C232.06 398.36 231.68 398.49 231.26 398.60 C230.84 398.71 230.20 398.75 229.70 398.83 C229.21 398.92 228.63 398.98 228.28 399.12 C227.94 399.26 227.70 399.44 227.65 399.69 C227.61 399.94 227.79 400.27 228.02 400.62 C228.25 400.97 228.86 401.60 229.03 401.79" fill="none" stroke="#2c9de0" stroke-width="1.9" stroke-linecap="round"/>
<path d="M253.85 388.96 C254.09 389.01 254.94 389.12 255.30 389.27 C255.65 389.42 255.91 389.60 255.97 389.86 C256.03 390.11 255.87 390.45 255.65 390.81 C255.43 391.17 254.98 391.61 254.66 392.01 C254.34 392.40 253.91 392.84 253.71 393.19 C253.51 393.54 253.39 393.86 253.48 394.11 C253.57 394.35 253.88 394.52 254.26 394.66 C254.64 394.80 255.25 394.86 255.75 394.96 C256.25 395.05 256.88 395.10 257.28 395.24 C257.67 395.37 258.01 395.53 258.13 395.77 C258.24 396.00 258.15 396.31 257.98 396.66 C257.80 397.00 257.38 397.43 257.06 397.83 C256.74 398.22 256.28 398.67 256.05 399.03 C255.81 399.40 255.62 399.75 255.65 400.01 C255.68 400.28 255.91 400.47 256.25 400.63 C256.58 400.79 257.16 400.86 257.65 400.96 C258.15 401.05 258.80 401.10 259.23 401.22 C259.66 401.34 260.07 401.61 260.24 401.69" fill="none" stroke="#2c9de0" stroke-width="1.9" stroke-linecap="round"/>
<path d="M244.45 390.85 C244.39 390.98 244.37 391.38 244.11 391.63 C243.85 391.89 243.33 392.14 242.89 392.39 C242.45 392.64 241.84 392.88 241.46 393.13 C241.08 393.39 240.72 393.64 240.61 393.90 C240.50 394.16 240.59 394.43 240.80 394.71 C241.02 394.98 241.49 395.26 241.91 395.54 C242.32 395.82 242.92 396.11 243.29 396.39 C243.67 396.67 244.04 396.94 244.16 397.21 C244.29 397.48 244.23 397.75 244.02 398.01 C243.81 398.26 243.35 398.51 242.92 398.76 C242.50 399.02 241.88 399.26 241.47 399.51 C241.07 399.76 240.64 400.01 240.47 400.27 C240.30 400.53 240.30 400.80 240.46 401.07 C240.62 401.34 241.04 401.62 241.43 401.90 C241.83 402.18 242.43 402.47 242.83 402.75 C243.23 403.03 243.67 403.31 243.85 403.58 C244.02 403.85 244.05 404.12 243.90 404.38 C243.75 404.64 243.10 405.01 242.94 405.14" fill="none" stroke="#2c9de0" stroke-width="1.9" stroke-linecap="round"/>
<path d="M245.42 390.75 C245.19 390.91 244.44 391.39 244.03 391.71 C243.63 392.02 243.18 392.34 242.99 392.65 C242.81 392.95 242.77 393.26 242.91 393.55 C243.05 393.85 243.44 394.14 243.84 394.42 C244.23 394.71 244.85 394.99 245.28 395.28 C245.72 395.56 246.21 395.85 246.45 396.14 C246.68 396.43 246.79 396.73 246.70 397.03 C246.61 397.34 246.27 397.65 245.91 397.96 C245.55 398.28 244.96 398.60 244.54 398.91 C244.12 399.23 243.62 399.55 243.38 399.86 C243.14 400.17 243.02 400.47 243.10 400.77 C243.18 401.07 243.50 401.36 243.87 401.65 C244.23 401.94 244.83 402.22 245.27 402.50 C245.72 402.79 246.26 403.07 246.55 403.36 C246.83 403.65 247.02 403.95 246.99 404.25 C246.96 404.55 246.69 404.86 246.37 405.17 C246.05 405.49 245.48 405.81 245.06 406.12 C244.63 406.44 244.01 406.91 243.80 407.07" fill="none" stroke="#2c9de0" stroke-width="1.9" stroke-linecap="round"/>
<path d="M250.31 390.06 C250.28 390.22 250.02 390.75 250.12 391.03 C250.23 391.30 250.56 391.51 250.96 391.70 C251.35 391.89 251.98 392.02 252.48 392.18 C252.99 392.34 253.60 392.46 253.98 392.66 C254.35 392.86 254.66 393.07 254.74 393.36 C254.82 393.64 254.69 393.98 254.48 394.34 C254.26 394.71 253.81 395.14 253.47 395.55 C253.13 395.95 252.66 396.39 252.42 396.76 C252.19 397.13 252.01 397.49 252.06 397.78 C252.11 398.07 252.37 398.30 252.72 398.50 C253.07 398.70 253.66 398.84 254.16 399.00 C254.66 399.16 255.31 399.28 255.72 399.46 C256.14 399.65 256.51 399.85 256.66 400.11 C256.80 400.37 256.74 400.69 256.57 401.05 C256.41 401.40 255.99 401.82 255.66 402.22 C255.32 402.62 254.83 403.07 254.56 403.45 C254.29 403.83 254.04 404.21 254.03 404.51 C254.02 404.82 254.43 405.16 254.50 405.29" fill="none" stroke="#2c9de0" stroke-width="1.9" stroke-linecap="round"/>
<path d="M233.99 389.23 C234.14 389.41 234.57 389.93 234.91 390.30 C235.25 390.67 235.75 391.08 236.04 391.43 C236.33 391.78 236.60 392.13 236.63 392.41 C236.66 392.69 236.50 392.91 236.22 393.10 C235.94 393.29 235.40 393.40 234.92 393.54 C234.45 393.67 233.79 393.75 233.35 393.89 C232.91 394.03 232.46 394.18 232.26 394.39 C232.06 394.60 232.03 394.86 232.14 395.16 C232.26 395.47 232.62 395.84 232.95 396.20 C233.28 396.57 233.79 396.98 234.10 397.34 C234.42 397.70 234.75 398.07 234.84 398.36 C234.92 398.65 234.85 398.90 234.62 399.10 C234.39 399.31 233.91 399.44 233.45 399.58 C232.99 399.72 232.34 399.80 231.87 399.93 C231.40 400.07 230.90 400.19 230.64 400.39 C230.39 400.58 230.28 400.82 230.34 401.11 C230.40 401.39 230.70 401.75 231.00 402.11 C231.31 402.46 231.96 403.05 232.15 403.24" fill="none" stroke="#2c9de0" stroke-width="1.9" stroke-linecap="round"/>
<path d="M260.54 385.43 C260.78 385.46 261.60 385.43 261.93 385.56 C262.27 385.69 262.48 385.91 262.54 386.22 C262.60 386.53 262.45 386.99 262.29 387.45 C262.14 387.91 261.80 388.49 261.62 388.97 C261.43 389.45 261.19 389.97 261.16 390.34 C261.14 390.71 261.22 391.01 261.47 391.20 C261.71 391.39 262.16 391.44 262.63 391.48 C263.10 391.52 263.76 391.43 264.28 391.43 C264.80 391.43 265.39 391.39 265.77 391.49 C266.14 391.60 266.42 391.76 266.53 392.04 C266.64 392.32 266.55 392.74 266.43 393.18 C266.30 393.62 265.98 394.19 265.78 394.68 C265.58 395.17 265.31 395.71 265.24 396.11 C265.17 396.51 265.19 396.86 265.38 397.08 C265.58 397.30 265.97 397.40 266.41 397.45 C266.84 397.51 267.48 397.44 268.01 397.44 C268.54 397.43 269.16 397.37 269.58 397.44 C269.99 397.52 270.35 397.81 270.50 397.89" fill="none" stroke="#2c9de0" stroke-width="1.9" stroke-linecap="round"/>
<path d="M228.73 386.83 C228.58 386.89 228.21 387.10 227.80 387.14 C227.39 387.17 226.77 387.07 226.26 387.03 C225.75 387.00 225.15 386.90 224.75 386.94 C224.34 386.98 224.00 387.07 223.86 387.28 C223.71 387.49 223.74 387.82 223.85 388.20 C223.95 388.59 224.27 389.11 224.49 389.57 C224.71 390.03 225.04 390.56 225.17 390.96 C225.30 391.36 225.38 391.73 225.27 391.96 C225.16 392.19 224.86 392.31 224.49 392.37 C224.12 392.42 223.53 392.34 223.02 392.31 C222.52 392.28 221.89 392.17 221.45 392.18 C221.02 392.20 220.62 392.24 220.42 392.42 C220.22 392.59 220.19 392.88 220.25 393.24 C220.32 393.59 220.60 394.09 220.81 394.55 C221.02 395.00 221.37 395.55 221.54 395.97 C221.70 396.39 221.84 396.80 221.78 397.06 C221.72 397.33 221.49 397.49 221.16 397.58 C220.83 397.67 220.01 397.58 219.78 397.58" fill="none" stroke="#2c9de0" stroke-width="1.9" stroke-linecap="round"/>
<path d="M244.38 331.00 C244.21 330.85 243.68 330.39 243.35 330.08 C243.01 329.77 242.65 329.46 242.39 329.16 C242.13 328.85 241.90 328.54 241.80 328.23 C241.69 327.93 241.67 327.62 241.75 327.31 C241.83 327.00 242.03 326.70 242.27 326.39 C242.51 326.08 242.87 325.77 243.19 325.47 C243.52 325.16 243.92 324.85 244.24 324.54 C244.56 324.24 244.88 323.93 245.09 323.62 C245.30 323.31 245.45 323.01 245.49 322.70 C245.53 322.39 245.46 322.09 245.31 321.78 C245.17 321.47 244.90 321.16 244.62 320.86 C244.33 320.55 243.95 320.24 243.61 319.93 C243.28 319.63 242.89 319.32 242.60 319.01 C242.32 318.70 242.05 318.40 241.90 318.09 C241.75 317.78 241.68 317.47 241.71 317.17 C241.74 316.86 241.89 316.55 242.10 316.24 C242.30 315.94 242.62 315.63 242.94 315.32 C243.25 315.01 243.81 314.55 243.98 314.40" fill="none" stroke="#2c9de0" stroke-width="1.9" stroke-linecap="round"/>
<path d="M217.89 345.13 C217.69 345.20 217.11 345.40 216.71 345.55 C216.31 345.70 215.88 345.91 215.49 346.04 C215.10 346.17 214.71 346.31 214.38 346.34 C214.05 346.37 213.76 346.34 213.51 346.22 C213.27 346.10 213.08 345.88 212.93 345.61 C212.78 345.33 212.69 344.94 212.60 344.55 C212.52 344.16 212.48 343.69 212.41 343.26 C212.35 342.84 212.30 342.37 212.20 342.00 C212.11 341.63 212.00 341.28 211.83 341.03 C211.66 340.78 211.45 340.61 211.19 340.52 C210.92 340.43 210.60 340.45 210.26 340.51 C209.91 340.56 209.51 340.72 209.11 340.86 C208.72 341.01 208.28 341.22 207.89 341.37 C207.49 341.51 207.09 341.67 206.74 341.73 C206.39 341.80 206.07 341.82 205.80 341.73 C205.54 341.65 205.32 341.48 205.15 341.24 C204.98 341.00 204.86 340.65 204.77 340.29 C204.67 339.92 204.59 339.24 204.55 339.03" fill="none" stroke="#2c9de0" stroke-width="1.9" stroke-linecap="round"/>
<path d="M270.06 346.43 C270.10 346.21 270.20 345.51 270.29 345.10 C270.39 344.69 270.49 344.28 270.64 343.97 C270.80 343.66 270.99 343.41 271.23 343.26 C271.47 343.10 271.77 343.04 272.11 343.04 C272.44 343.04 272.83 343.15 273.23 343.26 C273.63 343.37 274.08 343.57 274.49 343.71 C274.91 343.86 275.35 344.04 275.74 344.13 C276.12 344.22 276.50 344.29 276.81 344.26 C277.13 344.22 277.40 344.12 277.62 343.92 C277.84 343.73 278.00 343.43 278.14 343.09 C278.28 342.75 278.36 342.31 278.45 341.89 C278.54 341.47 278.58 340.97 278.67 340.55 C278.76 340.13 278.84 339.69 278.98 339.35 C279.12 339.01 279.28 338.71 279.50 338.51 C279.72 338.32 279.99 338.21 280.30 338.17 C280.62 338.14 280.99 338.21 281.38 338.30 C281.76 338.39 282.20 338.57 282.62 338.72 C283.04 338.86 283.67 339.09 283.88 339.17" fill="none" stroke="#2c9de0" stroke-width="1.9" stroke-linecap="round"/>
<path d="M215.25 372.53 C215.13 372.65 214.76 372.94 214.57 373.25 C214.37 373.57 214.23 373.98 214.08 374.40 C213.94 374.81 213.83 375.30 213.69 375.73 C213.55 376.16 213.42 376.62 213.25 376.97 C213.07 377.33 212.88 377.65 212.64 377.86 C212.40 378.07 212.12 378.19 211.80 378.24 C211.48 378.28 211.11 378.21 210.73 378.12 C210.34 378.02 209.91 377.82 209.49 377.65 C209.07 377.48 208.63 377.25 208.22 377.09 C207.81 376.94 207.40 376.79 207.04 376.74 C206.67 376.70 206.34 376.70 206.05 376.82 C205.77 376.93 205.52 377.14 205.31 377.41 C205.10 377.69 204.94 378.07 204.79 378.47 C204.63 378.86 204.52 379.35 204.38 379.78 C204.25 380.21 204.13 380.69 203.97 381.07 C203.80 381.45 203.63 381.81 203.41 382.06 C203.19 382.31 202.93 382.49 202.63 382.58 C202.33 382.66 201.78 382.57 201.61 382.57" fill="none" stroke="#2c9de0" stroke-width="1.9" stroke-linecap="round"/>
<path d="M271.63 373.22 C271.81 373.18 272.37 373.00 272.69 373.01 C273.00 373.02 273.28 373.11 273.51 373.29 C273.75 373.47 273.93 373.75 274.10 374.08 C274.26 374.41 274.38 374.84 274.50 375.26 C274.63 375.68 274.72 376.16 274.85 376.58 C274.97 376.99 275.09 377.42 275.26 377.74 C275.43 378.06 275.62 378.34 275.86 378.51 C276.10 378.68 276.38 378.76 276.70 378.77 C277.01 378.77 277.38 378.66 277.76 378.54 C278.14 378.41 278.56 378.19 278.96 378.01 C279.36 377.83 279.79 377.59 280.18 377.45 C280.56 377.30 280.95 377.17 281.28 377.14 C281.61 377.11 281.91 377.15 282.16 377.29 C282.42 377.43 282.63 377.67 282.81 377.96 C282.99 378.26 283.12 378.66 283.25 379.06 C283.38 379.46 283.48 379.95 283.60 380.37 C283.72 380.79 283.83 381.25 283.98 381.60 C284.13 381.95 284.43 382.34 284.52 382.49" fill="none" stroke="#2c9de0" stroke-width="1.9" stroke-linecap="round"/>
<path d="M244.38 391.80 C244.52 391.94 245.00 392.34 245.18 392.61 C245.37 392.88 245.49 393.15 245.50 393.42 C245.51 393.69 245.41 393.96 245.24 394.23 C245.07 394.50 244.78 394.77 244.48 395.04 C244.18 395.31 243.79 395.59 243.46 395.86 C243.12 396.13 242.74 396.40 242.47 396.67 C242.20 396.94 241.96 397.21 241.83 397.48 C241.71 397.75 241.67 398.02 241.73 398.29 C241.79 398.56 241.97 398.83 242.20 399.10 C242.42 399.37 242.76 399.64 243.09 399.91 C243.41 400.18 243.81 400.45 244.13 400.72 C244.46 400.99 244.80 401.26 245.02 401.53 C245.24 401.80 245.42 402.07 245.47 402.34 C245.53 402.61 245.48 402.89 245.36 403.16 C245.23 403.43 244.98 403.70 244.71 403.97 C244.44 404.24 244.06 404.51 243.72 404.78 C243.39 405.05 242.99 405.32 242.70 405.59 C242.40 405.86 242.07 406.26 241.95 406.40" fill="none" stroke="#2c9de0" stroke-width="1.9" stroke-linecap="round"/>
<circle cx="243.6" cy="361.4" r="32.4" fill="url(#shell)"/>
<path d="M243.09 330.01 C231.45 332.04 215.76 353.30 216.26 376.08 Q243.60 384.69 270.94 375.57 C271.44 353.30 255.75 332.04 243.09 330.01 Z" fill="#3cbf8c"/>
<path d="M243.09 330.01 C255.75 332.04 271.44 353.30 270.94 375.57 L266.38 373.55 C265.88 356.34 250.18 336.09 243.60 334.06 Z" fill="#58d6a6"/>
<path d="M216.26 376.08 Q243.60 384.69 270.94 375.57 L266.38 373.55 Q243.60 378.81 219.81 374.36 Z" fill="#3de08a"/>
<path d="M243.60 334.06 C237.02 336.09 220.82 356.34 219.81 374.36 Q243.60 378.81 266.38 373.55 C265.88 356.34 250.18 336.09 243.60 334.06 Z" fill="url(#core)"/>
<path d="M223.35 368.99 Q243.60 373.04 263.34 368.49" fill="none" stroke="#d6de3a" stroke-width="2.43" opacity="0.6"/>
<path d="M240.88 327.01 L239.93 328.66 L238.02 328.66 L238.97 330.31 L238.02 331.96 L239.93 331.96 L240.88 333.61 L241.83 331.96 L243.74 331.96 L242.78 330.31 L243.74 328.66 L241.83 328.66 Z" fill="#c3203a" stroke="#a01028" stroke-width="0.3" stroke-linejoin="round"/>
<path d="M259.65 327.91 L258.70 329.56 L256.80 329.56 L257.75 331.21 L256.80 332.86 L258.70 332.86 L259.65 334.51 L260.61 332.86 L262.51 332.86 L261.56 331.21 L262.51 329.56 L260.61 329.56 Z" fill="#c3203a" stroke="#a01028" stroke-width="0.3" stroke-linejoin="round"/>
<path d="M221.62 331.91 L220.67 333.56 L218.77 333.56 L219.72 335.21 L218.77 336.86 L220.67 336.86 L221.62 338.51 L222.58 336.86 L224.48 336.86 L223.53 335.21 L224.48 333.56 L222.58 333.56 Z" fill="#c3203a" stroke="#a01028" stroke-width="0.3" stroke-linejoin="round"/>
<path d="M274.81 341.51 L273.86 343.16 L271.95 343.16 L272.90 344.81 L271.95 346.46 L273.86 346.46 L274.81 348.11 L275.76 346.46 L277.67 346.46 L276.71 344.81 L277.67 343.16 L275.76 343.16 Z" fill="#c3203a" stroke="#a01028" stroke-width="0.3" stroke-linejoin="round"/>
<path d="M214.75 347.60 L213.80 349.25 L211.89 349.25 L212.85 350.90 L211.89 352.55 L213.80 352.55 L214.75 354.20 L215.70 352.55 L217.61 352.55 L216.66 350.90 L217.61 349.25 L215.70 349.25 Z" fill="#c3203a" stroke="#a01028" stroke-width="0.3" stroke-linejoin="round"/>
<path d="M214.46 368.71 L213.50 370.36 L211.60 370.36 L212.55 372.01 L211.60 373.66 L213.50 373.66 L214.46 375.31 L215.41 373.66 L217.31 373.66 L216.36 372.01 L217.31 370.36 L215.41 370.36 Z" fill="#c3203a" stroke="#a01028" stroke-width="0.3" stroke-linejoin="round"/>
<path d="M226.15 383.03 L225.19 384.68 L223.29 384.68 L224.24 386.33 L223.29 387.98 L225.19 387.98 L226.15 389.63 L227.10 387.98 L229.00 387.98 L228.05 386.33 L229.00 384.68 L227.10 384.68 Z" fill="#c3203a" stroke="#a01028" stroke-width="0.3" stroke-linejoin="round"/>
<path d="M238.22 388.61 L237.27 390.26 L235.36 390.26 L236.32 391.91 L235.36 393.56 L237.27 393.56 L238.22 395.21 L239.17 393.56 L241.08 393.56 L240.13 391.91 L241.08 390.26 L239.17 390.26 Z" fill="#c3203a" stroke="#a01028" stroke-width="0.3" stroke-linejoin="round"/>
<path d="M255.41 390.56 L254.46 392.21 L252.55 392.21 L253.51 393.86 L252.55 395.51 L254.46 395.51 L255.41 397.16 L256.37 395.51 L258.27 395.51 L257.32 393.86 L258.27 392.21 L256.37 392.21 Z" fill="#c3203a" stroke="#a01028" stroke-width="0.3" stroke-linejoin="round"/>
<path d="M266.13 378.38 L265.17 380.03 L263.27 380.03 L264.22 381.68 L263.27 383.33 L265.17 383.33 L266.13 384.98 L267.08 383.33 L268.98 383.33 L268.03 381.68 L268.98 380.03 L267.08 380.03 Z" fill="#c3203a" stroke="#a01028" stroke-width="0.3" stroke-linejoin="round"/>
<path d="M275.59 366.67 L274.64 368.32 L272.73 368.32 L273.69 369.97 L272.73 371.62 L274.64 371.62 L275.59 373.27 L276.54 371.62 L278.45 371.62 L277.50 369.97 L278.45 368.32 L276.54 368.32 Z" fill="#c3203a" stroke="#a01028" stroke-width="0.3" stroke-linejoin="round"/>
<path d="M274.03 352.73 L273.08 354.38 L271.17 354.38 L272.12 356.03 L271.17 357.68 L273.08 357.68 L274.03 359.33 L274.98 357.68 L276.89 357.68 L275.93 356.03 L276.89 354.38 L274.98 354.38 Z" fill="#c3203a" stroke="#a01028" stroke-width="0.3" stroke-linejoin="round"/>
<path d="M212.14 358.10 L211.18 359.75 L209.28 359.75 L210.23 361.40 L209.28 363.05 L211.18 363.05 L212.14 364.70 L213.09 363.05 L215.00 363.05 L214.04 361.40 L215.00 359.75 L213.09 359.75 Z" fill="#c3203a" stroke="#a01028" stroke-width="0.3" stroke-linejoin="round"/>
<path d="M232.51 327.63 L231.56 329.28 L229.65 329.28 L230.61 330.93 L229.65 332.58 L231.56 332.58 L232.51 334.23 L233.46 332.58 L235.37 332.58 L234.42 330.93 L235.37 329.28 L233.46 329.28 Z" fill="#c3203a" stroke="#a01028" stroke-width="0.3" stroke-linejoin="round"/>
<path d="M268.54 333.16 L267.58 334.81 L265.68 334.81 L266.63 336.46 L265.68 338.11 L267.58 338.11 L268.54 339.76 L269.49 338.11 L271.39 338.11 L270.44 336.46 L271.39 334.81 L269.49 334.81 Z" fill="#c3203a" stroke="#a01028" stroke-width="0.3" stroke-linejoin="round"/>
<path d="M216.03 338.79 L215.08 340.44 L213.17 340.44 L214.12 342.09 L213.17 343.74 L215.08 343.74 L216.03 345.39 L216.98 343.74 L218.89 343.74 L217.93 342.09 L218.89 340.44 L216.98 340.44 Z" fill="#c3203a" stroke="#a01028" stroke-width="0.3" stroke-linejoin="round"/>
<path d="M219.43 375.02 L218.48 376.67 L216.58 376.67 L217.53 378.32 L216.58 379.97 L218.48 379.97 L219.43 381.62 L220.39 379.97 L222.29 379.97 L221.34 378.32 L222.29 376.67 L220.39 376.67 Z" fill="#c3203a" stroke="#a01028" stroke-width="0.3" stroke-linejoin="round"/>
<path d="M231.86 387.15 L230.91 388.80 L229.01 388.80 L229.96 390.45 L229.01 392.10 L230.91 392.10 L231.86 393.75 L232.82 392.10 L234.72 392.10 L233.77 390.45 L234.72 388.80 L232.82 388.80 Z" fill="#c3203a" stroke="#a01028" stroke-width="0.3" stroke-linejoin="round"/>
<path d="M244.66 388.51 L243.71 390.16 L241.80 390.16 L242.76 391.81 L241.80 393.46 L243.71 393.46 L244.66 395.11 L245.61 393.46 L247.52 393.46 L246.57 391.81 L247.52 390.16 L245.61 390.16 Z" fill="#c3203a" stroke="#a01028" stroke-width="0.3" stroke-linejoin="round"/>
<path d="M263.96 387.18 L263.01 388.83 L261.10 388.83 L262.06 390.48 L261.10 392.13 L263.01 392.13 L263.96 393.78 L264.91 392.13 L266.82 392.13 L265.87 390.48 L266.82 388.83 L264.91 388.83 Z" fill="#c3203a" stroke="#a01028" stroke-width="0.3" stroke-linejoin="round"/>
<path d="M273.97 375.63 L273.02 377.28 L271.11 377.28 L272.06 378.93 L271.11 380.58 L273.02 380.58 L273.97 382.23 L274.92 380.58 L276.83 380.58 L275.88 378.93 L276.83 377.28 L274.92 377.28 Z" fill="#c3203a" stroke="#a01028" stroke-width="0.3" stroke-linejoin="round"/>
<path d="M250.89 323.82 L249.93 325.47 L248.03 325.47 L248.98 327.12 L248.03 328.77 L249.93 328.77 L250.89 330.42 L251.84 328.77 L253.74 328.77 L252.79 327.12 L253.74 325.47 L251.84 325.47 Z" fill="#c3203a" stroke="#a01028" stroke-width="0.3" stroke-linejoin="round"/>
<path d="M250.60 382.20 L249.68 383.80 L247.83 383.80 L248.75 385.40 L247.83 387.00 L249.68 387.00 L250.60 388.60 L251.52 387.00 L253.37 387.00 L252.45 385.40 L253.37 383.80 L251.52 383.80 Z" fill="#c3203a" stroke="#a01028" stroke-width="0.3" stroke-linejoin="round"/>
<path d="M243.00 305.90 L246.40 313.90 Q243.00 315.10 239.60 313.90 Z" fill="#dcb896"/>
<path d="M243.00 305.90 L244.70 313.90 L243.00 313.90 Z" fill="#f2dcc4"/>
<path d="M243.60 414.90 L240.20 406.90 Q243.60 405.70 247.00 406.90 Z" fill="#dcb896"/>
<path d="M243.60 414.90 L241.90 406.90 L243.60 406.90 Z" fill="#f2dcc4"/>
<path d="M197.14 333.90 L205.76 334.96 Q205.10 338.50 202.36 340.84 Z" fill="#dcb896"/>
<path d="M197.14 333.90 L204.91 336.43 L204.06 337.90 Z" fill="#f2dcc4"/>
<path d="M290.06 332.40 L284.84 339.34 Q282.10 337.00 281.44 333.46 Z" fill="#dcb896"/>
<path d="M290.06 332.40 L283.99 337.87 L283.14 336.40 Z" fill="#f2dcc4"/>
<path d="M193.47 387.59 L199.29 381.13 Q201.81 383.70 202.16 387.29 Z" fill="#dcb896"/>
<path d="M193.47 387.59 L200.01 382.67 L200.73 384.21 Z" fill="#f2dcc4"/>
<path d="M292.23 388.59 L283.54 388.29 Q283.89 384.70 286.41 382.13 Z" fill="#dcb896"/>
<path d="M292.23 388.59 L284.26 386.75 L284.97 385.21 Z" fill="#f2dcc4"/>
<text x="20.40" y="305.20" font-size="7.2" stroke="#000" stroke-width="0.12" transform="translate(20.40 305.20) scale(1 1.1) translate(-20.40 -305.20)" dominant-baseline="central">Ex 808 nm</text>
<text x="104.80" y="305.20" font-size="7.2" stroke="#000" stroke-width="0.12" transform="translate(104.80 305.20) scale(1 1.1) translate(-104.80 -305.20)" dominant-baseline="central">Em 1525 nm "<tspan fill="#aaa" stroke="#aaa">Off</tspan>"</text>
<text x="20.40" y="412.30" font-size="7.2" stroke="#000" stroke-width="0.12" transform="translate(20.40 412.30) scale(1 1.1) translate(-20.40 -412.30)" dominant-baseline="central">Ex 980 nm</text>
<text x="104.80" y="412.30" font-size="7.2" stroke="#000" stroke-width="0.12" transform="translate(104.80 412.30) scale(1 1.1) translate(-104.80 -412.30)" dominant-baseline="central">Em 1525 nm "<tspan fill="#32E2A2" stroke="#32E2A2">On</tspan>"</text>
<text x="173.30" y="305.20" font-size="7.2" stroke="#000" stroke-width="0.12" transform="translate(173.30 305.20) scale(1 1.1) translate(-173.30 -305.20)" dominant-baseline="central">Ex 808 nm</text>
<text x="257.80" y="305.20" font-size="7.2" stroke="#000" stroke-width="0.12" transform="translate(257.80 305.20) scale(1 1.1) translate(-257.80 -305.20)" dominant-baseline="central">Em 1525 nm "<tspan fill="#F26A6A" stroke="#F26A6A">On</tspan>"</text>
<text x="169.40" y="412.30" font-size="7.2" stroke="#000" stroke-width="0.12" transform="translate(169.40 412.30) scale(1 1.1) translate(-169.40 -412.30)" dominant-baseline="central">Ex 980 nm</text>
<text x="257.80" y="412.30" font-size="7.2" stroke="#000" stroke-width="0.12" transform="translate(257.80 412.30) scale(1 1.1) translate(-257.80 -412.30)" dominant-baseline="central">Em 1525 nm "<tspan fill="#32E2A2" stroke="#32E2A2">On</tspan>"</text>
<text x="101.00" y="320.80" font-size="7.2" text-anchor="middle" stroke="#000" stroke-width="0.12" transform="translate(101.00 320.80) scale(1 1.1) translate(-101.00 -320.80)" dominant-baseline="central">ICT</text>
<path d="M163.50 333.50 L161.97 341.90 L153.51 340.76 L161.03 344.80 L157.33 352.49 L163.50 346.60 L169.67 352.49 L165.97 344.80 L173.49 340.76 L165.03 341.90 Z" fill="url(#starP)" stroke="none" stroke-width="0" stroke-linejoin="round"/>
<path d="M160.09 339.31 L161.41 343.32 L157.98 345.79 L162.21 345.78 L163.50 349.80 L164.79 345.78 L169.02 345.79 L165.59 343.32 L166.91 339.31 L163.50 341.80 Z" fill="#a03ca8" stroke="none" stroke-width="0" stroke-linejoin="round"/>
<line x1="140.60" y1="360.40" x2="181.00" y2="360.40" stroke="#000" stroke-width="1.4"/>
<path d="M187.6 360.4 L177 355.6 L179 360.4 L177 365.2 Z" fill="#000"/>
<text x="163.50" y="369.40" font-size="7.2" text-anchor="middle" stroke="#000" stroke-width="0.12" transform="translate(163.50 369.40) scale(1 1.1) translate(-163.50 -369.40)" dominant-baseline="central">NE</text>
</svg></body></html>
